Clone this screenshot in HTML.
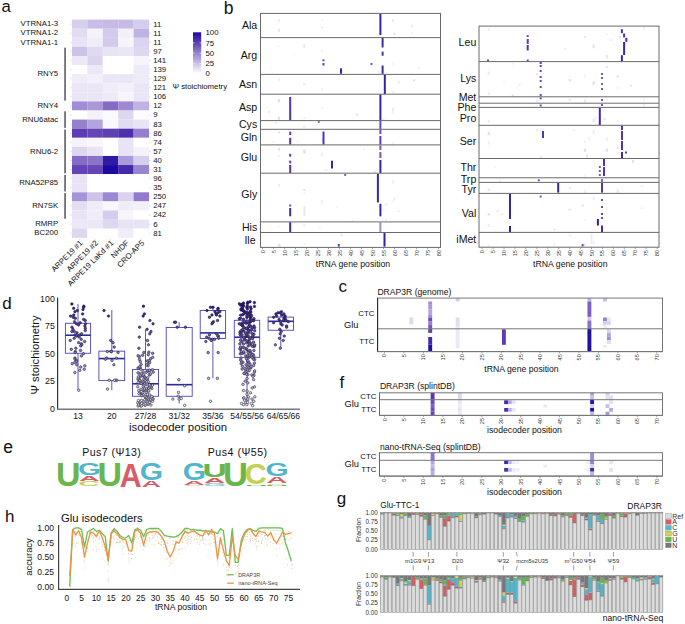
<!DOCTYPE html><html><head><meta charset="utf-8"><style>html,body{margin:0;padding:0;background:#fff;width:685px;height:624px;overflow:hidden}svg{display:block}</style></head><body><svg width="685" height="624" viewBox="0 0 685 624" font-family='"Liberation Sans", sans-serif'><text x="1.60" y="11.60" font-size="16.8" text-anchor="start" fill="#111">a</text>
<text x="223.70" y="13.80" font-size="17.5" text-anchor="start" fill="#111">b</text>
<rect x="72.00" y="19.60" width="15.45" height="9.14" fill="#d7cfee"/>
<rect x="87.40" y="19.60" width="15.45" height="9.14" fill="#c9bde7"/>
<rect x="102.80" y="19.60" width="15.45" height="9.14" fill="#c7bbe6"/>
<rect x="118.20" y="19.60" width="15.45" height="9.14" fill="#c7bbe6"/>
<rect x="133.60" y="19.60" width="15.45" height="9.14" fill="#d5cded"/>
<text x="153.20" y="26.55" font-size="7.8" text-anchor="start" fill="#111">11</text>
<rect x="72.00" y="28.69" width="15.45" height="9.14" fill="#e2dcf2"/>
<rect x="87.40" y="28.69" width="15.45" height="9.14" fill="#f5f2fa"/>
<rect x="102.80" y="28.69" width="15.45" height="9.14" fill="#d3caec"/>
<rect x="118.20" y="28.69" width="15.45" height="9.14" fill="#f3f0f9"/>
<rect x="133.60" y="28.69" width="15.45" height="9.14" fill="#c0b3e3"/>
<text x="153.20" y="35.63" font-size="7.8" text-anchor="start" fill="#111">11</text>
<rect x="72.00" y="37.78" width="15.45" height="9.14" fill="#e8e3f5"/>
<rect x="87.40" y="37.78" width="15.45" height="9.14" fill="#f0edf9"/>
<rect x="102.80" y="37.78" width="15.45" height="9.14" fill="#d3caec"/>
<rect x="118.20" y="37.78" width="15.45" height="9.14" fill="#f7f5fb"/>
<rect x="133.60" y="37.78" width="15.45" height="9.14" fill="#dcd4ef"/>
<text x="153.20" y="44.73" font-size="7.8" text-anchor="start" fill="#111">11</text>
<rect x="72.00" y="46.87" width="15.45" height="9.14" fill="#cdc3e9"/>
<rect x="87.40" y="46.87" width="15.45" height="9.14" fill="#e0d9f1"/>
<rect x="102.80" y="46.87" width="15.45" height="9.14" fill="#e8e3f5"/>
<rect x="118.20" y="46.87" width="15.45" height="9.14" fill="#eae6f6"/>
<rect x="133.60" y="46.87" width="15.45" height="9.14" fill="#ded7f0"/>
<text x="153.20" y="53.82" font-size="7.8" text-anchor="start" fill="#111">97</text>
<rect x="72.00" y="55.96" width="15.45" height="9.14" fill="#ece8f7"/>
<rect x="87.40" y="55.96" width="15.45" height="9.14" fill="#dcd4ef"/>
<rect x="102.80" y="55.96" width="15.45" height="9.14" fill="#ffffff"/>
<rect x="118.20" y="55.96" width="15.45" height="9.14" fill="#ffffff"/>
<rect x="133.60" y="55.96" width="15.45" height="9.14" fill="#f7f5fb"/>
<text x="153.20" y="62.91" font-size="7.8" text-anchor="start" fill="#111">141</text>
<rect x="72.00" y="65.05" width="15.45" height="9.14" fill="#ffffff"/>
<rect x="87.40" y="65.05" width="15.45" height="9.14" fill="#ece8f7"/>
<rect x="102.80" y="65.05" width="15.45" height="9.14" fill="#ffffff"/>
<rect x="118.20" y="65.05" width="15.45" height="9.14" fill="#ffffff"/>
<rect x="133.60" y="65.05" width="15.45" height="9.14" fill="#eeebf8"/>
<text x="153.20" y="72.00" font-size="7.8" text-anchor="start" fill="#111">139</text>
<rect x="72.00" y="74.14" width="15.45" height="9.14" fill="#f0edf9"/>
<rect x="87.40" y="74.14" width="15.45" height="9.14" fill="#f3f0f9"/>
<rect x="102.80" y="74.14" width="15.45" height="9.14" fill="#eae6f6"/>
<rect x="118.20" y="74.14" width="15.45" height="9.14" fill="#eae6f6"/>
<rect x="133.60" y="74.14" width="15.45" height="9.14" fill="#eeebf8"/>
<text x="153.20" y="81.09" font-size="7.8" text-anchor="start" fill="#111">129</text>
<rect x="72.00" y="83.23" width="15.45" height="9.14" fill="#eae6f6"/>
<rect x="87.40" y="83.23" width="15.45" height="9.14" fill="#eae6f6"/>
<rect x="102.80" y="83.23" width="15.45" height="9.14" fill="#f0edf9"/>
<rect x="118.20" y="83.23" width="15.45" height="9.14" fill="#f3f0f9"/>
<rect x="133.60" y="83.23" width="15.45" height="9.14" fill="#eae6f6"/>
<text x="153.20" y="90.17" font-size="7.8" text-anchor="start" fill="#111">121</text>
<rect x="72.00" y="92.32" width="15.45" height="9.14" fill="#eae6f6"/>
<rect x="87.40" y="92.32" width="15.45" height="9.14" fill="#eae6f6"/>
<rect x="102.80" y="92.32" width="15.45" height="9.14" fill="#eeebf8"/>
<rect x="118.20" y="92.32" width="15.45" height="9.14" fill="#f7f5fb"/>
<rect x="133.60" y="92.32" width="15.45" height="9.14" fill="#eae6f6"/>
<text x="153.20" y="99.27" font-size="7.8" text-anchor="start" fill="#111">106</text>
<rect x="72.00" y="101.41" width="15.45" height="9.14" fill="#a18dd3"/>
<rect x="87.40" y="101.41" width="15.45" height="9.14" fill="#a997d7"/>
<rect x="102.80" y="101.41" width="15.45" height="9.14" fill="#856bc6"/>
<rect x="118.20" y="101.41" width="15.45" height="9.14" fill="#9e8ad2"/>
<rect x="133.60" y="101.41" width="15.45" height="9.14" fill="#c0b3e3"/>
<text x="153.20" y="108.36" font-size="7.8" text-anchor="start" fill="#111">12</text>
<rect x="72.00" y="110.50" width="15.45" height="9.14" fill="#ffffff"/>
<rect x="87.40" y="110.50" width="15.45" height="9.14" fill="#f5f2fa"/>
<rect x="102.80" y="110.50" width="15.45" height="9.14" fill="#fbfafd"/>
<rect x="118.20" y="110.50" width="15.45" height="9.14" fill="#ded7f0"/>
<rect x="133.60" y="110.50" width="15.45" height="9.14" fill="#fdfcfe"/>
<text x="153.20" y="117.45" font-size="7.8" text-anchor="start" fill="#111">9</text>
<rect x="72.00" y="119.59" width="15.45" height="9.14" fill="#9680ce"/>
<rect x="87.40" y="119.59" width="15.45" height="9.14" fill="#b4a4dd"/>
<rect x="102.80" y="119.59" width="15.45" height="9.14" fill="#f9f7fc"/>
<rect x="118.20" y="119.59" width="15.45" height="9.14" fill="#e2dcf2"/>
<rect x="133.60" y="119.59" width="15.45" height="9.14" fill="#e8e3f5"/>
<text x="153.20" y="126.54" font-size="7.8" text-anchor="start" fill="#111">83</text>
<rect x="72.00" y="128.68" width="15.45" height="9.14" fill="#5d3cb3"/>
<rect x="87.40" y="128.68" width="15.45" height="9.14" fill="#6646b7"/>
<rect x="102.80" y="128.68" width="15.45" height="9.14" fill="#603eb4"/>
<rect x="118.20" y="128.68" width="15.45" height="9.14" fill="#4d2fae"/>
<rect x="133.60" y="128.68" width="15.45" height="9.14" fill="#9680ce"/>
<text x="153.20" y="135.62" font-size="7.8" text-anchor="start" fill="#111">86</text>
<rect x="72.00" y="137.77" width="15.45" height="9.14" fill="#f5f2fa"/>
<rect x="87.40" y="137.77" width="15.45" height="9.14" fill="#f9f7fc"/>
<rect x="102.80" y="137.77" width="15.45" height="9.14" fill="#ffffff"/>
<rect x="118.20" y="137.77" width="15.45" height="9.14" fill="#e8e3f5"/>
<rect x="133.60" y="137.77" width="15.45" height="9.14" fill="#ffffff"/>
<text x="153.20" y="144.72" font-size="7.8" text-anchor="start" fill="#111">74</text>
<rect x="72.00" y="146.86" width="15.45" height="9.14" fill="#ded7f0"/>
<rect x="87.40" y="146.86" width="15.45" height="9.14" fill="#e8e3f5"/>
<rect x="102.80" y="146.86" width="15.45" height="9.14" fill="#ffffff"/>
<rect x="118.20" y="146.86" width="15.45" height="9.14" fill="#e8e3f5"/>
<rect x="133.60" y="146.86" width="15.45" height="9.14" fill="#f5f2fa"/>
<text x="153.20" y="153.80" font-size="7.8" text-anchor="start" fill="#111">57</text>
<rect x="72.00" y="155.95" width="15.45" height="9.14" fill="#856bc6"/>
<rect x="87.40" y="155.95" width="15.45" height="9.14" fill="#8b73c9"/>
<rect x="102.80" y="155.95" width="15.45" height="9.14" fill="#2f19a6"/>
<rect x="118.20" y="155.95" width="15.45" height="9.14" fill="#ab9ad8"/>
<rect x="133.60" y="155.95" width="15.45" height="9.14" fill="#d7cfee"/>
<text x="153.20" y="162.89" font-size="7.8" text-anchor="start" fill="#111">40</text>
<rect x="72.00" y="165.04" width="15.45" height="9.14" fill="#6443b6"/>
<rect x="87.40" y="165.04" width="15.45" height="9.14" fill="#6646b7"/>
<rect x="102.80" y="165.04" width="15.45" height="9.14" fill="#1c0aa0"/>
<rect x="118.20" y="165.04" width="15.45" height="9.14" fill="#4529ac"/>
<rect x="133.60" y="165.04" width="15.45" height="9.14" fill="#9a85d0"/>
<text x="153.20" y="171.98" font-size="7.8" text-anchor="start" fill="#111">31</text>
<rect x="72.00" y="174.13" width="15.45" height="9.14" fill="#e8e3f5"/>
<rect x="87.40" y="174.13" width="15.45" height="9.14" fill="#ffffff"/>
<rect x="102.80" y="174.13" width="15.45" height="9.14" fill="#ffffff"/>
<rect x="118.20" y="174.13" width="15.45" height="9.14" fill="#ffffff"/>
<rect x="133.60" y="174.13" width="15.45" height="9.14" fill="#ffffff"/>
<text x="153.20" y="181.07" font-size="7.8" text-anchor="start" fill="#111">96</text>
<rect x="72.00" y="183.22" width="15.45" height="9.14" fill="#e8e3f5"/>
<rect x="87.40" y="183.22" width="15.45" height="9.14" fill="#ffffff"/>
<rect x="102.80" y="183.22" width="15.45" height="9.14" fill="#ffffff"/>
<rect x="118.20" y="183.22" width="15.45" height="9.14" fill="#ffffff"/>
<rect x="133.60" y="183.22" width="15.45" height="9.14" fill="#ffffff"/>
<text x="153.20" y="190.16" font-size="7.8" text-anchor="start" fill="#111">35</text>
<rect x="72.00" y="192.31" width="15.45" height="9.14" fill="#a794d6"/>
<rect x="87.40" y="192.31" width="15.45" height="9.14" fill="#cdc3e9"/>
<rect x="102.80" y="192.31" width="15.45" height="9.14" fill="#9c88d1"/>
<rect x="118.20" y="192.31" width="15.45" height="9.14" fill="#dad2ee"/>
<rect x="133.60" y="192.31" width="15.45" height="9.14" fill="#927bcc"/>
<text x="153.20" y="199.25" font-size="7.8" text-anchor="start" fill="#111">250</text>
<rect x="72.00" y="201.40" width="15.45" height="9.14" fill="#e4def3"/>
<rect x="87.40" y="201.40" width="15.45" height="9.14" fill="#f0edf9"/>
<rect x="102.80" y="201.40" width="15.45" height="9.14" fill="#f9f7fc"/>
<rect x="118.20" y="201.40" width="15.45" height="9.14" fill="#f0edf9"/>
<rect x="133.60" y="201.40" width="15.45" height="9.14" fill="#f3f0f9"/>
<text x="153.20" y="208.34" font-size="7.8" text-anchor="start" fill="#111">247</text>
<rect x="72.00" y="210.49" width="15.45" height="9.14" fill="#e8e3f5"/>
<rect x="87.40" y="210.49" width="15.45" height="9.14" fill="#f0edf9"/>
<rect x="102.80" y="210.49" width="15.45" height="9.14" fill="#d5cded"/>
<rect x="118.20" y="210.49" width="15.45" height="9.14" fill="#f7f5fb"/>
<rect x="133.60" y="210.49" width="15.45" height="9.14" fill="#ffffff"/>
<text x="153.20" y="217.43" font-size="7.8" text-anchor="start" fill="#111">242</text>
<rect x="72.00" y="219.58" width="15.45" height="9.14" fill="#ece8f7"/>
<rect x="87.40" y="219.58" width="15.45" height="9.14" fill="#ece8f7"/>
<rect x="102.80" y="219.58" width="15.45" height="9.14" fill="#ded7f0"/>
<rect x="118.20" y="219.58" width="15.45" height="9.14" fill="#e8e3f5"/>
<rect x="133.60" y="219.58" width="15.45" height="9.14" fill="#e8e3f5"/>
<text x="153.20" y="226.52" font-size="7.8" text-anchor="start" fill="#111">6</text>
<rect x="72.00" y="228.67" width="15.45" height="9.14" fill="#ded7f0"/>
<rect x="87.40" y="228.67" width="15.45" height="9.14" fill="#ffffff"/>
<rect x="102.80" y="228.67" width="15.45" height="9.14" fill="#ffffff"/>
<rect x="118.20" y="228.67" width="15.45" height="9.14" fill="#f0edf9"/>
<rect x="133.60" y="228.67" width="15.45" height="9.14" fill="#ffffff"/>
<text x="153.20" y="235.61" font-size="7.8" text-anchor="start" fill="#111">81</text>
<line x1="70.20" y1="24.15" x2="71.80" y2="24.15" stroke="#bbb" stroke-width="0.5"/>
<line x1="149.10" y1="24.15" x2="150.70" y2="24.15" stroke="#bbb" stroke-width="0.5"/>
<line x1="70.20" y1="33.23" x2="71.80" y2="33.23" stroke="#bbb" stroke-width="0.5"/>
<line x1="149.10" y1="33.23" x2="150.70" y2="33.23" stroke="#bbb" stroke-width="0.5"/>
<line x1="70.20" y1="42.33" x2="71.80" y2="42.33" stroke="#bbb" stroke-width="0.5"/>
<line x1="149.10" y1="42.33" x2="150.70" y2="42.33" stroke="#bbb" stroke-width="0.5"/>
<line x1="70.20" y1="51.42" x2="71.80" y2="51.42" stroke="#bbb" stroke-width="0.5"/>
<line x1="149.10" y1="51.42" x2="150.70" y2="51.42" stroke="#bbb" stroke-width="0.5"/>
<line x1="70.20" y1="60.51" x2="71.80" y2="60.51" stroke="#bbb" stroke-width="0.5"/>
<line x1="149.10" y1="60.51" x2="150.70" y2="60.51" stroke="#bbb" stroke-width="0.5"/>
<line x1="70.20" y1="69.60" x2="71.80" y2="69.60" stroke="#bbb" stroke-width="0.5"/>
<line x1="149.10" y1="69.60" x2="150.70" y2="69.60" stroke="#bbb" stroke-width="0.5"/>
<line x1="70.20" y1="78.69" x2="71.80" y2="78.69" stroke="#bbb" stroke-width="0.5"/>
<line x1="149.10" y1="78.69" x2="150.70" y2="78.69" stroke="#bbb" stroke-width="0.5"/>
<line x1="70.20" y1="87.77" x2="71.80" y2="87.77" stroke="#bbb" stroke-width="0.5"/>
<line x1="149.10" y1="87.77" x2="150.70" y2="87.77" stroke="#bbb" stroke-width="0.5"/>
<line x1="70.20" y1="96.86" x2="71.80" y2="96.86" stroke="#bbb" stroke-width="0.5"/>
<line x1="149.10" y1="96.86" x2="150.70" y2="96.86" stroke="#bbb" stroke-width="0.5"/>
<line x1="70.20" y1="105.95" x2="71.80" y2="105.95" stroke="#bbb" stroke-width="0.5"/>
<line x1="149.10" y1="105.95" x2="150.70" y2="105.95" stroke="#bbb" stroke-width="0.5"/>
<line x1="70.20" y1="115.05" x2="71.80" y2="115.05" stroke="#bbb" stroke-width="0.5"/>
<line x1="149.10" y1="115.05" x2="150.70" y2="115.05" stroke="#bbb" stroke-width="0.5"/>
<line x1="70.20" y1="124.14" x2="71.80" y2="124.14" stroke="#bbb" stroke-width="0.5"/>
<line x1="149.10" y1="124.14" x2="150.70" y2="124.14" stroke="#bbb" stroke-width="0.5"/>
<line x1="70.20" y1="133.22" x2="71.80" y2="133.22" stroke="#bbb" stroke-width="0.5"/>
<line x1="149.10" y1="133.22" x2="150.70" y2="133.22" stroke="#bbb" stroke-width="0.5"/>
<line x1="70.20" y1="142.31" x2="71.80" y2="142.31" stroke="#bbb" stroke-width="0.5"/>
<line x1="149.10" y1="142.31" x2="150.70" y2="142.31" stroke="#bbb" stroke-width="0.5"/>
<line x1="70.20" y1="151.40" x2="71.80" y2="151.40" stroke="#bbb" stroke-width="0.5"/>
<line x1="149.10" y1="151.40" x2="150.70" y2="151.40" stroke="#bbb" stroke-width="0.5"/>
<line x1="70.20" y1="160.49" x2="71.80" y2="160.49" stroke="#bbb" stroke-width="0.5"/>
<line x1="149.10" y1="160.49" x2="150.70" y2="160.49" stroke="#bbb" stroke-width="0.5"/>
<line x1="70.20" y1="169.58" x2="71.80" y2="169.58" stroke="#bbb" stroke-width="0.5"/>
<line x1="149.10" y1="169.58" x2="150.70" y2="169.58" stroke="#bbb" stroke-width="0.5"/>
<line x1="70.20" y1="178.67" x2="71.80" y2="178.67" stroke="#bbb" stroke-width="0.5"/>
<line x1="149.10" y1="178.67" x2="150.70" y2="178.67" stroke="#bbb" stroke-width="0.5"/>
<line x1="70.20" y1="187.76" x2="71.80" y2="187.76" stroke="#bbb" stroke-width="0.5"/>
<line x1="149.10" y1="187.76" x2="150.70" y2="187.76" stroke="#bbb" stroke-width="0.5"/>
<line x1="70.20" y1="196.85" x2="71.80" y2="196.85" stroke="#bbb" stroke-width="0.5"/>
<line x1="149.10" y1="196.85" x2="150.70" y2="196.85" stroke="#bbb" stroke-width="0.5"/>
<line x1="70.20" y1="205.94" x2="71.80" y2="205.94" stroke="#bbb" stroke-width="0.5"/>
<line x1="149.10" y1="205.94" x2="150.70" y2="205.94" stroke="#bbb" stroke-width="0.5"/>
<line x1="70.20" y1="215.03" x2="71.80" y2="215.03" stroke="#bbb" stroke-width="0.5"/>
<line x1="149.10" y1="215.03" x2="150.70" y2="215.03" stroke="#bbb" stroke-width="0.5"/>
<line x1="70.20" y1="224.12" x2="71.80" y2="224.12" stroke="#bbb" stroke-width="0.5"/>
<line x1="149.10" y1="224.12" x2="150.70" y2="224.12" stroke="#bbb" stroke-width="0.5"/>
<line x1="70.20" y1="233.21" x2="71.80" y2="233.21" stroke="#bbb" stroke-width="0.5"/>
<line x1="149.10" y1="233.21" x2="150.70" y2="233.21" stroke="#bbb" stroke-width="0.5"/>
<line x1="79.70" y1="238.80" x2="79.70" y2="240.20" stroke="#bbb" stroke-width="0.5"/>
<line x1="95.10" y1="238.80" x2="95.10" y2="240.20" stroke="#bbb" stroke-width="0.5"/>
<line x1="110.50" y1="238.80" x2="110.50" y2="240.20" stroke="#bbb" stroke-width="0.5"/>
<line x1="125.90" y1="238.80" x2="125.90" y2="240.20" stroke="#bbb" stroke-width="0.5"/>
<line x1="141.30" y1="238.80" x2="141.30" y2="240.20" stroke="#bbb" stroke-width="0.5"/>
<text x="58.20" y="26.35" font-size="7.8" text-anchor="end" fill="#111">VTRNA1-3</text>
<text x="58.20" y="35.44" font-size="7.8" text-anchor="end" fill="#111">VTRNA1-2</text>
<text x="58.20" y="44.53" font-size="7.8" text-anchor="end" fill="#111">VTRNA1-1</text>
<text x="58.20" y="76.34" font-size="7.8" text-anchor="end" fill="#111">RNY5</text>
<rect x="64.40" y="47.67" width="1.30" height="52.94" fill="#3a3a3a"/>
<text x="58.20" y="108.16" font-size="7.8" text-anchor="end" fill="#111">RNY4</text>
<text x="58.20" y="121.79" font-size="7.8" text-anchor="end" fill="#111">RNU6atac</text>
<rect x="64.40" y="111.30" width="1.30" height="16.58" fill="#3a3a3a"/>
<text x="58.20" y="153.60" font-size="7.8" text-anchor="end" fill="#111">RNU6-2</text>
<rect x="64.40" y="129.48" width="1.30" height="43.85" fill="#3a3a3a"/>
<text x="58.20" y="185.42" font-size="7.8" text-anchor="end" fill="#111">RNA52P85</text>
<rect x="64.40" y="174.93" width="1.30" height="16.58" fill="#3a3a3a"/>
<text x="58.20" y="208.14" font-size="7.8" text-anchor="end" fill="#111">RN7SK</text>
<rect x="64.40" y="193.11" width="1.30" height="25.67" fill="#3a3a3a"/>
<text x="58.20" y="226.32" font-size="7.8" text-anchor="end" fill="#111">RMRP</text>
<text x="58.20" y="235.41" font-size="7.8" text-anchor="end" fill="#111">BC200</text>
<text x="83.20" y="243.50" font-size="7.8" text-anchor="end" fill="#111" transform="rotate(-45 83.20 243.50)">ARPE19 #1</text>
<text x="98.60" y="243.50" font-size="7.8" text-anchor="end" fill="#111" transform="rotate(-45 98.60 243.50)">ARPE19 #2</text>
<text x="114.00" y="243.50" font-size="7.8" text-anchor="end" fill="#111" transform="rotate(-45 114.00 243.50)">ARPE19 LaKd #1</text>
<text x="129.40" y="243.50" font-size="7.8" text-anchor="end" fill="#111" transform="rotate(-45 129.40 243.50)">NHDF</text>
<text x="144.80" y="243.50" font-size="7.8" text-anchor="end" fill="#111" transform="rotate(-45 144.80 243.50)">CRO-AP5</text>
<defs><linearGradient id="cb" x1="0" y1="1" x2="0" y2="0"><stop offset="0.00" stop-color="#ffffff"/><stop offset="0.05" stop-color="#f5f2fa"/><stop offset="0.10" stop-color="#eae6f6"/><stop offset="0.15" stop-color="#e0d9f1"/><stop offset="0.20" stop-color="#d5cded"/><stop offset="0.25" stop-color="#cbc0e8"/><stop offset="0.30" stop-color="#c0b3e3"/><stop offset="0.35" stop-color="#b6a6de"/><stop offset="0.40" stop-color="#ab9ad8"/><stop offset="0.45" stop-color="#a18dd3"/><stop offset="0.50" stop-color="#9680ce"/><stop offset="0.55" stop-color="#8b73c9"/><stop offset="0.60" stop-color="#8066c4"/><stop offset="0.65" stop-color="#7658be"/><stop offset="0.70" stop-color="#6b4bb9"/><stop offset="0.75" stop-color="#603eb4"/><stop offset="0.80" stop-color="#5234b0"/><stop offset="0.85" stop-color="#4529ac"/><stop offset="0.90" stop-color="#371fa8"/><stop offset="0.95" stop-color="#2a14a4"/><stop offset="1.00" stop-color="#1c0aa0"/></linearGradient></defs>
<rect x="193.00" y="32.30" width="8.20" height="41.30" fill="url(#cb)"/>
<text x="205.50" y="76.40" font-size="7.8" text-anchor="start" fill="#111">0</text>
<line x1="193.00" y1="63.40" x2="194.60" y2="63.40" stroke="#ffffff" stroke-width="0.6"/>
<line x1="199.60" y1="63.40" x2="201.20" y2="63.40" stroke="#ffffff" stroke-width="0.6"/>
<text x="205.50" y="66.10" font-size="7.8" text-anchor="start" fill="#111">25</text>
<line x1="193.00" y1="53.10" x2="194.60" y2="53.10" stroke="#ffffff" stroke-width="0.6"/>
<line x1="199.60" y1="53.10" x2="201.20" y2="53.10" stroke="#ffffff" stroke-width="0.6"/>
<text x="205.50" y="55.80" font-size="7.8" text-anchor="start" fill="#111">50</text>
<line x1="193.00" y1="42.80" x2="194.60" y2="42.80" stroke="#ffffff" stroke-width="0.6"/>
<line x1="199.60" y1="42.80" x2="201.20" y2="42.80" stroke="#ffffff" stroke-width="0.6"/>
<text x="205.50" y="45.50" font-size="7.8" text-anchor="start" fill="#111">75</text>
<text x="205.50" y="35.20" font-size="7.8" text-anchor="start" fill="#111">100</text>
<text x="172.50" y="88.60" font-size="7.8" text-anchor="start" fill="#111">Ψ  stoichiometry</text>
<rect x="393.40" y="32.75" width="2.20" height="2.00" fill="#e6e1f4"/>
<rect x="411.00" y="32.53" width="2.20" height="1.50" fill="#f0edf9"/>
<rect x="411.00" y="24.49" width="2.20" height="3.00" fill="#f0edf9"/>
<rect x="294.40" y="53.69" width="2.20" height="1.50" fill="#f5f2fa"/>
<rect x="417.60" y="65.97" width="2.20" height="3.00" fill="#f5f2fa"/>
<rect x="378.00" y="71.21" width="2.20" height="3.00" fill="#f0edf9"/>
<rect x="270.20" y="66.71" width="2.20" height="1.50" fill="#f5f2fa"/>
<rect x="276.80" y="45.03" width="2.20" height="1.50" fill="#f5f2fa"/>
<rect x="397.80" y="80.88" width="2.20" height="3.00" fill="#f0edf9"/>
<rect x="413.20" y="79.33" width="2.20" height="2.00" fill="#e6e1f4"/>
<rect x="268.00" y="110.70" width="2.20" height="2.00" fill="#ece8f7"/>
<rect x="382.40" y="118.55" width="2.20" height="1.50" fill="#ece8f7"/>
<rect x="356.00" y="112.94" width="2.20" height="3.00" fill="#ece8f7"/>
<rect x="274.60" y="122.00" width="2.20" height="1.50" fill="#e6e1f4"/>
<rect x="296.60" y="140.97" width="2.20" height="2.00" fill="#f5f2fa"/>
<rect x="272.40" y="140.98" width="2.20" height="1.50" fill="#f0edf9"/>
<rect x="325.20" y="169.35" width="2.20" height="1.50" fill="#e6e1f4"/>
<rect x="373.60" y="170.70" width="2.20" height="2.00" fill="#e6e1f4"/>
<rect x="287.80" y="160.23" width="2.20" height="1.50" fill="#ece8f7"/>
<rect x="362.60" y="148.10" width="2.20" height="2.00" fill="#f5f2fa"/>
<rect x="382.40" y="208.84" width="2.20" height="1.50" fill="#f0edf9"/>
<rect x="336.20" y="206.51" width="2.20" height="1.50" fill="#f5f2fa"/>
<rect x="397.80" y="210.62" width="2.20" height="1.50" fill="#f0edf9"/>
<rect x="393.40" y="197.46" width="2.20" height="3.00" fill="#f0edf9"/>
<rect x="384.60" y="203.62" width="2.20" height="1.50" fill="#e6e1f4"/>
<rect x="384.60" y="219.45" width="2.20" height="1.50" fill="#ece8f7"/>
<rect x="351.60" y="219.80" width="2.20" height="1.50" fill="#f0edf9"/>
<rect x="318.60" y="225.90" width="2.20" height="3.00" fill="#f5f2fa"/>
<rect x="279.00" y="245.27" width="2.20" height="1.50" fill="#e6e1f4"/>
<rect x="340.60" y="233.61" width="2.20" height="3.00" fill="#ece8f7"/>
<rect x="618.82" y="35.84" width="2.20" height="3.00" fill="#ece8f7"/>
<rect x="527.01" y="39.50" width="2.20" height="2.00" fill="#e6e1f4"/>
<rect x="564.17" y="48.01" width="2.20" height="2.00" fill="#f0edf9"/>
<rect x="642.86" y="27.15" width="2.20" height="3.00" fill="#f0edf9"/>
<rect x="610.07" y="39.05" width="2.20" height="2.00" fill="#f0edf9"/>
<rect x="502.96" y="81.15" width="2.20" height="1.50" fill="#f5f2fa"/>
<rect x="629.75" y="84.72" width="2.20" height="2.00" fill="#e6e1f4"/>
<rect x="511.70" y="63.20" width="2.20" height="1.50" fill="#f0edf9"/>
<rect x="511.70" y="94.46" width="2.20" height="2.00" fill="#e6e1f4"/>
<rect x="518.26" y="83.88" width="2.20" height="1.50" fill="#ece8f7"/>
<rect x="642.86" y="98.36" width="2.20" height="3.00" fill="#f5f2fa"/>
<rect x="642.86" y="104.41" width="2.20" height="1.50" fill="#e6e1f4"/>
<rect x="603.52" y="118.36" width="2.20" height="2.00" fill="#e6e1f4"/>
<rect x="594.77" y="116.46" width="2.20" height="3.00" fill="#f5f2fa"/>
<rect x="540.12" y="155.78" width="2.20" height="3.00" fill="#ece8f7"/>
<rect x="586.03" y="154.72" width="2.20" height="3.00" fill="#e6e1f4"/>
<rect x="572.91" y="129.74" width="2.20" height="1.50" fill="#ece8f7"/>
<rect x="588.21" y="137.51" width="2.20" height="3.00" fill="#f0edf9"/>
<rect x="494.22" y="165.71" width="2.20" height="2.00" fill="#f5f2fa"/>
<rect x="631.93" y="159.92" width="2.20" height="3.00" fill="#e6e1f4"/>
<rect x="498.59" y="179.42" width="2.20" height="3.00" fill="#f5f2fa"/>
<rect x="640.68" y="185.17" width="2.20" height="1.50" fill="#ece8f7"/>
<rect x="496.40" y="210.01" width="2.20" height="2.00" fill="#ece8f7"/>
<rect x="500.77" y="212.90" width="2.20" height="2.00" fill="#f0edf9"/>
<rect x="581.66" y="204.55" width="2.20" height="2.00" fill="#e6e1f4"/>
<rect x="553.24" y="228.81" width="2.20" height="1.50" fill="#e6e1f4"/>
<rect x="640.68" y="207.51" width="2.20" height="1.50" fill="#f0edf9"/>
<rect x="487.66" y="244.58" width="2.20" height="2.00" fill="#f0edf9"/>
<rect x="553.24" y="242.78" width="2.20" height="3.00" fill="#f5f2fa"/>
<rect x="277.90" y="28.49" width="2.20" height="3.50" fill="#eae6f6"/>
<rect x="277.90" y="19.16" width="2.20" height="2.50" fill="#eeebf8"/>
<rect x="320.80" y="19.55" width="2.20" height="1.80" fill="#f3f0f9"/>
<rect x="320.80" y="26.43" width="2.20" height="1.80" fill="#eeebf8"/>
<rect x="391.86" y="19.48" width="2.20" height="1.80" fill="#e4def3"/>
<rect x="320.80" y="49.72" width="2.20" height="2.50" fill="#f3f0f9"/>
<rect x="391.86" y="63.04" width="2.20" height="1.80" fill="#f3f0f9"/>
<rect x="303.20" y="44.30" width="2.20" height="3.50" fill="#eae6f6"/>
<rect x="277.90" y="78.21" width="2.20" height="3.50" fill="#f3f0f9"/>
<rect x="320.80" y="88.45" width="2.20" height="1.80" fill="#eeebf8"/>
<rect x="391.86" y="90.72" width="2.20" height="3.50" fill="#f3f0f9"/>
<rect x="303.20" y="83.19" width="2.20" height="2.50" fill="#eeebf8"/>
<rect x="277.90" y="98.90" width="2.20" height="3.50" fill="#e4def3"/>
<rect x="277.90" y="116.60" width="2.20" height="3.50" fill="#e4def3"/>
<rect x="320.80" y="106.31" width="2.20" height="2.50" fill="#f3f0f9"/>
<rect x="391.86" y="111.38" width="2.20" height="2.50" fill="#f3f0f9"/>
<rect x="391.86" y="107.75" width="2.20" height="3.50" fill="#eeebf8"/>
<rect x="303.20" y="117.16" width="2.20" height="1.80" fill="#eeebf8"/>
<rect x="303.20" y="125.30" width="2.20" height="2.50" fill="#eeebf8"/>
<rect x="277.90" y="131.53" width="2.20" height="1.80" fill="#e4def3"/>
<rect x="320.80" y="138.39" width="2.20" height="3.50" fill="#eeebf8"/>
<rect x="391.86" y="141.78" width="2.20" height="3.50" fill="#f3f0f9"/>
<rect x="277.90" y="155.34" width="2.20" height="1.80" fill="#eeebf8"/>
<rect x="277.90" y="148.05" width="2.20" height="2.50" fill="#e4def3"/>
<rect x="320.80" y="153.25" width="2.20" height="2.50" fill="#eae6f6"/>
<rect x="320.80" y="152.32" width="2.20" height="2.50" fill="#f3f0f9"/>
<rect x="303.20" y="150.00" width="2.20" height="3.50" fill="#e4def3"/>
<rect x="303.20" y="149.72" width="2.20" height="3.50" fill="#e4def3"/>
<rect x="277.90" y="184.07" width="2.20" height="2.50" fill="#eeebf8"/>
<rect x="320.80" y="200.39" width="2.20" height="2.50" fill="#eae6f6"/>
<rect x="391.86" y="200.71" width="2.20" height="1.80" fill="#f3f0f9"/>
<rect x="391.86" y="180.26" width="2.20" height="3.50" fill="#f3f0f9"/>
<rect x="303.20" y="189.12" width="2.20" height="1.80" fill="#e4def3"/>
<rect x="303.20" y="192.63" width="2.20" height="1.80" fill="#eeebf8"/>
<rect x="277.90" y="225.82" width="2.20" height="1.80" fill="#f3f0f9"/>
<rect x="303.20" y="224.13" width="2.20" height="2.50" fill="#eeebf8"/>
<rect x="277.90" y="243.80" width="2.20" height="2.50" fill="#e4def3"/>
<rect x="303.20" y="242.92" width="2.20" height="1.80" fill="#f3f0f9"/>
<rect x="487.66" y="28.33" width="2.20" height="2.50" fill="#eeebf8"/>
<rect x="583.84" y="35.95" width="2.20" height="1.80" fill="#eae6f6"/>
<rect x="592.59" y="44.71" width="2.20" height="3.50" fill="#e4def3"/>
<rect x="605.70" y="54.92" width="2.20" height="3.50" fill="#eae6f6"/>
<rect x="605.70" y="33.49" width="2.20" height="1.80" fill="#f3f0f9"/>
<rect x="487.66" y="92.47" width="2.20" height="2.50" fill="#eeebf8"/>
<rect x="487.66" y="71.41" width="2.20" height="3.50" fill="#eeebf8"/>
<rect x="535.75" y="73.61" width="2.20" height="1.80" fill="#e4def3"/>
<rect x="568.54" y="78.98" width="2.20" height="2.50" fill="#e4def3"/>
<rect x="583.84" y="74.57" width="2.20" height="3.50" fill="#f3f0f9"/>
<rect x="592.59" y="81.39" width="2.20" height="3.50" fill="#e4def3"/>
<rect x="605.70" y="65.88" width="2.20" height="2.50" fill="#eae6f6"/>
<rect x="616.63" y="87.08" width="2.20" height="1.80" fill="#eeebf8"/>
<rect x="616.63" y="75.40" width="2.20" height="1.80" fill="#e4def3"/>
<rect x="535.75" y="99.34" width="2.20" height="2.50" fill="#eeebf8"/>
<rect x="568.54" y="98.98" width="2.20" height="1.80" fill="#e4def3"/>
<rect x="583.84" y="99.32" width="2.20" height="3.50" fill="#eeebf8"/>
<rect x="605.70" y="98.67" width="2.20" height="1.80" fill="#eeebf8"/>
<rect x="487.66" y="120.24" width="2.20" height="2.50" fill="#eeebf8"/>
<rect x="592.59" y="118.65" width="2.20" height="3.50" fill="#eae6f6"/>
<rect x="616.63" y="119.72" width="2.20" height="2.50" fill="#f3f0f9"/>
<rect x="487.66" y="141.15" width="2.20" height="3.50" fill="#f3f0f9"/>
<rect x="487.66" y="131.72" width="2.20" height="3.50" fill="#e4def3"/>
<rect x="535.75" y="128.99" width="2.20" height="1.80" fill="#eae6f6"/>
<rect x="583.84" y="140.77" width="2.20" height="1.80" fill="#eeebf8"/>
<rect x="583.84" y="148.40" width="2.20" height="3.50" fill="#e4def3"/>
<rect x="592.59" y="130.17" width="2.20" height="3.50" fill="#eeebf8"/>
<rect x="605.70" y="137.64" width="2.20" height="3.50" fill="#f3f0f9"/>
<rect x="605.70" y="148.43" width="2.20" height="3.50" fill="#e4def3"/>
<rect x="616.63" y="146.57" width="2.20" height="2.50" fill="#e4def3"/>
<rect x="616.63" y="152.32" width="2.20" height="1.80" fill="#eae6f6"/>
<rect x="583.84" y="174.23" width="2.20" height="2.50" fill="#f3f0f9"/>
<rect x="592.59" y="162.34" width="2.20" height="2.50" fill="#f3f0f9"/>
<rect x="487.66" y="188.90" width="2.20" height="1.80" fill="#e4def3"/>
<rect x="568.54" y="187.37" width="2.20" height="1.80" fill="#eae6f6"/>
<rect x="583.84" y="189.52" width="2.20" height="3.50" fill="#f3f0f9"/>
<rect x="616.63" y="189.40" width="2.20" height="3.50" fill="#eae6f6"/>
<rect x="487.66" y="224.03" width="2.20" height="2.50" fill="#eeebf8"/>
<rect x="487.66" y="213.03" width="2.20" height="2.50" fill="#e4def3"/>
<rect x="568.54" y="208.90" width="2.20" height="1.80" fill="#e4def3"/>
<rect x="583.84" y="219.29" width="2.20" height="1.80" fill="#f3f0f9"/>
<rect x="592.59" y="196.77" width="2.20" height="3.50" fill="#eeebf8"/>
<rect x="605.70" y="207.39" width="2.20" height="3.50" fill="#f3f0f9"/>
<rect x="605.70" y="221.39" width="2.20" height="1.80" fill="#f3f0f9"/>
<rect x="568.54" y="234.59" width="2.20" height="1.80" fill="#eae6f6"/>
<rect x="583.84" y="243.56" width="2.20" height="2.50" fill="#eae6f6"/>
<rect x="592.59" y="240.86" width="2.20" height="3.50" fill="#f3f0f9"/>
<rect x="379.40" y="13.80" width="2.00" height="21.20" fill="#3d23aa"/>
<rect x="381.60" y="38.00" width="2.00" height="9.50" fill="#4529ac"/>
<rect x="381.60" y="51.60" width="2.00" height="4.20" fill="#5234b0"/>
<rect x="381.60" y="65.50" width="2.00" height="8.30" fill="#4529ac"/>
<rect x="322.50" y="59.40" width="2.00" height="1.80" fill="#603eb4"/>
<rect x="322.50" y="63.00" width="2.00" height="2.50" fill="#603eb4"/>
<rect x="340.00" y="68.30" width="2.00" height="5.50" fill="#3d23aa"/>
<rect x="370.50" y="63.00" width="2.00" height="2.00" fill="#7658be"/>
<rect x="383.80" y="74.60" width="2.00" height="19.40" fill="#371fa8"/>
<rect x="289.20" y="97.00" width="2.00" height="23.40" fill="#5234b0"/>
<rect x="379.40" y="94.40" width="2.00" height="26.00" fill="#3d23aa"/>
<rect x="317.80" y="121.00" width="2.00" height="2.00" fill="#8b73c9"/>
<rect x="379.40" y="120.80" width="2.00" height="8.20" fill="#6b4bb9"/>
<rect x="289.20" y="131.60" width="2.00" height="3.40" fill="#603eb4"/>
<rect x="289.20" y="137.80" width="2.00" height="6.80" fill="#5234b0"/>
<rect x="322.50" y="131.60" width="2.00" height="13.00" fill="#5234b0"/>
<rect x="379.40" y="130.00" width="2.00" height="4.00" fill="#6b4bb9"/>
<rect x="379.40" y="136.00" width="2.00" height="8.60" fill="#603eb4"/>
<rect x="289.20" y="153.80" width="2.00" height="2.80" fill="#603eb4"/>
<rect x="289.20" y="160.70" width="2.00" height="2.70" fill="#603eb4"/>
<rect x="289.20" y="164.90" width="2.00" height="8.10" fill="#5234b0"/>
<rect x="331.00" y="160.70" width="2.00" height="7.80" fill="#3d23aa"/>
<rect x="379.40" y="145.50" width="2.00" height="4.50" fill="#7658be"/>
<rect x="379.40" y="152.00" width="2.00" height="6.00" fill="#7658be"/>
<rect x="379.40" y="160.00" width="2.00" height="13.00" fill="#3d23aa"/>
<rect x="289.20" y="204.50" width="2.00" height="2.00" fill="#6b4bb9"/>
<rect x="289.20" y="208.00" width="2.00" height="8.30" fill="#4529ac"/>
<rect x="344.20" y="174.00" width="2.00" height="2.00" fill="#8066c4"/>
<rect x="376.90" y="174.00" width="2.00" height="28.40" fill="#3d23aa"/>
<rect x="379.40" y="203.80" width="2.00" height="12.50" fill="#3d23aa"/>
<rect x="303.40" y="206.00" width="2.00" height="10.00" fill="#eae6f6"/>
<rect x="289.20" y="222.20" width="2.00" height="9.80" fill="#4529ac"/>
<rect x="379.40" y="222.20" width="2.00" height="9.80" fill="#a18dd3"/>
<rect x="383.50" y="232.40" width="2.00" height="14.20" fill="#371fa8"/>
<rect x="337.80" y="244.00" width="2.00" height="2.60" fill="#603eb4"/>
<rect x="526.70" y="35.00" width="2.00" height="2.00" fill="#6b4bb9"/>
<rect x="526.70" y="39.00" width="2.00" height="5.00" fill="#603eb4"/>
<rect x="526.70" y="45.00" width="2.00" height="5.50" fill="#5234b0"/>
<rect x="526.70" y="59.50" width="2.00" height="1.90" fill="#603eb4"/>
<rect x="487.00" y="59.50" width="2.00" height="1.90" fill="#6b4bb9"/>
<rect x="620.90" y="29.20" width="2.00" height="4.00" fill="#5234b0"/>
<rect x="623.10" y="33.50" width="2.00" height="3.90" fill="#5234b0"/>
<rect x="625.30" y="37.80" width="2.00" height="4.00" fill="#4529ac"/>
<rect x="623.10" y="42.00" width="2.00" height="13.00" fill="#3d23aa"/>
<rect x="620.90" y="55.20" width="2.00" height="6.20" fill="#3d23aa"/>
<rect x="539.70" y="62.00" width="2.00" height="2.00" fill="#603eb4"/>
<rect x="539.70" y="65.00" width="2.00" height="2.00" fill="#603eb4"/>
<rect x="539.70" y="70.00" width="2.00" height="2.00" fill="#6b4bb9"/>
<rect x="539.70" y="76.00" width="2.00" height="2.00" fill="#6b4bb9"/>
<rect x="539.70" y="80.00" width="2.00" height="2.00" fill="#6b4bb9"/>
<rect x="539.70" y="86.00" width="2.00" height="2.00" fill="#6b4bb9"/>
<rect x="539.70" y="94.00" width="2.00" height="2.00" fill="#6b4bb9"/>
<rect x="601.00" y="73.00" width="2.00" height="2.00" fill="#7658be"/>
<rect x="601.00" y="77.00" width="2.00" height="2.00" fill="#7658be"/>
<rect x="601.00" y="83.00" width="2.00" height="2.00" fill="#7658be"/>
<rect x="601.00" y="88.00" width="2.00" height="2.00" fill="#7658be"/>
<rect x="539.70" y="97.30" width="2.00" height="2.00" fill="#6b4bb9"/>
<rect x="601.00" y="99.00" width="2.00" height="2.00" fill="#7658be"/>
<rect x="539.70" y="104.50" width="2.00" height="2.00" fill="#6b4bb9"/>
<rect x="601.00" y="104.00" width="2.00" height="2.00" fill="#7658be"/>
<rect x="598.80" y="108.00" width="2.00" height="17.00" fill="#4529ac"/>
<rect x="542.00" y="131.00" width="2.00" height="7.00" fill="#5234b0"/>
<rect x="621.00" y="125.80" width="2.00" height="4.20" fill="#5234b0"/>
<rect x="621.00" y="131.00" width="2.00" height="9.00" fill="#5234b0"/>
<rect x="621.00" y="141.00" width="2.00" height="9.00" fill="#5234b0"/>
<rect x="621.00" y="152.00" width="2.00" height="6.20" fill="#4529ac"/>
<rect x="625.00" y="151.50" width="2.00" height="2.00" fill="#603eb4"/>
<rect x="603.00" y="159.00" width="2.00" height="7.00" fill="#5234b0"/>
<rect x="603.00" y="167.00" width="2.00" height="9.00" fill="#5234b0"/>
<rect x="598.80" y="166.00" width="2.00" height="2.00" fill="#7658be"/>
<rect x="598.80" y="170.00" width="2.00" height="2.00" fill="#7658be"/>
<rect x="598.80" y="174.00" width="2.00" height="2.00" fill="#7658be"/>
<rect x="537.80" y="179.30" width="2.00" height="2.00" fill="#7658be"/>
<rect x="601.00" y="179.00" width="2.00" height="3.00" fill="#8066c4"/>
<rect x="557.20" y="183.00" width="2.00" height="9.60" fill="#3d23aa"/>
<rect x="601.00" y="183.00" width="2.00" height="9.60" fill="#5234b0"/>
<rect x="509.00" y="193.30" width="2.00" height="25.70" fill="#3d23aa"/>
<rect x="509.00" y="226.00" width="2.00" height="6.20" fill="#321ba6"/>
<rect x="601.00" y="199.00" width="2.00" height="2.00" fill="#6b4bb9"/>
<rect x="601.00" y="206.00" width="2.00" height="2.00" fill="#6b4bb9"/>
<rect x="601.00" y="213.00" width="2.00" height="2.00" fill="#603eb4"/>
<rect x="601.00" y="217.00" width="2.00" height="2.00" fill="#6b4bb9"/>
<rect x="601.00" y="225.50" width="2.00" height="6.70" fill="#4529ac"/>
<rect x="596.90" y="219.00" width="2.00" height="6.50" fill="#321ba6"/>
<rect x="539.70" y="195.50" width="2.00" height="2.00" fill="#7658be"/>
<rect x="581.60" y="244.00" width="2.00" height="2.50" fill="#6b4bb9"/>
<rect x="590.50" y="233.50" width="2.00" height="10.50" fill="#f0edf9"/>
<rect x="260.50" y="13.40" width="180.00" height="234.00" fill="none" stroke="#6a6a6a" stroke-width="1"/>
<line x1="260.50" y1="37.60" x2="440.50" y2="37.60" stroke="#6a6a6a" stroke-width="1"/>
<line x1="260.50" y1="74.40" x2="440.50" y2="74.40" stroke="#6a6a6a" stroke-width="1"/>
<line x1="260.50" y1="94.20" x2="440.50" y2="94.20" stroke="#6a6a6a" stroke-width="1"/>
<line x1="260.50" y1="120.60" x2="440.50" y2="120.60" stroke="#6a6a6a" stroke-width="1"/>
<line x1="260.50" y1="129.30" x2="440.50" y2="129.30" stroke="#6a6a6a" stroke-width="1"/>
<line x1="260.50" y1="144.90" x2="440.50" y2="144.90" stroke="#6a6a6a" stroke-width="1"/>
<line x1="260.50" y1="173.20" x2="440.50" y2="173.20" stroke="#6a6a6a" stroke-width="1"/>
<line x1="260.50" y1="221.90" x2="440.50" y2="221.90" stroke="#6a6a6a" stroke-width="1"/>
<line x1="260.50" y1="232.50" x2="440.50" y2="232.50" stroke="#6a6a6a" stroke-width="1"/>
<rect x="479.00" y="26.10" width="180.00" height="221.10" fill="none" stroke="#6a6a6a" stroke-width="1"/>
<line x1="479.00" y1="61.60" x2="659.00" y2="61.60" stroke="#6a6a6a" stroke-width="1"/>
<line x1="479.00" y1="96.80" x2="659.00" y2="96.80" stroke="#6a6a6a" stroke-width="1"/>
<line x1="479.00" y1="103.20" x2="659.00" y2="103.20" stroke="#6a6a6a" stroke-width="1"/>
<line x1="479.00" y1="107.40" x2="659.00" y2="107.40" stroke="#6a6a6a" stroke-width="1"/>
<line x1="479.00" y1="125.30" x2="659.00" y2="125.30" stroke="#6a6a6a" stroke-width="1"/>
<line x1="479.00" y1="158.50" x2="659.00" y2="158.50" stroke="#6a6a6a" stroke-width="1"/>
<line x1="479.00" y1="177.80" x2="659.00" y2="177.80" stroke="#6a6a6a" stroke-width="1"/>
<line x1="479.00" y1="182.40" x2="659.00" y2="182.40" stroke="#6a6a6a" stroke-width="1"/>
<line x1="479.00" y1="193.40" x2="659.00" y2="193.40" stroke="#6a6a6a" stroke-width="1"/>
<line x1="479.00" y1="232.40" x2="659.00" y2="232.40" stroke="#6a6a6a" stroke-width="1"/>
<text x="257.20" y="28.90" font-size="10.6" text-anchor="end" fill="#111">Ala</text>
<text x="257.20" y="58.70" font-size="10.6" text-anchor="end" fill="#111">Arg</text>
<text x="257.20" y="88.30" font-size="10.6" text-anchor="end" fill="#111">Asn</text>
<text x="257.20" y="111.40" font-size="10.6" text-anchor="end" fill="#111">Asp</text>
<text x="257.20" y="127.80" font-size="10.6" text-anchor="end" fill="#111">Cys</text>
<text x="257.20" y="140.80" font-size="10.6" text-anchor="end" fill="#111">Gln</text>
<text x="257.20" y="160.60" font-size="10.6" text-anchor="end" fill="#111">Glu</text>
<text x="257.20" y="198.20" font-size="10.6" text-anchor="end" fill="#111">Gly</text>
<text x="257.20" y="230.90" font-size="10.6" text-anchor="end" fill="#111">His</text>
<text x="255.60" y="243.60" font-size="10.6" text-anchor="end" fill="#111">Ile</text>
<text x="476.30" y="46.40" font-size="10.6" text-anchor="end" fill="#111">Leu</text>
<text x="476.30" y="81.90" font-size="10.6" text-anchor="end" fill="#111">Lys</text>
<text x="476.30" y="101.30" font-size="10.6" text-anchor="end" fill="#111">Met</text>
<text x="476.30" y="111.00" font-size="10.6" text-anchor="end" fill="#111">Phe</text>
<text x="476.30" y="121.50" font-size="10.6" text-anchor="end" fill="#111">Pro</text>
<text x="476.30" y="145.20" font-size="10.6" text-anchor="end" fill="#111">Ser</text>
<text x="476.30" y="171.40" font-size="10.6" text-anchor="end" fill="#111">Thr</text>
<text x="476.30" y="182.70" font-size="10.6" text-anchor="end" fill="#111">Trp</text>
<text x="476.30" y="193.20" font-size="10.6" text-anchor="end" fill="#111">Tyr</text>
<text x="476.30" y="217.00" font-size="10.6" text-anchor="end" fill="#111">Val</text>
<text x="476.30" y="243.00" font-size="10.6" text-anchor="end" fill="#111">iMet</text>
<line x1="262.50" y1="247.40" x2="262.50" y2="249.20" stroke="#666" stroke-width="0.6"/>
<text x="264.50" y="250.00" font-size="5.6" text-anchor="end" fill="#333" transform="rotate(-90 264.50 250.00)">0</text>
<line x1="273.50" y1="247.40" x2="273.50" y2="249.20" stroke="#666" stroke-width="0.6"/>
<text x="275.50" y="250.00" font-size="5.6" text-anchor="end" fill="#333" transform="rotate(-90 275.50 250.00)">5</text>
<line x1="284.50" y1="247.40" x2="284.50" y2="249.20" stroke="#666" stroke-width="0.6"/>
<text x="286.50" y="250.00" font-size="5.6" text-anchor="end" fill="#333" transform="rotate(-90 286.50 250.00)">10</text>
<line x1="295.50" y1="247.40" x2="295.50" y2="249.20" stroke="#666" stroke-width="0.6"/>
<text x="297.50" y="250.00" font-size="5.6" text-anchor="end" fill="#333" transform="rotate(-90 297.50 250.00)">15</text>
<line x1="306.50" y1="247.40" x2="306.50" y2="249.20" stroke="#666" stroke-width="0.6"/>
<text x="308.50" y="250.00" font-size="5.6" text-anchor="end" fill="#333" transform="rotate(-90 308.50 250.00)">20</text>
<line x1="317.50" y1="247.40" x2="317.50" y2="249.20" stroke="#666" stroke-width="0.6"/>
<text x="319.50" y="250.00" font-size="5.6" text-anchor="end" fill="#333" transform="rotate(-90 319.50 250.00)">25</text>
<line x1="328.50" y1="247.40" x2="328.50" y2="249.20" stroke="#666" stroke-width="0.6"/>
<text x="330.50" y="250.00" font-size="5.6" text-anchor="end" fill="#333" transform="rotate(-90 330.50 250.00)">30</text>
<line x1="339.50" y1="247.40" x2="339.50" y2="249.20" stroke="#666" stroke-width="0.6"/>
<text x="341.50" y="250.00" font-size="5.6" text-anchor="end" fill="#333" transform="rotate(-90 341.50 250.00)">35</text>
<line x1="350.50" y1="247.40" x2="350.50" y2="249.20" stroke="#666" stroke-width="0.6"/>
<text x="352.50" y="250.00" font-size="5.6" text-anchor="end" fill="#333" transform="rotate(-90 352.50 250.00)">40</text>
<line x1="361.50" y1="247.40" x2="361.50" y2="249.20" stroke="#666" stroke-width="0.6"/>
<text x="363.50" y="250.00" font-size="5.6" text-anchor="end" fill="#333" transform="rotate(-90 363.50 250.00)">45</text>
<line x1="372.50" y1="247.40" x2="372.50" y2="249.20" stroke="#666" stroke-width="0.6"/>
<text x="374.50" y="250.00" font-size="5.6" text-anchor="end" fill="#333" transform="rotate(-90 374.50 250.00)">50</text>
<line x1="383.50" y1="247.40" x2="383.50" y2="249.20" stroke="#666" stroke-width="0.6"/>
<text x="385.50" y="250.00" font-size="5.6" text-anchor="end" fill="#333" transform="rotate(-90 385.50 250.00)">55</text>
<line x1="394.50" y1="247.40" x2="394.50" y2="249.20" stroke="#666" stroke-width="0.6"/>
<text x="396.50" y="250.00" font-size="5.6" text-anchor="end" fill="#333" transform="rotate(-90 396.50 250.00)">60</text>
<line x1="405.50" y1="247.40" x2="405.50" y2="249.20" stroke="#666" stroke-width="0.6"/>
<text x="407.50" y="250.00" font-size="5.6" text-anchor="end" fill="#333" transform="rotate(-90 407.50 250.00)">65</text>
<line x1="416.50" y1="247.40" x2="416.50" y2="249.20" stroke="#666" stroke-width="0.6"/>
<text x="418.50" y="250.00" font-size="5.6" text-anchor="end" fill="#333" transform="rotate(-90 418.50 250.00)">70</text>
<line x1="427.50" y1="247.40" x2="427.50" y2="249.20" stroke="#666" stroke-width="0.6"/>
<text x="429.50" y="250.00" font-size="5.6" text-anchor="end" fill="#333" transform="rotate(-90 429.50 250.00)">75</text>
<line x1="438.50" y1="247.40" x2="438.50" y2="249.20" stroke="#666" stroke-width="0.6"/>
<text x="440.50" y="250.00" font-size="5.6" text-anchor="end" fill="#333" transform="rotate(-90 440.50 250.00)">80</text>
<text x="353.00" y="267.30" font-size="8.7" text-anchor="middle" fill="#111">tRNA gene position</text>
<line x1="482.20" y1="247.40" x2="482.20" y2="249.20" stroke="#666" stroke-width="0.6"/>
<text x="484.20" y="250.00" font-size="5.6" text-anchor="end" fill="#333" transform="rotate(-90 484.20 250.00)">0</text>
<line x1="493.13" y1="247.40" x2="493.13" y2="249.20" stroke="#666" stroke-width="0.6"/>
<text x="495.13" y="250.00" font-size="5.6" text-anchor="end" fill="#333" transform="rotate(-90 495.13 250.00)">5</text>
<line x1="504.06" y1="247.40" x2="504.06" y2="249.20" stroke="#666" stroke-width="0.6"/>
<text x="506.06" y="250.00" font-size="5.6" text-anchor="end" fill="#333" transform="rotate(-90 506.06 250.00)">10</text>
<line x1="514.99" y1="247.40" x2="514.99" y2="249.20" stroke="#666" stroke-width="0.6"/>
<text x="516.99" y="250.00" font-size="5.6" text-anchor="end" fill="#333" transform="rotate(-90 516.99 250.00)">15</text>
<line x1="525.92" y1="247.40" x2="525.92" y2="249.20" stroke="#666" stroke-width="0.6"/>
<text x="527.92" y="250.00" font-size="5.6" text-anchor="end" fill="#333" transform="rotate(-90 527.92 250.00)">20</text>
<line x1="536.85" y1="247.40" x2="536.85" y2="249.20" stroke="#666" stroke-width="0.6"/>
<text x="538.85" y="250.00" font-size="5.6" text-anchor="end" fill="#333" transform="rotate(-90 538.85 250.00)">25</text>
<line x1="547.78" y1="247.40" x2="547.78" y2="249.20" stroke="#666" stroke-width="0.6"/>
<text x="549.78" y="250.00" font-size="5.6" text-anchor="end" fill="#333" transform="rotate(-90 549.78 250.00)">30</text>
<line x1="558.71" y1="247.40" x2="558.71" y2="249.20" stroke="#666" stroke-width="0.6"/>
<text x="560.71" y="250.00" font-size="5.6" text-anchor="end" fill="#333" transform="rotate(-90 560.71 250.00)">35</text>
<line x1="569.64" y1="247.40" x2="569.64" y2="249.20" stroke="#666" stroke-width="0.6"/>
<text x="571.64" y="250.00" font-size="5.6" text-anchor="end" fill="#333" transform="rotate(-90 571.64 250.00)">40</text>
<line x1="580.57" y1="247.40" x2="580.57" y2="249.20" stroke="#666" stroke-width="0.6"/>
<text x="582.57" y="250.00" font-size="5.6" text-anchor="end" fill="#333" transform="rotate(-90 582.57 250.00)">45</text>
<line x1="591.50" y1="247.40" x2="591.50" y2="249.20" stroke="#666" stroke-width="0.6"/>
<text x="593.50" y="250.00" font-size="5.6" text-anchor="end" fill="#333" transform="rotate(-90 593.50 250.00)">50</text>
<line x1="602.43" y1="247.40" x2="602.43" y2="249.20" stroke="#666" stroke-width="0.6"/>
<text x="604.43" y="250.00" font-size="5.6" text-anchor="end" fill="#333" transform="rotate(-90 604.43 250.00)">55</text>
<line x1="613.36" y1="247.40" x2="613.36" y2="249.20" stroke="#666" stroke-width="0.6"/>
<text x="615.36" y="250.00" font-size="5.6" text-anchor="end" fill="#333" transform="rotate(-90 615.36 250.00)">60</text>
<line x1="624.29" y1="247.40" x2="624.29" y2="249.20" stroke="#666" stroke-width="0.6"/>
<text x="626.29" y="250.00" font-size="5.6" text-anchor="end" fill="#333" transform="rotate(-90 626.29 250.00)">65</text>
<line x1="635.22" y1="247.40" x2="635.22" y2="249.20" stroke="#666" stroke-width="0.6"/>
<text x="637.22" y="250.00" font-size="5.6" text-anchor="end" fill="#333" transform="rotate(-90 637.22 250.00)">70</text>
<line x1="646.15" y1="247.40" x2="646.15" y2="249.20" stroke="#666" stroke-width="0.6"/>
<text x="648.15" y="250.00" font-size="5.6" text-anchor="end" fill="#333" transform="rotate(-90 648.15 250.00)">75</text>
<line x1="657.08" y1="247.40" x2="657.08" y2="249.20" stroke="#666" stroke-width="0.6"/>
<text x="659.08" y="250.00" font-size="5.6" text-anchor="end" fill="#333" transform="rotate(-90 659.08 250.00)">80</text>
<text x="570.30" y="267.30" font-size="8.7" text-anchor="middle" fill="#111">tRNA gene position</text>
<text x="338.50" y="292.00" font-size="17.0" text-anchor="start" fill="#111">c</text>
<text x="339.50" y="388.40" font-size="17.0" text-anchor="start" fill="#111">f</text>
<rect x="428.25" y="301.50" width="3.90" height="2.60" fill="#a18dd3"/>
<rect x="428.25" y="304.10" width="3.90" height="5.10" fill="#ab9ad8"/>
<rect x="428.25" y="309.20" width="3.90" height="5.10" fill="#b6a6de"/>
<rect x="428.25" y="314.30" width="3.90" height="3.20" fill="#a18dd3"/>
<rect x="428.25" y="317.50" width="3.90" height="4.00" fill="#6b4bb9"/>
<rect x="428.25" y="321.50" width="3.90" height="2.90" fill="#9680ce"/>
<rect x="428.25" y="324.40" width="3.90" height="4.40" fill="#7658be"/>
<rect x="428.25" y="328.80" width="3.90" height="4.10" fill="#603eb4"/>
<rect x="428.25" y="337.00" width="3.90" height="7.50" fill="#4529ac"/>
<rect x="428.25" y="344.50" width="3.90" height="7.10" fill="#210ea2"/>
<rect x="409.35" y="317.50" width="3.90" height="6.90" fill="#e0d9f1"/>
<rect x="455.75" y="298.10" width="3.90" height="3.40" fill="#d5cded"/>
<rect x="455.75" y="317.50" width="3.90" height="8.50" fill="#e2dcf2"/>
<rect x="455.75" y="326.00" width="3.90" height="22.20" fill="#ece8f7"/>
<rect x="501.95" y="329.30" width="3.90" height="15.50" fill="#5d3cb3"/>
<rect x="587.45" y="298.10" width="3.90" height="3.40" fill="#c0b3e3"/>
<rect x="587.45" y="301.50" width="3.90" height="15.40" fill="#7c60c2"/>
<rect x="587.45" y="316.90" width="3.90" height="3.60" fill="#d1c8eb"/>
<rect x="587.45" y="320.50" width="3.90" height="8.30" fill="#8b73c9"/>
<rect x="587.45" y="328.80" width="3.90" height="22.80" fill="#210ea2"/>
<rect x="603.05" y="298.10" width="3.90" height="3.40" fill="#cbc0e8"/>
<rect x="603.05" y="317.50" width="3.90" height="3.70" fill="#9680ce"/>
<rect x="603.05" y="321.20" width="3.90" height="3.60" fill="#d5cded"/>
<rect x="603.05" y="324.80" width="3.90" height="3.00" fill="#eeebf8"/>
<rect x="603.05" y="345.30" width="3.90" height="2.20" fill="#eae6f6"/>
<rect x="606.95" y="317.50" width="3.90" height="3.70" fill="#eae6f6"/>
<rect x="606.95" y="321.20" width="3.90" height="3.60" fill="#dad2ee"/>
<rect x="606.95" y="329.30" width="3.90" height="3.70" fill="#dad2ee"/>
<rect x="606.95" y="333.00" width="3.90" height="3.60" fill="#b6a6de"/>
<rect x="606.95" y="336.60" width="3.90" height="3.70" fill="#a18dd3"/>
<rect x="606.95" y="340.30" width="3.90" height="3.60" fill="#e0d9f1"/>
<text x="377.40" y="294.60" font-size="8.6" text-anchor="start" fill="#111">DRAP3R (genome)</text>
<rect x="377.60" y="298.10" width="284.90" height="53.50" fill="none" stroke="#777" stroke-width="1"/>
<line x1="377.60" y1="328.80" x2="662.50" y2="328.80" stroke="#777" stroke-width="1"/>
<line x1="377.60" y1="298.10" x2="377.60" y2="351.60" stroke="#222" stroke-width="1"/>
<line x1="377.60" y1="351.60" x2="662.50" y2="351.60" stroke="#777" stroke-width="1"/>
<text x="374.40" y="316.30" font-size="7.8" text-anchor="end" fill="#111">CTC</text>
<text x="374.40" y="344.00" font-size="7.8" text-anchor="end" fill="#111">TTC</text>
<text x="358.40" y="328.00" font-size="9.3" text-anchor="end" fill="#111">Glu</text>
<line x1="384.50" y1="351.60" x2="384.50" y2="353.40" stroke="#666" stroke-width="0.6"/>
<text x="386.50" y="354.20" font-size="5.6" text-anchor="end" fill="#333" transform="rotate(-90 386.50 354.20)">0</text>
<line x1="403.95" y1="351.60" x2="403.95" y2="353.40" stroke="#666" stroke-width="0.6"/>
<text x="405.95" y="354.20" font-size="5.6" text-anchor="end" fill="#333" transform="rotate(-90 405.95 354.20)">5</text>
<line x1="423.40" y1="351.60" x2="423.40" y2="353.40" stroke="#666" stroke-width="0.6"/>
<text x="425.40" y="354.20" font-size="5.6" text-anchor="end" fill="#333" transform="rotate(-90 425.40 354.20)">10</text>
<line x1="442.85" y1="351.60" x2="442.85" y2="353.40" stroke="#666" stroke-width="0.6"/>
<text x="444.85" y="354.20" font-size="5.6" text-anchor="end" fill="#333" transform="rotate(-90 444.85 354.20)">15</text>
<line x1="462.30" y1="351.60" x2="462.30" y2="353.40" stroke="#666" stroke-width="0.6"/>
<text x="464.30" y="354.20" font-size="5.6" text-anchor="end" fill="#333" transform="rotate(-90 464.30 354.20)">20</text>
<line x1="481.75" y1="351.60" x2="481.75" y2="353.40" stroke="#666" stroke-width="0.6"/>
<text x="483.75" y="354.20" font-size="5.6" text-anchor="end" fill="#333" transform="rotate(-90 483.75 354.20)">25</text>
<line x1="501.20" y1="351.60" x2="501.20" y2="353.40" stroke="#666" stroke-width="0.6"/>
<text x="503.20" y="354.20" font-size="5.6" text-anchor="end" fill="#333" transform="rotate(-90 503.20 354.20)">30</text>
<line x1="520.65" y1="351.60" x2="520.65" y2="353.40" stroke="#666" stroke-width="0.6"/>
<text x="522.65" y="354.20" font-size="5.6" text-anchor="end" fill="#333" transform="rotate(-90 522.65 354.20)">35</text>
<line x1="540.10" y1="351.60" x2="540.10" y2="353.40" stroke="#666" stroke-width="0.6"/>
<text x="542.10" y="354.20" font-size="5.6" text-anchor="end" fill="#333" transform="rotate(-90 542.10 354.20)">40</text>
<line x1="559.55" y1="351.60" x2="559.55" y2="353.40" stroke="#666" stroke-width="0.6"/>
<text x="561.55" y="354.20" font-size="5.6" text-anchor="end" fill="#333" transform="rotate(-90 561.55 354.20)">45</text>
<line x1="579.00" y1="351.60" x2="579.00" y2="353.40" stroke="#666" stroke-width="0.6"/>
<text x="581.00" y="354.20" font-size="5.6" text-anchor="end" fill="#333" transform="rotate(-90 581.00 354.20)">50</text>
<line x1="598.45" y1="351.60" x2="598.45" y2="353.40" stroke="#666" stroke-width="0.6"/>
<text x="600.45" y="354.20" font-size="5.6" text-anchor="end" fill="#333" transform="rotate(-90 600.45 354.20)">55</text>
<line x1="617.90" y1="351.60" x2="617.90" y2="353.40" stroke="#666" stroke-width="0.6"/>
<text x="619.90" y="354.20" font-size="5.6" text-anchor="end" fill="#333" transform="rotate(-90 619.90 354.20)">60</text>
<line x1="637.35" y1="351.60" x2="637.35" y2="353.40" stroke="#666" stroke-width="0.6"/>
<text x="639.35" y="354.20" font-size="5.6" text-anchor="end" fill="#333" transform="rotate(-90 639.35 354.20)">65</text>
<line x1="656.80" y1="351.60" x2="656.80" y2="353.40" stroke="#666" stroke-width="0.6"/>
<text x="658.80" y="354.20" font-size="5.6" text-anchor="end" fill="#333" transform="rotate(-90 658.80 354.20)">70</text>
<text x="521.50" y="371.80" font-size="8.7" text-anchor="middle" fill="#111">tRNA gene position</text>
<rect x="430.65" y="392.80" width="3.90" height="6.90" fill="#5838b2"/>
<rect x="430.65" y="399.70" width="3.90" height="4.40" fill="#6b4bb9"/>
<rect x="430.65" y="404.10" width="3.90" height="3.90" fill="#7c60c2"/>
<rect x="430.65" y="408.00" width="3.90" height="3.70" fill="#6f50bb"/>
<rect x="430.65" y="411.70" width="3.90" height="3.70" fill="#6646b7"/>
<rect x="457.85" y="392.80" width="3.90" height="6.90" fill="#ded7f0"/>
<rect x="457.85" y="399.70" width="3.90" height="4.40" fill="#eae6f6"/>
<rect x="457.85" y="404.10" width="3.90" height="3.90" fill="#eeebf8"/>
<rect x="457.85" y="408.00" width="3.90" height="3.70" fill="#e6e1f4"/>
<rect x="457.85" y="411.70" width="3.90" height="3.70" fill="#eeebf8"/>
<rect x="504.15" y="400.30" width="3.90" height="3.80" fill="#4529ac"/>
<rect x="504.15" y="408.00" width="3.90" height="3.70" fill="#4d2fae"/>
<rect x="507.95" y="400.30" width="3.90" height="3.80" fill="#b6a6de"/>
<rect x="507.95" y="408.00" width="3.90" height="3.70" fill="#bcaee1"/>
<rect x="511.75" y="400.30" width="3.90" height="3.80" fill="#e6e1f4"/>
<rect x="511.75" y="408.00" width="3.90" height="3.70" fill="#eae6f6"/>
<rect x="543.25" y="404.70" width="3.90" height="2.70" fill="#eae6f6"/>
<rect x="590.15" y="392.80" width="3.90" height="2.80" fill="#ab9ad8"/>
<rect x="590.15" y="395.60" width="3.90" height="4.10" fill="#cbc0e8"/>
<rect x="590.15" y="399.70" width="3.90" height="4.40" fill="#2a14a4"/>
<rect x="590.15" y="404.10" width="3.90" height="3.90" fill="#d1c8eb"/>
<rect x="590.15" y="408.00" width="3.90" height="3.70" fill="#210ea2"/>
<rect x="590.15" y="411.70" width="3.90" height="3.70" fill="#c5b8e5"/>
<rect x="605.55" y="392.80" width="3.90" height="2.80" fill="#d5cded"/>
<rect x="605.55" y="395.60" width="3.90" height="4.10" fill="#e6e1f4"/>
<rect x="605.55" y="404.10" width="3.90" height="3.90" fill="#cbc0e8"/>
<rect x="605.55" y="411.70" width="3.90" height="3.70" fill="#ab9ad8"/>
<rect x="609.15" y="395.60" width="3.90" height="4.10" fill="#e0d9f1"/>
<rect x="609.15" y="399.70" width="3.90" height="4.40" fill="#e6e1f4"/>
<rect x="609.15" y="408.00" width="3.90" height="3.70" fill="#b6a6de"/>
<text x="379.90" y="389.00" font-size="8.6" text-anchor="start" fill="#111">DRAP3R (splintDB)</text>
<rect x="379.50" y="392.80" width="283.00" height="22.60" fill="none" stroke="#777" stroke-width="1"/>
<line x1="379.50" y1="399.70" x2="662.50" y2="399.70" stroke="#777" stroke-width="1"/>
<line x1="379.50" y1="392.80" x2="379.50" y2="415.40" stroke="#666" stroke-width="1"/>
<line x1="379.50" y1="415.40" x2="662.50" y2="415.40" stroke="#777" stroke-width="1"/>
<text x="376.30" y="398.70" font-size="7.8" text-anchor="end" fill="#111">CTC</text>
<text x="376.30" y="411.50" font-size="7.8" text-anchor="end" fill="#111">TTC</text>
<text x="358.90" y="406.50" font-size="9.3" text-anchor="end" fill="#111">Glu</text>
<line x1="384.50" y1="415.40" x2="384.50" y2="417.20" stroke="#666" stroke-width="0.6"/>
<text x="386.50" y="418.00" font-size="5.6" text-anchor="end" fill="#333" transform="rotate(-90 386.50 418.00)">0</text>
<line x1="403.95" y1="415.40" x2="403.95" y2="417.20" stroke="#666" stroke-width="0.6"/>
<text x="405.95" y="418.00" font-size="5.6" text-anchor="end" fill="#333" transform="rotate(-90 405.95 418.00)">5</text>
<line x1="423.40" y1="415.40" x2="423.40" y2="417.20" stroke="#666" stroke-width="0.6"/>
<text x="425.40" y="418.00" font-size="5.6" text-anchor="end" fill="#333" transform="rotate(-90 425.40 418.00)">10</text>
<line x1="442.85" y1="415.40" x2="442.85" y2="417.20" stroke="#666" stroke-width="0.6"/>
<text x="444.85" y="418.00" font-size="5.6" text-anchor="end" fill="#333" transform="rotate(-90 444.85 418.00)">15</text>
<line x1="462.30" y1="415.40" x2="462.30" y2="417.20" stroke="#666" stroke-width="0.6"/>
<text x="464.30" y="418.00" font-size="5.6" text-anchor="end" fill="#333" transform="rotate(-90 464.30 418.00)">20</text>
<line x1="481.75" y1="415.40" x2="481.75" y2="417.20" stroke="#666" stroke-width="0.6"/>
<text x="483.75" y="418.00" font-size="5.6" text-anchor="end" fill="#333" transform="rotate(-90 483.75 418.00)">25</text>
<line x1="501.20" y1="415.40" x2="501.20" y2="417.20" stroke="#666" stroke-width="0.6"/>
<text x="503.20" y="418.00" font-size="5.6" text-anchor="end" fill="#333" transform="rotate(-90 503.20 418.00)">30</text>
<line x1="520.65" y1="415.40" x2="520.65" y2="417.20" stroke="#666" stroke-width="0.6"/>
<text x="522.65" y="418.00" font-size="5.6" text-anchor="end" fill="#333" transform="rotate(-90 522.65 418.00)">35</text>
<line x1="540.10" y1="415.40" x2="540.10" y2="417.20" stroke="#666" stroke-width="0.6"/>
<text x="542.10" y="418.00" font-size="5.6" text-anchor="end" fill="#333" transform="rotate(-90 542.10 418.00)">40</text>
<line x1="559.55" y1="415.40" x2="559.55" y2="417.20" stroke="#666" stroke-width="0.6"/>
<text x="561.55" y="418.00" font-size="5.6" text-anchor="end" fill="#333" transform="rotate(-90 561.55 418.00)">45</text>
<line x1="579.00" y1="415.40" x2="579.00" y2="417.20" stroke="#666" stroke-width="0.6"/>
<text x="581.00" y="418.00" font-size="5.6" text-anchor="end" fill="#333" transform="rotate(-90 581.00 418.00)">50</text>
<line x1="598.45" y1="415.40" x2="598.45" y2="417.20" stroke="#666" stroke-width="0.6"/>
<text x="600.45" y="418.00" font-size="5.6" text-anchor="end" fill="#333" transform="rotate(-90 600.45 418.00)">55</text>
<line x1="617.90" y1="415.40" x2="617.90" y2="417.20" stroke="#666" stroke-width="0.6"/>
<text x="619.90" y="418.00" font-size="5.6" text-anchor="end" fill="#333" transform="rotate(-90 619.90 418.00)">60</text>
<line x1="637.35" y1="415.40" x2="637.35" y2="417.20" stroke="#666" stroke-width="0.6"/>
<text x="639.35" y="418.00" font-size="5.6" text-anchor="end" fill="#333" transform="rotate(-90 639.35 418.00)">65</text>
<line x1="656.80" y1="415.40" x2="656.80" y2="417.20" stroke="#666" stroke-width="0.6"/>
<text x="658.80" y="418.00" font-size="5.6" text-anchor="end" fill="#333" transform="rotate(-90 658.80 418.00)">70</text>
<text x="524.50" y="433.20" font-size="8.7" text-anchor="middle" fill="#111">isodecoder position</text>
<rect x="430.65" y="452.70" width="3.90" height="7.60" fill="#8b73c9"/>
<rect x="430.65" y="460.30" width="3.90" height="3.80" fill="#b6a6de"/>
<rect x="430.65" y="464.10" width="3.90" height="3.90" fill="#c5b8e5"/>
<rect x="430.65" y="468.00" width="3.90" height="3.70" fill="#af9fda"/>
<rect x="430.65" y="471.70" width="3.90" height="4.40" fill="#bcaee1"/>
<rect x="504.15" y="460.30" width="3.90" height="3.80" fill="#4529ac"/>
<rect x="504.15" y="468.00" width="3.90" height="3.70" fill="#4d2fae"/>
<rect x="507.95" y="460.30" width="3.90" height="3.80" fill="#c0b3e3"/>
<rect x="507.95" y="468.00" width="3.90" height="3.70" fill="#c5b8e5"/>
<rect x="511.75" y="460.30" width="3.90" height="3.80" fill="#eeebf8"/>
<rect x="511.75" y="468.00" width="3.90" height="3.70" fill="#eeebf8"/>
<rect x="515.55" y="460.30" width="3.90" height="3.80" fill="#f3f0f9"/>
<rect x="515.55" y="468.00" width="3.90" height="3.70" fill="#f3f0f9"/>
<rect x="543.25" y="464.70" width="3.90" height="2.70" fill="#eeebf8"/>
<rect x="586.35" y="460.30" width="3.90" height="3.80" fill="#eeebf8"/>
<rect x="586.35" y="468.00" width="3.90" height="3.70" fill="#eeebf8"/>
<rect x="590.15" y="452.70" width="3.90" height="7.60" fill="#a18dd3"/>
<rect x="590.15" y="460.30" width="3.90" height="3.80" fill="#9680ce"/>
<rect x="590.15" y="464.10" width="3.90" height="3.90" fill="#d5cded"/>
<rect x="590.15" y="468.00" width="3.90" height="3.70" fill="#4529ac"/>
<rect x="590.15" y="471.70" width="3.90" height="4.40" fill="#c0b3e3"/>
<rect x="609.15" y="460.30" width="3.90" height="3.80" fill="#eae6f6"/>
<rect x="609.15" y="468.00" width="3.90" height="3.70" fill="#e6e1f4"/>
<text x="379.90" y="449.60" font-size="8.6" text-anchor="start" fill="#111">nano-tRNA-Seq (splintDB)</text>
<rect x="379.50" y="452.70" width="283.00" height="23.40" fill="none" stroke="#777" stroke-width="1"/>
<line x1="379.50" y1="460.30" x2="662.50" y2="460.30" stroke="#777" stroke-width="1"/>
<line x1="379.50" y1="452.70" x2="379.50" y2="476.10" stroke="#666" stroke-width="1"/>
<line x1="379.50" y1="476.10" x2="662.50" y2="476.10" stroke="#777" stroke-width="1"/>
<text x="376.30" y="459.30" font-size="7.8" text-anchor="end" fill="#111">CTC</text>
<text x="376.30" y="472.10" font-size="7.8" text-anchor="end" fill="#111">TTC</text>
<text x="358.90" y="467.10" font-size="9.3" text-anchor="end" fill="#111">Glu</text>
<line x1="384.50" y1="476.10" x2="384.50" y2="477.90" stroke="#666" stroke-width="0.6"/>
<text x="386.50" y="478.70" font-size="5.6" text-anchor="end" fill="#333" transform="rotate(-90 386.50 478.70)">0</text>
<line x1="403.95" y1="476.10" x2="403.95" y2="477.90" stroke="#666" stroke-width="0.6"/>
<text x="405.95" y="478.70" font-size="5.6" text-anchor="end" fill="#333" transform="rotate(-90 405.95 478.70)">5</text>
<line x1="423.40" y1="476.10" x2="423.40" y2="477.90" stroke="#666" stroke-width="0.6"/>
<text x="425.40" y="478.70" font-size="5.6" text-anchor="end" fill="#333" transform="rotate(-90 425.40 478.70)">10</text>
<line x1="442.85" y1="476.10" x2="442.85" y2="477.90" stroke="#666" stroke-width="0.6"/>
<text x="444.85" y="478.70" font-size="5.6" text-anchor="end" fill="#333" transform="rotate(-90 444.85 478.70)">15</text>
<line x1="462.30" y1="476.10" x2="462.30" y2="477.90" stroke="#666" stroke-width="0.6"/>
<text x="464.30" y="478.70" font-size="5.6" text-anchor="end" fill="#333" transform="rotate(-90 464.30 478.70)">20</text>
<line x1="481.75" y1="476.10" x2="481.75" y2="477.90" stroke="#666" stroke-width="0.6"/>
<text x="483.75" y="478.70" font-size="5.6" text-anchor="end" fill="#333" transform="rotate(-90 483.75 478.70)">25</text>
<line x1="501.20" y1="476.10" x2="501.20" y2="477.90" stroke="#666" stroke-width="0.6"/>
<text x="503.20" y="478.70" font-size="5.6" text-anchor="end" fill="#333" transform="rotate(-90 503.20 478.70)">30</text>
<line x1="520.65" y1="476.10" x2="520.65" y2="477.90" stroke="#666" stroke-width="0.6"/>
<text x="522.65" y="478.70" font-size="5.6" text-anchor="end" fill="#333" transform="rotate(-90 522.65 478.70)">35</text>
<line x1="540.10" y1="476.10" x2="540.10" y2="477.90" stroke="#666" stroke-width="0.6"/>
<text x="542.10" y="478.70" font-size="5.6" text-anchor="end" fill="#333" transform="rotate(-90 542.10 478.70)">40</text>
<line x1="559.55" y1="476.10" x2="559.55" y2="477.90" stroke="#666" stroke-width="0.6"/>
<text x="561.55" y="478.70" font-size="5.6" text-anchor="end" fill="#333" transform="rotate(-90 561.55 478.70)">45</text>
<line x1="579.00" y1="476.10" x2="579.00" y2="477.90" stroke="#666" stroke-width="0.6"/>
<text x="581.00" y="478.70" font-size="5.6" text-anchor="end" fill="#333" transform="rotate(-90 581.00 478.70)">50</text>
<line x1="598.45" y1="476.10" x2="598.45" y2="477.90" stroke="#666" stroke-width="0.6"/>
<text x="600.45" y="478.70" font-size="5.6" text-anchor="end" fill="#333" transform="rotate(-90 600.45 478.70)">55</text>
<line x1="617.90" y1="476.10" x2="617.90" y2="477.90" stroke="#666" stroke-width="0.6"/>
<text x="619.90" y="478.70" font-size="5.6" text-anchor="end" fill="#333" transform="rotate(-90 619.90 478.70)">60</text>
<line x1="637.35" y1="476.10" x2="637.35" y2="477.90" stroke="#666" stroke-width="0.6"/>
<text x="639.35" y="478.70" font-size="5.6" text-anchor="end" fill="#333" transform="rotate(-90 639.35 478.70)">65</text>
<line x1="656.80" y1="476.10" x2="656.80" y2="477.90" stroke="#666" stroke-width="0.6"/>
<text x="658.80" y="478.70" font-size="5.6" text-anchor="end" fill="#333" transform="rotate(-90 658.80 478.70)">70</text>
<text x="524.50" y="495.20" font-size="8.7" text-anchor="middle" fill="#111">isodecoder position</text>
<text x="2.20" y="309.20" font-size="17.0" text-anchor="start" fill="#111">d</text>
<line x1="57.60" y1="297.50" x2="57.60" y2="409.60" stroke="#333" stroke-width="1.2"/>
<line x1="57.00" y1="409.30" x2="300.00" y2="409.30" stroke="#777" stroke-width="1.6"/>
<text x="54.80" y="412.10" font-size="8.8" text-anchor="end" fill="#111">0</text>
<text x="54.80" y="384.45" font-size="8.8" text-anchor="end" fill="#111">25</text>
<text x="54.80" y="356.80" font-size="8.8" text-anchor="end" fill="#111">50</text>
<text x="54.80" y="329.15" font-size="8.8" text-anchor="end" fill="#111">75</text>
<text x="54.80" y="301.50" font-size="8.8" text-anchor="end" fill="#111">100</text>
<text x="39.00" y="355.00" font-size="11.3" text-anchor="middle" fill="#111" transform="rotate(-90 39.00 355.00)">Ψ stoichiometry</text>
<text x="178.00" y="430.90" font-size="11.4" text-anchor="middle" fill="#111">isodecoder position</text>
<line x1="78.00" y1="323.28" x2="78.00" y2="303.93" stroke="#4a44b8" stroke-width="0.9"/>
<line x1="78.00" y1="353.26" x2="78.00" y2="390.20" stroke="#4a44b8" stroke-width="0.9"/>
<rect x="65.40" y="323.28" width="25.20" height="29.97" fill="none" stroke="#4a44b8" stroke-width="0.9"/>
<line x1="65.40" y1="335.23" x2="90.60" y2="335.23" stroke="#2a2aa0" stroke-width="1.6"/>
<text x="78.00" y="419.20" font-size="8.6" text-anchor="middle" fill="#111">13</text>
<line x1="111.80" y1="351.16" x2="111.80" y2="310.12" stroke="#4a44b8" stroke-width="0.9"/>
<line x1="111.80" y1="380.58" x2="111.80" y2="390.20" stroke="#4a44b8" stroke-width="0.9"/>
<rect x="98.90" y="351.16" width="25.80" height="29.42" fill="none" stroke="#4a44b8" stroke-width="0.9"/>
<line x1="98.90" y1="358.57" x2="124.70" y2="358.57" stroke="#2a2aa0" stroke-width="1.6"/>
<text x="111.80" y="419.20" font-size="8.6" text-anchor="middle" fill="#111">20</text>
<line x1="145.50" y1="369.52" x2="145.50" y2="329.70" stroke="#4a44b8" stroke-width="0.9"/>
<line x1="145.50" y1="396.28" x2="145.50" y2="406.79" stroke="#4a44b8" stroke-width="0.9"/>
<rect x="132.50" y="369.52" width="26.00" height="26.77" fill="none" stroke="#4a44b8" stroke-width="0.9"/>
<line x1="132.50" y1="383.78" x2="158.50" y2="383.78" stroke="#2a2aa0" stroke-width="1.6"/>
<text x="145.50" y="419.20" font-size="8.6" text-anchor="middle" fill="#111">27/28</text>
<line x1="179.20" y1="327.49" x2="179.20" y2="322.18" stroke="#4a44b8" stroke-width="0.9"/>
<line x1="179.20" y1="396.28" x2="179.20" y2="403.47" stroke="#4a44b8" stroke-width="0.9"/>
<rect x="166.20" y="327.49" width="26.00" height="68.79" fill="none" stroke="#4a44b8" stroke-width="0.9"/>
<line x1="166.20" y1="384.67" x2="192.20" y2="384.67" stroke="#2a2aa0" stroke-width="1.6"/>
<text x="179.20" y="419.20" font-size="8.6" text-anchor="middle" fill="#111">31/32</text>
<line x1="212.90" y1="310.46" x2="212.90" y2="306.14" stroke="#4a44b8" stroke-width="0.9"/>
<line x1="212.90" y1="338.55" x2="212.90" y2="378.36" stroke="#4a44b8" stroke-width="0.9"/>
<rect x="200.20" y="310.46" width="25.40" height="28.09" fill="none" stroke="#4a44b8" stroke-width="0.9"/>
<line x1="200.20" y1="332.91" x2="225.60" y2="332.91" stroke="#2a2aa0" stroke-width="1.6"/>
<text x="212.90" y="419.20" font-size="8.6" text-anchor="middle" fill="#111">35/36</text>
<line x1="247.00" y1="320.30" x2="247.00" y2="301.72" stroke="#4a44b8" stroke-width="0.9"/>
<line x1="247.00" y1="357.35" x2="247.00" y2="403.80" stroke="#4a44b8" stroke-width="0.9"/>
<rect x="234.30" y="320.30" width="25.40" height="37.05" fill="none" stroke="#4a44b8" stroke-width="0.9"/>
<line x1="234.30" y1="337.22" x2="259.70" y2="337.22" stroke="#2a2aa0" stroke-width="1.6"/>
<text x="247.00" y="419.20" font-size="8.6" text-anchor="middle" fill="#111">54/55/56</text>
<line x1="280.80" y1="317.09" x2="280.80" y2="311.67" stroke="#4a44b8" stroke-width="0.9"/>
<line x1="280.80" y1="330.25" x2="280.80" y2="348.39" stroke="#4a44b8" stroke-width="0.9"/>
<rect x="268.10" y="317.09" width="25.40" height="13.16" fill="none" stroke="#4a44b8" stroke-width="0.9"/>
<line x1="268.10" y1="321.29" x2="293.50" y2="321.29" stroke="#2a2aa0" stroke-width="1.6"/>
<text x="283.40" y="419.20" font-size="8.6" text-anchor="middle" fill="#111">64/65/66</text>
<circle cx="71.89" cy="303.93" r="1.25" fill="#2e18a5" stroke="#14142a" stroke-width="0.55"/>
<circle cx="83.81" cy="306.14" r="1.25" fill="#341ca7" stroke="#14142a" stroke-width="0.55"/>
<circle cx="83.59" cy="307.25" r="1.25" fill="#361ea8" stroke="#14142a" stroke-width="0.55"/>
<circle cx="73.67" cy="308.35" r="1.25" fill="#3920a8" stroke="#14142a" stroke-width="0.55"/>
<circle cx="82.94" cy="309.46" r="1.25" fill="#3b22a9" stroke="#14142a" stroke-width="0.55"/>
<circle cx="77.38" cy="310.57" r="1.25" fill="#3e24aa" stroke="#14142a" stroke-width="0.55"/>
<circle cx="74.96" cy="311.67" r="1.25" fill="#4026ab" stroke="#14142a" stroke-width="0.55"/>
<circle cx="82.61" cy="313.88" r="1.25" fill="#462aac" stroke="#14142a" stroke-width="0.55"/>
<circle cx="73.75" cy="314.99" r="1.25" fill="#482cad" stroke="#14142a" stroke-width="0.55"/>
<circle cx="70.57" cy="316.10" r="1.25" fill="#4b2eae" stroke="#14142a" stroke-width="0.55"/>
<circle cx="73.21" cy="317.20" r="1.25" fill="#4d30af" stroke="#14142a" stroke-width="0.55"/>
<circle cx="75.32" cy="318.31" r="1.25" fill="#5032af" stroke="#14142a" stroke-width="0.55"/>
<circle cx="83.68" cy="319.41" r="1.25" fill="#5334b0" stroke="#14142a" stroke-width="0.55"/>
<circle cx="85.28" cy="320.52" r="1.25" fill="#5536b1" stroke="#14142a" stroke-width="0.55"/>
<circle cx="74.55" cy="321.63" r="1.25" fill="#5838b2" stroke="#14142a" stroke-width="0.55"/>
<circle cx="80.21" cy="322.73" r="1.25" fill="#5a3ab2" stroke="#14142a" stroke-width="0.55"/>
<circle cx="76.43" cy="323.84" r="1.25" fill="#5d3cb3" stroke="#14142a" stroke-width="0.55"/>
<circle cx="85.51" cy="323.84" r="1.25" fill="#5d3cb3" stroke="#14142a" stroke-width="0.55"/>
<circle cx="78.56" cy="324.94" r="1.25" fill="#5f3eb4" stroke="#14142a" stroke-width="0.55"/>
<circle cx="84.85" cy="326.05" r="1.25" fill="#6240b5" stroke="#14142a" stroke-width="0.55"/>
<circle cx="72.00" cy="327.16" r="1.25" fill="#6442b6" stroke="#14142a" stroke-width="0.55"/>
<circle cx="85.34" cy="328.26" r="1.25" fill="#6645b7" stroke="#14142a" stroke-width="0.55"/>
<circle cx="72.99" cy="329.37" r="1.25" fill="#6848b8" stroke="#14142a" stroke-width="0.55"/>
<circle cx="85.22" cy="330.47" r="1.25" fill="#6a4ab9" stroke="#14142a" stroke-width="0.55"/>
<circle cx="74.34" cy="331.58" r="1.25" fill="#6c4dba" stroke="#14142a" stroke-width="0.55"/>
<circle cx="71.89" cy="331.58" r="1.25" fill="#6c4dba" stroke="#14142a" stroke-width="0.55"/>
<circle cx="76.98" cy="332.69" r="1.25" fill="#6e4fbb" stroke="#14142a" stroke-width="0.55"/>
<circle cx="81.57" cy="333.79" r="1.25" fill="#7052bc" stroke="#14142a" stroke-width="0.55"/>
<circle cx="75.09" cy="334.90" r="1.25" fill="#7254bd" stroke="#14142a" stroke-width="0.55"/>
<circle cx="79.66" cy="334.90" r="1.25" fill="#7254bd" stroke="#14142a" stroke-width="0.55"/>
<circle cx="78.18" cy="336.00" r="1.25" fill="#7457be" stroke="#14142a" stroke-width="0.55"/>
<circle cx="76.21" cy="336.00" r="1.25" fill="#7457be" stroke="#14142a" stroke-width="0.55"/>
<circle cx="79.19" cy="337.11" r="1.25" fill="#7659bf" stroke="#14142a" stroke-width="0.55"/>
<circle cx="74.17" cy="338.22" r="1.25" fill="#785cc0" stroke="#14142a" stroke-width="0.55"/>
<circle cx="81.26" cy="339.32" r="1.25" fill="#7a5ec1" stroke="#14142a" stroke-width="0.55"/>
<circle cx="70.23" cy="340.43" r="1.25" fill="#7c61c2" stroke="#14142a" stroke-width="0.55"/>
<circle cx="84.64" cy="341.53" r="1.25" fill="#7e63c3" stroke="#14142a" stroke-width="0.55"/>
<circle cx="78.60" cy="342.64" r="1.25" fill="#8066c4" stroke="#14142a" stroke-width="0.55"/>
<circle cx="81.42" cy="343.75" r="1.25" fill="#8268c5" stroke="#14142a" stroke-width="0.55"/>
<circle cx="81.77" cy="344.85" r="1.25" fill="#856bc6" stroke="#14142a" stroke-width="0.55"/>
<circle cx="80.66" cy="345.96" r="1.25" fill="#876dc7" stroke="#14142a" stroke-width="0.55"/>
<circle cx="75.88" cy="348.17" r="1.25" fill="#8b72c9" stroke="#14142a" stroke-width="0.55"/>
<circle cx="71.29" cy="349.28" r="1.25" fill="#8d75ca" stroke="#14142a" stroke-width="0.55"/>
<circle cx="80.56" cy="350.38" r="1.25" fill="#8f77cb" stroke="#14142a" stroke-width="0.55"/>
<circle cx="75.35" cy="351.49" r="1.25" fill="#917acc" stroke="#14142a" stroke-width="0.55"/>
<circle cx="75.10" cy="352.59" r="1.25" fill="#937ccc" stroke="#14142a" stroke-width="0.55"/>
<circle cx="83.43" cy="353.70" r="1.25" fill="#957fcd" stroke="#14142a" stroke-width="0.55"/>
<circle cx="81.43" cy="355.91" r="1.25" fill="#9984cf" stroke="#14142a" stroke-width="0.55"/>
<circle cx="74.89" cy="358.12" r="1.25" fill="#9d88d1" stroke="#14142a" stroke-width="0.55"/>
<circle cx="75.02" cy="359.23" r="1.25" fill="#9f8bd2" stroke="#14142a" stroke-width="0.55"/>
<circle cx="76.57" cy="360.34" r="1.25" fill="#a18dd3" stroke="#14142a" stroke-width="0.55"/>
<circle cx="76.48" cy="361.44" r="1.25" fill="#a390d4" stroke="#14142a" stroke-width="0.55"/>
<circle cx="74.81" cy="362.55" r="1.25" fill="#a592d5" stroke="#14142a" stroke-width="0.55"/>
<circle cx="72.19" cy="363.65" r="1.25" fill="#a795d6" stroke="#14142a" stroke-width="0.55"/>
<circle cx="76.76" cy="364.76" r="1.25" fill="#a997d7" stroke="#14142a" stroke-width="0.55"/>
<circle cx="84.87" cy="365.87" r="1.25" fill="#ab99d8" stroke="#14142a" stroke-width="0.55"/>
<circle cx="80.77" cy="366.97" r="1.25" fill="#ad9cd9" stroke="#14142a" stroke-width="0.55"/>
<circle cx="84.28" cy="369.18" r="1.25" fill="#b1a1db" stroke="#14142a" stroke-width="0.55"/>
<circle cx="79.80" cy="370.29" r="1.25" fill="#b3a3dc" stroke="#14142a" stroke-width="0.55"/>
<circle cx="74.89" cy="372.50" r="1.25" fill="#b7a8de" stroke="#14142a" stroke-width="0.55"/>
<circle cx="78.75" cy="390.20" r="1.25" fill="#d7cfed" stroke="#14142a" stroke-width="0.55"/>
<circle cx="104.01" cy="310.57" r="1.25" fill="#3e24aa" stroke="#14142a" stroke-width="0.55"/>
<circle cx="108.48" cy="316.10" r="1.25" fill="#4b2eae" stroke="#14142a" stroke-width="0.55"/>
<circle cx="110.71" cy="340.43" r="1.25" fill="#7c61c2" stroke="#14142a" stroke-width="0.55"/>
<circle cx="113.05" cy="342.64" r="1.25" fill="#8066c4" stroke="#14142a" stroke-width="0.55"/>
<circle cx="114.21" cy="347.06" r="1.25" fill="#8970c8" stroke="#14142a" stroke-width="0.55"/>
<circle cx="111.25" cy="351.49" r="1.25" fill="#917acc" stroke="#14142a" stroke-width="0.55"/>
<circle cx="110.90" cy="351.49" r="1.25" fill="#917acc" stroke="#14142a" stroke-width="0.55"/>
<circle cx="107.33" cy="351.49" r="1.25" fill="#917acc" stroke="#14142a" stroke-width="0.55"/>
<circle cx="111.38" cy="351.49" r="1.25" fill="#917acc" stroke="#14142a" stroke-width="0.55"/>
<circle cx="118.06" cy="352.59" r="1.25" fill="#937ccc" stroke="#14142a" stroke-width="0.55"/>
<circle cx="116.42" cy="358.12" r="1.25" fill="#9d88d1" stroke="#14142a" stroke-width="0.55"/>
<circle cx="106.65" cy="358.12" r="1.25" fill="#9d88d1" stroke="#14142a" stroke-width="0.55"/>
<circle cx="105.32" cy="359.23" r="1.25" fill="#9f8bd2" stroke="#14142a" stroke-width="0.55"/>
<circle cx="112.04" cy="360.34" r="1.25" fill="#a18dd3" stroke="#14142a" stroke-width="0.55"/>
<circle cx="113.87" cy="364.76" r="1.25" fill="#a997d7" stroke="#14142a" stroke-width="0.55"/>
<circle cx="109.23" cy="380.24" r="1.25" fill="#c5b9e5" stroke="#14142a" stroke-width="0.55"/>
<circle cx="116.77" cy="380.24" r="1.25" fill="#c5b9e5" stroke="#14142a" stroke-width="0.55"/>
<circle cx="115.72" cy="380.24" r="1.25" fill="#c5b9e5" stroke="#14142a" stroke-width="0.55"/>
<circle cx="114.50" cy="380.24" r="1.25" fill="#c5b9e5" stroke="#14142a" stroke-width="0.55"/>
<circle cx="107.50" cy="389.09" r="1.25" fill="#d5cced" stroke="#14142a" stroke-width="0.55"/>
<circle cx="140.81" cy="406.07" r="1.25" fill="#f4f1fa" stroke="#14142a" stroke-width="0.55"/>
<circle cx="138.08" cy="405.94" r="1.25" fill="#f3f1fa" stroke="#14142a" stroke-width="0.55"/>
<circle cx="141.52" cy="405.63" r="1.25" fill="#f3f0fa" stroke="#14142a" stroke-width="0.55"/>
<circle cx="145.11" cy="405.38" r="1.25" fill="#f2f0f9" stroke="#14142a" stroke-width="0.55"/>
<circle cx="150.96" cy="405.01" r="1.25" fill="#f2eff9" stroke="#14142a" stroke-width="0.55"/>
<circle cx="138.84" cy="404.76" r="1.25" fill="#f1eef9" stroke="#14142a" stroke-width="0.55"/>
<circle cx="144.17" cy="404.45" r="1.25" fill="#f1eef9" stroke="#14142a" stroke-width="0.55"/>
<circle cx="147.52" cy="404.36" r="1.25" fill="#f0edf9" stroke="#14142a" stroke-width="0.55"/>
<circle cx="140.73" cy="404.02" r="1.25" fill="#f0edf8" stroke="#14142a" stroke-width="0.55"/>
<circle cx="148.56" cy="403.85" r="1.25" fill="#f0ecf8" stroke="#14142a" stroke-width="0.55"/>
<circle cx="145.41" cy="403.54" r="1.25" fill="#efecf8" stroke="#14142a" stroke-width="0.55"/>
<circle cx="141.51" cy="403.22" r="1.25" fill="#eeebf8" stroke="#14142a" stroke-width="0.55"/>
<circle cx="147.93" cy="403.06" r="1.25" fill="#eeebf8" stroke="#14142a" stroke-width="0.55"/>
<circle cx="137.79" cy="402.76" r="1.25" fill="#eeeaf7" stroke="#14142a" stroke-width="0.55"/>
<circle cx="149.42" cy="402.41" r="1.25" fill="#ede9f7" stroke="#14142a" stroke-width="0.55"/>
<circle cx="149.71" cy="402.17" r="1.25" fill="#ede9f7" stroke="#14142a" stroke-width="0.55"/>
<circle cx="139.36" cy="401.97" r="1.25" fill="#ece8f7" stroke="#14142a" stroke-width="0.55"/>
<circle cx="144.33" cy="401.63" r="1.25" fill="#ece7f6" stroke="#14142a" stroke-width="0.55"/>
<circle cx="140.44" cy="401.32" r="1.25" fill="#ebe7f6" stroke="#14142a" stroke-width="0.55"/>
<circle cx="152.64" cy="401.23" r="1.25" fill="#ebe7f6" stroke="#14142a" stroke-width="0.55"/>
<circle cx="145.78" cy="400.80" r="1.25" fill="#eae6f6" stroke="#14142a" stroke-width="0.55"/>
<circle cx="138.48" cy="400.56" r="1.25" fill="#eae5f6" stroke="#14142a" stroke-width="0.55"/>
<circle cx="141.59" cy="400.37" r="1.25" fill="#e9e5f5" stroke="#14142a" stroke-width="0.55"/>
<circle cx="150.93" cy="400.15" r="1.25" fill="#e9e4f5" stroke="#14142a" stroke-width="0.55"/>
<circle cx="144.82" cy="399.72" r="1.25" fill="#e8e3f5" stroke="#14142a" stroke-width="0.55"/>
<circle cx="150.20" cy="399.59" r="1.25" fill="#e8e3f5" stroke="#14142a" stroke-width="0.55"/>
<circle cx="148.11" cy="399.38" r="1.25" fill="#e8e3f5" stroke="#14142a" stroke-width="0.55"/>
<circle cx="153.11" cy="399.12" r="1.25" fill="#e7e2f4" stroke="#14142a" stroke-width="0.55"/>
<circle cx="146.99" cy="398.70" r="1.25" fill="#e6e1f4" stroke="#14142a" stroke-width="0.55"/>
<circle cx="152.52" cy="398.49" r="1.25" fill="#e6e1f4" stroke="#14142a" stroke-width="0.55"/>
<circle cx="151.61" cy="398.18" r="1.25" fill="#e5e0f4" stroke="#14142a" stroke-width="0.55"/>
<circle cx="147.26" cy="397.94" r="1.25" fill="#e5dff3" stroke="#14142a" stroke-width="0.55"/>
<circle cx="148.92" cy="397.71" r="1.25" fill="#e5dff3" stroke="#14142a" stroke-width="0.55"/>
<circle cx="145.57" cy="397.36" r="1.25" fill="#e4def3" stroke="#14142a" stroke-width="0.55"/>
<circle cx="150.66" cy="397.22" r="1.25" fill="#e4def3" stroke="#14142a" stroke-width="0.55"/>
<circle cx="146.25" cy="396.92" r="1.25" fill="#e3ddf3" stroke="#14142a" stroke-width="0.55"/>
<circle cx="151.70" cy="396.60" r="1.25" fill="#e3ddf2" stroke="#14142a" stroke-width="0.55"/>
<circle cx="149.30" cy="396.39" r="1.25" fill="#e2dcf2" stroke="#14142a" stroke-width="0.55"/>
<circle cx="145.10" cy="396.02" r="1.25" fill="#e2dbf2" stroke="#14142a" stroke-width="0.55"/>
<circle cx="141.74" cy="395.77" r="1.25" fill="#e1dbf2" stroke="#14142a" stroke-width="0.55"/>
<circle cx="141.56" cy="395.40" r="1.25" fill="#e0daf1" stroke="#14142a" stroke-width="0.55"/>
<circle cx="147.65" cy="395.25" r="1.25" fill="#e0daf1" stroke="#14142a" stroke-width="0.55"/>
<circle cx="149.65" cy="394.87" r="1.25" fill="#e0d9f1" stroke="#14142a" stroke-width="0.55"/>
<circle cx="145.83" cy="394.53" r="1.25" fill="#dfd8f1" stroke="#14142a" stroke-width="0.55"/>
<circle cx="147.48" cy="394.25" r="1.25" fill="#ded8f1" stroke="#14142a" stroke-width="0.55"/>
<circle cx="141.98" cy="393.88" r="1.25" fill="#ded7f0" stroke="#14142a" stroke-width="0.55"/>
<circle cx="138.91" cy="393.59" r="1.25" fill="#ddd6f0" stroke="#14142a" stroke-width="0.55"/>
<circle cx="142.16" cy="393.21" r="1.25" fill="#ddd5f0" stroke="#14142a" stroke-width="0.55"/>
<circle cx="141.94" cy="392.79" r="1.25" fill="#dcd4ef" stroke="#14142a" stroke-width="0.55"/>
<circle cx="142.69" cy="392.53" r="1.25" fill="#dbd4ef" stroke="#14142a" stroke-width="0.55"/>
<circle cx="146.13" cy="392.20" r="1.25" fill="#dbd3ef" stroke="#14142a" stroke-width="0.55"/>
<circle cx="139.86" cy="391.92" r="1.25" fill="#dad2ef" stroke="#14142a" stroke-width="0.55"/>
<circle cx="141.31" cy="391.57" r="1.25" fill="#dad2ee" stroke="#14142a" stroke-width="0.55"/>
<circle cx="148.53" cy="391.07" r="1.25" fill="#d9d1ee" stroke="#14142a" stroke-width="0.55"/>
<circle cx="148.72" cy="390.82" r="1.25" fill="#d8d0ee" stroke="#14142a" stroke-width="0.55"/>
<circle cx="138.70" cy="390.50" r="1.25" fill="#d8cfee" stroke="#14142a" stroke-width="0.55"/>
<circle cx="144.06" cy="390.28" r="1.25" fill="#d7cfed" stroke="#14142a" stroke-width="0.55"/>
<circle cx="146.16" cy="389.81" r="1.25" fill="#d6ceed" stroke="#14142a" stroke-width="0.55"/>
<circle cx="144.19" cy="389.63" r="1.25" fill="#d6ceed" stroke="#14142a" stroke-width="0.55"/>
<circle cx="140.93" cy="389.24" r="1.25" fill="#d5cded" stroke="#14142a" stroke-width="0.55"/>
<circle cx="144.25" cy="388.75" r="1.25" fill="#d5ccec" stroke="#14142a" stroke-width="0.55"/>
<circle cx="151.82" cy="388.52" r="1.25" fill="#d4cbec" stroke="#14142a" stroke-width="0.55"/>
<circle cx="146.81" cy="388.21" r="1.25" fill="#d4caec" stroke="#14142a" stroke-width="0.55"/>
<circle cx="148.55" cy="387.85" r="1.25" fill="#d3caec" stroke="#14142a" stroke-width="0.55"/>
<circle cx="151.07" cy="387.48" r="1.25" fill="#d2c9eb" stroke="#14142a" stroke-width="0.55"/>
<circle cx="149.64" cy="387.16" r="1.25" fill="#d2c8eb" stroke="#14142a" stroke-width="0.55"/>
<circle cx="143.63" cy="386.98" r="1.25" fill="#d1c8eb" stroke="#14142a" stroke-width="0.55"/>
<circle cx="137.79" cy="386.70" r="1.25" fill="#d1c7eb" stroke="#14142a" stroke-width="0.55"/>
<circle cx="143.19" cy="386.30" r="1.25" fill="#d0c6ea" stroke="#14142a" stroke-width="0.55"/>
<circle cx="149.45" cy="385.98" r="1.25" fill="#d0c6ea" stroke="#14142a" stroke-width="0.55"/>
<circle cx="151.01" cy="385.67" r="1.25" fill="#cfc5ea" stroke="#14142a" stroke-width="0.55"/>
<circle cx="152.57" cy="385.15" r="1.25" fill="#cec4e9" stroke="#14142a" stroke-width="0.55"/>
<circle cx="144.24" cy="384.84" r="1.25" fill="#cec3e9" stroke="#14142a" stroke-width="0.55"/>
<circle cx="149.36" cy="384.65" r="1.25" fill="#cdc3e9" stroke="#14142a" stroke-width="0.55"/>
<circle cx="146.22" cy="384.24" r="1.25" fill="#cdc2e9" stroke="#14142a" stroke-width="0.55"/>
<circle cx="147.11" cy="383.98" r="1.25" fill="#ccc1e8" stroke="#14142a" stroke-width="0.55"/>
<circle cx="141.14" cy="383.46" r="1.25" fill="#cbc0e8" stroke="#14142a" stroke-width="0.55"/>
<circle cx="141.12" cy="383.22" r="1.25" fill="#cbc0e8" stroke="#14142a" stroke-width="0.55"/>
<circle cx="144.50" cy="382.89" r="1.25" fill="#cabfe8" stroke="#14142a" stroke-width="0.55"/>
<circle cx="138.15" cy="382.51" r="1.25" fill="#c9bee7" stroke="#14142a" stroke-width="0.55"/>
<circle cx="142.94" cy="382.03" r="1.25" fill="#c9bde7" stroke="#14142a" stroke-width="0.55"/>
<circle cx="148.29" cy="381.74" r="1.25" fill="#c8bce7" stroke="#14142a" stroke-width="0.55"/>
<circle cx="144.01" cy="381.25" r="1.25" fill="#c7bbe6" stroke="#14142a" stroke-width="0.55"/>
<circle cx="140.27" cy="380.77" r="1.25" fill="#c6bae6" stroke="#14142a" stroke-width="0.55"/>
<circle cx="144.99" cy="380.54" r="1.25" fill="#c6bae5" stroke="#14142a" stroke-width="0.55"/>
<circle cx="139.69" cy="380.21" r="1.25" fill="#c5b9e5" stroke="#14142a" stroke-width="0.55"/>
<circle cx="147.41" cy="379.58" r="1.25" fill="#c4b8e5" stroke="#14142a" stroke-width="0.55"/>
<circle cx="138.12" cy="379.35" r="1.25" fill="#c4b7e4" stroke="#14142a" stroke-width="0.55"/>
<circle cx="143.85" cy="379.09" r="1.25" fill="#c3b7e4" stroke="#14142a" stroke-width="0.55"/>
<circle cx="146.50" cy="378.72" r="1.25" fill="#c2b6e4" stroke="#14142a" stroke-width="0.55"/>
<circle cx="138.12" cy="378.31" r="1.25" fill="#c2b5e3" stroke="#14142a" stroke-width="0.55"/>
<circle cx="147.73" cy="377.77" r="1.25" fill="#c1b4e3" stroke="#14142a" stroke-width="0.55"/>
<circle cx="139.82" cy="377.33" r="1.25" fill="#c0b3e3" stroke="#14142a" stroke-width="0.55"/>
<circle cx="144.90" cy="377.06" r="1.25" fill="#bfb2e2" stroke="#14142a" stroke-width="0.55"/>
<circle cx="138.48" cy="376.78" r="1.25" fill="#bfb1e2" stroke="#14142a" stroke-width="0.55"/>
<circle cx="143.61" cy="376.30" r="1.25" fill="#beb0e2" stroke="#14142a" stroke-width="0.55"/>
<circle cx="141.00" cy="375.73" r="1.25" fill="#bdafe1" stroke="#14142a" stroke-width="0.55"/>
<circle cx="142.80" cy="375.48" r="1.25" fill="#bdafe1" stroke="#14142a" stroke-width="0.55"/>
<circle cx="149.58" cy="374.96" r="1.25" fill="#bcade0" stroke="#14142a" stroke-width="0.55"/>
<circle cx="143.61" cy="374.61" r="1.25" fill="#bbade0" stroke="#14142a" stroke-width="0.55"/>
<circle cx="149.43" cy="374.49" r="1.25" fill="#bbace0" stroke="#14142a" stroke-width="0.55"/>
<circle cx="150.68" cy="373.88" r="1.25" fill="#baabe0" stroke="#14142a" stroke-width="0.55"/>
<circle cx="141.64" cy="373.51" r="1.25" fill="#b9aadf" stroke="#14142a" stroke-width="0.55"/>
<circle cx="138.98" cy="373.17" r="1.25" fill="#b8aadf" stroke="#14142a" stroke-width="0.55"/>
<circle cx="138.00" cy="372.87" r="1.25" fill="#b8a9df" stroke="#14142a" stroke-width="0.55"/>
<circle cx="146.11" cy="372.36" r="1.25" fill="#b7a8de" stroke="#14142a" stroke-width="0.55"/>
<circle cx="153.30" cy="372.14" r="1.25" fill="#b7a7de" stroke="#14142a" stroke-width="0.55"/>
<circle cx="143.16" cy="371.66" r="1.25" fill="#b6a6de" stroke="#14142a" stroke-width="0.55"/>
<circle cx="147.84" cy="371.27" r="1.25" fill="#b5a5dd" stroke="#14142a" stroke-width="0.55"/>
<circle cx="149.89" cy="370.73" r="1.25" fill="#b4a4dd" stroke="#14142a" stroke-width="0.55"/>
<circle cx="147.87" cy="370.36" r="1.25" fill="#b3a3dc" stroke="#14142a" stroke-width="0.55"/>
<circle cx="149.47" cy="370.17" r="1.25" fill="#b3a3dc" stroke="#14142a" stroke-width="0.55"/>
<circle cx="152.51" cy="369.71" r="1.25" fill="#b2a2dc" stroke="#14142a" stroke-width="0.55"/>
<circle cx="140.81" cy="369.32" r="1.25" fill="#b1a1db" stroke="#14142a" stroke-width="0.55"/>
<circle cx="138.02" cy="368.02" r="1.25" fill="#af9eda" stroke="#14142a" stroke-width="0.55"/>
<circle cx="140.08" cy="367.22" r="1.25" fill="#ae9cda" stroke="#14142a" stroke-width="0.55"/>
<circle cx="139.67" cy="366.78" r="1.25" fill="#ad9bd9" stroke="#14142a" stroke-width="0.55"/>
<circle cx="148.14" cy="365.74" r="1.25" fill="#ab99d8" stroke="#14142a" stroke-width="0.55"/>
<circle cx="146.50" cy="364.94" r="1.25" fill="#a997d8" stroke="#14142a" stroke-width="0.55"/>
<circle cx="141.10" cy="364.42" r="1.25" fill="#a896d7" stroke="#14142a" stroke-width="0.55"/>
<circle cx="148.61" cy="363.20" r="1.25" fill="#a694d6" stroke="#14142a" stroke-width="0.55"/>
<circle cx="149.66" cy="362.52" r="1.25" fill="#a592d5" stroke="#14142a" stroke-width="0.55"/>
<circle cx="140.32" cy="361.55" r="1.25" fill="#a390d4" stroke="#14142a" stroke-width="0.55"/>
<circle cx="147.17" cy="360.89" r="1.25" fill="#a28fd4" stroke="#14142a" stroke-width="0.55"/>
<circle cx="149.37" cy="360.42" r="1.25" fill="#a18dd3" stroke="#14142a" stroke-width="0.55"/>
<circle cx="139.49" cy="359.39" r="1.25" fill="#9f8bd3" stroke="#14142a" stroke-width="0.55"/>
<circle cx="150.48" cy="358.77" r="1.25" fill="#9e8ad2" stroke="#14142a" stroke-width="0.55"/>
<circle cx="152.75" cy="357.35" r="1.25" fill="#9c87d1" stroke="#14142a" stroke-width="0.55"/>
<circle cx="139.39" cy="356.57" r="1.25" fill="#9a85d0" stroke="#14142a" stroke-width="0.55"/>
<circle cx="138.10" cy="355.78" r="1.25" fill="#9983cf" stroke="#14142a" stroke-width="0.55"/>
<circle cx="142.57" cy="355.30" r="1.25" fill="#9882cf" stroke="#14142a" stroke-width="0.55"/>
<circle cx="148.27" cy="354.65" r="1.25" fill="#9781ce" stroke="#14142a" stroke-width="0.55"/>
<circle cx="152.65" cy="353.29" r="1.25" fill="#947ecd" stroke="#14142a" stroke-width="0.55"/>
<circle cx="143.89" cy="352.42" r="1.25" fill="#937ccc" stroke="#14142a" stroke-width="0.55"/>
<circle cx="148.85" cy="352.17" r="1.25" fill="#927bcc" stroke="#14142a" stroke-width="0.55"/>
<circle cx="138.89" cy="348.17" r="1.25" fill="#8b72c9" stroke="#14142a" stroke-width="0.55"/>
<circle cx="148.47" cy="344.85" r="1.25" fill="#856bc6" stroke="#14142a" stroke-width="0.55"/>
<circle cx="147.48" cy="340.43" r="1.25" fill="#7c61c2" stroke="#14142a" stroke-width="0.55"/>
<circle cx="139.29" cy="337.11" r="1.25" fill="#7659bf" stroke="#14142a" stroke-width="0.55"/>
<circle cx="149.75" cy="333.79" r="1.25" fill="#7052bc" stroke="#14142a" stroke-width="0.55"/>
<circle cx="150.96" cy="331.58" r="1.25" fill="#6c4dba" stroke="#14142a" stroke-width="0.55"/>
<circle cx="147.07" cy="329.37" r="1.25" fill="#6848b8" stroke="#14142a" stroke-width="0.55"/>
<circle cx="139.59" cy="327.16" r="1.25" fill="#6442b6" stroke="#14142a" stroke-width="0.55"/>
<circle cx="153.05" cy="323.84" r="1.25" fill="#5d3cb3" stroke="#14142a" stroke-width="0.55"/>
<circle cx="149.91" cy="320.52" r="1.25" fill="#5536b1" stroke="#14142a" stroke-width="0.55"/>
<circle cx="143.12" cy="316.10" r="1.25" fill="#4b2eae" stroke="#14142a" stroke-width="0.55"/>
<circle cx="144.38" cy="313.88" r="1.25" fill="#462aac" stroke="#14142a" stroke-width="0.55"/>
<circle cx="143.48" cy="306.14" r="1.25" fill="#341ca7" stroke="#14142a" stroke-width="0.55"/>
<circle cx="174.50" cy="322.18" r="1.25" fill="#5939b2" stroke="#14142a" stroke-width="0.55"/>
<circle cx="175.60" cy="322.18" r="1.25" fill="#5939b2" stroke="#14142a" stroke-width="0.55"/>
<circle cx="177.20" cy="327.16" r="1.25" fill="#6442b6" stroke="#14142a" stroke-width="0.55"/>
<circle cx="185.40" cy="327.16" r="1.25" fill="#6442b6" stroke="#14142a" stroke-width="0.55"/>
<circle cx="178.90" cy="379.69" r="1.25" fill="#c4b8e5" stroke="#14142a" stroke-width="0.55"/>
<circle cx="184.70" cy="385.77" r="1.25" fill="#cfc5ea" stroke="#14142a" stroke-width="0.55"/>
<circle cx="178.50" cy="392.41" r="1.25" fill="#dbd4ef" stroke="#14142a" stroke-width="0.55"/>
<circle cx="178.20" cy="396.06" r="1.25" fill="#e2dbf2" stroke="#14142a" stroke-width="0.55"/>
<circle cx="172.90" cy="399.05" r="1.25" fill="#e7e2f4" stroke="#14142a" stroke-width="0.55"/>
<circle cx="179.10" cy="399.05" r="1.25" fill="#e7e2f4" stroke="#14142a" stroke-width="0.55"/>
<circle cx="181.30" cy="398.49" r="1.25" fill="#e6e1f4" stroke="#14142a" stroke-width="0.55"/>
<circle cx="184.70" cy="405.35" r="1.25" fill="#f2f0f9" stroke="#14142a" stroke-width="0.55"/>
<circle cx="212.99" cy="307.25" r="1.25" fill="#361ea8" stroke="#14142a" stroke-width="0.55"/>
<circle cx="210.52" cy="307.25" r="1.25" fill="#361ea8" stroke="#14142a" stroke-width="0.55"/>
<circle cx="218.14" cy="308.35" r="1.25" fill="#3920a8" stroke="#14142a" stroke-width="0.55"/>
<circle cx="217.73" cy="309.46" r="1.25" fill="#3b22a9" stroke="#14142a" stroke-width="0.55"/>
<circle cx="206.98" cy="310.57" r="1.25" fill="#3e24aa" stroke="#14142a" stroke-width="0.55"/>
<circle cx="219.81" cy="311.67" r="1.25" fill="#4026ab" stroke="#14142a" stroke-width="0.55"/>
<circle cx="214.93" cy="311.67" r="1.25" fill="#4026ab" stroke="#14142a" stroke-width="0.55"/>
<circle cx="217.83" cy="312.78" r="1.25" fill="#4328ab" stroke="#14142a" stroke-width="0.55"/>
<circle cx="216.01" cy="313.88" r="1.25" fill="#462aac" stroke="#14142a" stroke-width="0.55"/>
<circle cx="211.93" cy="314.99" r="1.25" fill="#482cad" stroke="#14142a" stroke-width="0.55"/>
<circle cx="216.41" cy="314.99" r="1.25" fill="#482cad" stroke="#14142a" stroke-width="0.55"/>
<circle cx="219.88" cy="316.10" r="1.25" fill="#4b2eae" stroke="#14142a" stroke-width="0.55"/>
<circle cx="209.45" cy="317.20" r="1.25" fill="#4d30af" stroke="#14142a" stroke-width="0.55"/>
<circle cx="217.52" cy="320.52" r="1.25" fill="#5536b1" stroke="#14142a" stroke-width="0.55"/>
<circle cx="213.47" cy="321.63" r="1.25" fill="#5838b2" stroke="#14142a" stroke-width="0.55"/>
<circle cx="212.65" cy="322.73" r="1.25" fill="#5a3ab2" stroke="#14142a" stroke-width="0.55"/>
<circle cx="211.93" cy="323.84" r="1.25" fill="#5d3cb3" stroke="#14142a" stroke-width="0.55"/>
<circle cx="216.37" cy="333.79" r="1.25" fill="#7052bc" stroke="#14142a" stroke-width="0.55"/>
<circle cx="209.43" cy="334.90" r="1.25" fill="#7254bd" stroke="#14142a" stroke-width="0.55"/>
<circle cx="218.18" cy="336.00" r="1.25" fill="#7457be" stroke="#14142a" stroke-width="0.55"/>
<circle cx="217.86" cy="336.00" r="1.25" fill="#7457be" stroke="#14142a" stroke-width="0.55"/>
<circle cx="206.70" cy="337.11" r="1.25" fill="#7659bf" stroke="#14142a" stroke-width="0.55"/>
<circle cx="218.62" cy="338.22" r="1.25" fill="#785cc0" stroke="#14142a" stroke-width="0.55"/>
<circle cx="209.06" cy="338.22" r="1.25" fill="#785cc0" stroke="#14142a" stroke-width="0.55"/>
<circle cx="212.37" cy="339.32" r="1.25" fill="#7a5ec1" stroke="#14142a" stroke-width="0.55"/>
<circle cx="214.55" cy="339.32" r="1.25" fill="#7a5ec1" stroke="#14142a" stroke-width="0.55"/>
<circle cx="211.08" cy="340.43" r="1.25" fill="#7c61c2" stroke="#14142a" stroke-width="0.55"/>
<circle cx="205.83" cy="341.53" r="1.25" fill="#7e63c3" stroke="#14142a" stroke-width="0.55"/>
<circle cx="218.16" cy="352.59" r="1.25" fill="#937ccc" stroke="#14142a" stroke-width="0.55"/>
<circle cx="208.13" cy="352.59" r="1.25" fill="#937ccc" stroke="#14142a" stroke-width="0.55"/>
<circle cx="208.58" cy="378.36" r="1.25" fill="#c2b5e4" stroke="#14142a" stroke-width="0.55"/>
<circle cx="217.37" cy="378.36" r="1.25" fill="#c2b5e4" stroke="#14142a" stroke-width="0.55"/>
<circle cx="210.51" cy="401.26" r="1.25" fill="#ebe7f6" stroke="#14142a" stroke-width="0.55"/>
<circle cx="252.93" cy="320.11" r="1.25" fill="#5435b1" stroke="#14142a" stroke-width="0.55"/>
<circle cx="250.14" cy="319.85" r="1.25" fill="#5434b0" stroke="#14142a" stroke-width="0.55"/>
<circle cx="243.51" cy="319.25" r="1.25" fill="#5233b0" stroke="#14142a" stroke-width="0.55"/>
<circle cx="239.36" cy="318.86" r="1.25" fill="#5133b0" stroke="#14142a" stroke-width="0.55"/>
<circle cx="253.99" cy="318.67" r="1.25" fill="#5132b0" stroke="#14142a" stroke-width="0.55"/>
<circle cx="240.54" cy="318.18" r="1.25" fill="#5031af" stroke="#14142a" stroke-width="0.55"/>
<circle cx="250.43" cy="317.77" r="1.25" fill="#4f31af" stroke="#14142a" stroke-width="0.55"/>
<circle cx="246.82" cy="317.47" r="1.25" fill="#4e30af" stroke="#14142a" stroke-width="0.55"/>
<circle cx="251.03" cy="316.89" r="1.25" fill="#4d2fae" stroke="#14142a" stroke-width="0.55"/>
<circle cx="249.97" cy="316.65" r="1.25" fill="#4c2fae" stroke="#14142a" stroke-width="0.55"/>
<circle cx="249.28" cy="316.32" r="1.25" fill="#4b2eae" stroke="#14142a" stroke-width="0.55"/>
<circle cx="246.86" cy="315.83" r="1.25" fill="#4a2dae" stroke="#14142a" stroke-width="0.55"/>
<circle cx="251.57" cy="315.39" r="1.25" fill="#492dad" stroke="#14142a" stroke-width="0.55"/>
<circle cx="240.65" cy="315.17" r="1.25" fill="#492cad" stroke="#14142a" stroke-width="0.55"/>
<circle cx="242.66" cy="314.74" r="1.25" fill="#482bad" stroke="#14142a" stroke-width="0.55"/>
<circle cx="249.99" cy="314.15" r="1.25" fill="#462aac" stroke="#14142a" stroke-width="0.55"/>
<circle cx="243.98" cy="313.87" r="1.25" fill="#462aac" stroke="#14142a" stroke-width="0.55"/>
<circle cx="248.27" cy="313.54" r="1.25" fill="#4529ac" stroke="#14142a" stroke-width="0.55"/>
<circle cx="246.58" cy="313.13" r="1.25" fill="#4428ac" stroke="#14142a" stroke-width="0.55"/>
<circle cx="247.48" cy="312.87" r="1.25" fill="#4328ac" stroke="#14142a" stroke-width="0.55"/>
<circle cx="245.84" cy="312.45" r="1.25" fill="#4227ab" stroke="#14142a" stroke-width="0.55"/>
<circle cx="250.84" cy="312.03" r="1.25" fill="#4127ab" stroke="#14142a" stroke-width="0.55"/>
<circle cx="244.36" cy="311.56" r="1.25" fill="#4026ab" stroke="#14142a" stroke-width="0.55"/>
<circle cx="250.16" cy="311.29" r="1.25" fill="#4025aa" stroke="#14142a" stroke-width="0.55"/>
<circle cx="243.43" cy="310.90" r="1.25" fill="#3f24aa" stroke="#14142a" stroke-width="0.55"/>
<circle cx="243.12" cy="310.56" r="1.25" fill="#3e24aa" stroke="#14142a" stroke-width="0.55"/>
<circle cx="241.08" cy="310.00" r="1.25" fill="#3d23aa" stroke="#14142a" stroke-width="0.55"/>
<circle cx="242.20" cy="309.74" r="1.25" fill="#3c22a9" stroke="#14142a" stroke-width="0.55"/>
<circle cx="241.07" cy="309.14" r="1.25" fill="#3b21a9" stroke="#14142a" stroke-width="0.55"/>
<circle cx="247.56" cy="308.77" r="1.25" fill="#3a21a9" stroke="#14142a" stroke-width="0.55"/>
<circle cx="251.09" cy="308.63" r="1.25" fill="#3920a9" stroke="#14142a" stroke-width="0.55"/>
<circle cx="242.09" cy="308.19" r="1.25" fill="#3820a8" stroke="#14142a" stroke-width="0.55"/>
<circle cx="242.58" cy="307.67" r="1.25" fill="#371fa8" stroke="#14142a" stroke-width="0.55"/>
<circle cx="246.75" cy="307.42" r="1.25" fill="#371ea8" stroke="#14142a" stroke-width="0.55"/>
<circle cx="250.50" cy="307.06" r="1.25" fill="#361ea8" stroke="#14142a" stroke-width="0.55"/>
<circle cx="254.44" cy="306.42" r="1.25" fill="#341ca7" stroke="#14142a" stroke-width="0.55"/>
<circle cx="247.38" cy="306.15" r="1.25" fill="#341ca7" stroke="#14142a" stroke-width="0.55"/>
<circle cx="243.61" cy="305.79" r="1.25" fill="#331ba7" stroke="#14142a" stroke-width="0.55"/>
<circle cx="240.77" cy="305.31" r="1.25" fill="#321ba6" stroke="#14142a" stroke-width="0.55"/>
<circle cx="242.23" cy="304.91" r="1.25" fill="#311aa6" stroke="#14142a" stroke-width="0.55"/>
<circle cx="242.75" cy="304.72" r="1.25" fill="#3019a6" stroke="#14142a" stroke-width="0.55"/>
<circle cx="242.00" cy="304.36" r="1.25" fill="#2f19a6" stroke="#14142a" stroke-width="0.55"/>
<circle cx="239.42" cy="303.87" r="1.25" fill="#2e18a5" stroke="#14142a" stroke-width="0.55"/>
<circle cx="247.53" cy="303.48" r="1.25" fill="#2d17a5" stroke="#14142a" stroke-width="0.55"/>
<circle cx="243.48" cy="303.08" r="1.25" fill="#2c17a5" stroke="#14142a" stroke-width="0.55"/>
<circle cx="254.40" cy="302.61" r="1.25" fill="#2b16a4" stroke="#14142a" stroke-width="0.55"/>
<circle cx="247.83" cy="302.24" r="1.25" fill="#2a15a4" stroke="#14142a" stroke-width="0.55"/>
<circle cx="250.08" cy="301.76" r="1.25" fill="#2914a4" stroke="#14142a" stroke-width="0.55"/>
<circle cx="241.17" cy="337.16" r="1.25" fill="#7659bf" stroke="#14142a" stroke-width="0.55"/>
<circle cx="252.75" cy="336.76" r="1.25" fill="#7558be" stroke="#14142a" stroke-width="0.55"/>
<circle cx="246.86" cy="336.45" r="1.25" fill="#7558be" stroke="#14142a" stroke-width="0.55"/>
<circle cx="252.81" cy="335.99" r="1.25" fill="#7457be" stroke="#14142a" stroke-width="0.55"/>
<circle cx="248.16" cy="335.82" r="1.25" fill="#7456be" stroke="#14142a" stroke-width="0.55"/>
<circle cx="246.52" cy="335.51" r="1.25" fill="#7355bd" stroke="#14142a" stroke-width="0.55"/>
<circle cx="246.07" cy="335.12" r="1.25" fill="#7255bd" stroke="#14142a" stroke-width="0.55"/>
<circle cx="242.08" cy="334.80" r="1.25" fill="#7254bd" stroke="#14142a" stroke-width="0.55"/>
<circle cx="240.00" cy="334.51" r="1.25" fill="#7153bc" stroke="#14142a" stroke-width="0.55"/>
<circle cx="253.88" cy="334.19" r="1.25" fill="#7152bc" stroke="#14142a" stroke-width="0.55"/>
<circle cx="246.65" cy="333.69" r="1.25" fill="#7051bc" stroke="#14142a" stroke-width="0.55"/>
<circle cx="252.03" cy="333.49" r="1.25" fill="#6f51bb" stroke="#14142a" stroke-width="0.55"/>
<circle cx="245.45" cy="333.06" r="1.25" fill="#6f50bb" stroke="#14142a" stroke-width="0.55"/>
<circle cx="240.36" cy="332.81" r="1.25" fill="#6e4fbb" stroke="#14142a" stroke-width="0.55"/>
<circle cx="249.02" cy="332.62" r="1.25" fill="#6e4fbb" stroke="#14142a" stroke-width="0.55"/>
<circle cx="240.04" cy="332.05" r="1.25" fill="#6d4eba" stroke="#14142a" stroke-width="0.55"/>
<circle cx="241.53" cy="331.76" r="1.25" fill="#6c4dba" stroke="#14142a" stroke-width="0.55"/>
<circle cx="247.98" cy="331.40" r="1.25" fill="#6c4cba" stroke="#14142a" stroke-width="0.55"/>
<circle cx="243.94" cy="331.09" r="1.25" fill="#6b4bb9" stroke="#14142a" stroke-width="0.55"/>
<circle cx="254.71" cy="330.78" r="1.25" fill="#6a4bb9" stroke="#14142a" stroke-width="0.55"/>
<circle cx="241.05" cy="330.64" r="1.25" fill="#6a4ab9" stroke="#14142a" stroke-width="0.55"/>
<circle cx="251.13" cy="330.23" r="1.25" fill="#6949b9" stroke="#14142a" stroke-width="0.55"/>
<circle cx="248.66" cy="329.97" r="1.25" fill="#6949b8" stroke="#14142a" stroke-width="0.55"/>
<circle cx="251.54" cy="329.60" r="1.25" fill="#6848b8" stroke="#14142a" stroke-width="0.55"/>
<circle cx="242.72" cy="329.36" r="1.25" fill="#6847b8" stroke="#14142a" stroke-width="0.55"/>
<circle cx="247.35" cy="328.95" r="1.25" fill="#6747b7" stroke="#14142a" stroke-width="0.55"/>
<circle cx="246.23" cy="328.47" r="1.25" fill="#6645b7" stroke="#14142a" stroke-width="0.55"/>
<circle cx="246.11" cy="328.33" r="1.25" fill="#6645b7" stroke="#14142a" stroke-width="0.55"/>
<circle cx="252.62" cy="327.87" r="1.25" fill="#6544b6" stroke="#14142a" stroke-width="0.55"/>
<circle cx="254.64" cy="327.63" r="1.25" fill="#6544b6" stroke="#14142a" stroke-width="0.55"/>
<circle cx="243.96" cy="327.32" r="1.25" fill="#6443b6" stroke="#14142a" stroke-width="0.55"/>
<circle cx="248.89" cy="326.85" r="1.25" fill="#6342b5" stroke="#14142a" stroke-width="0.55"/>
<circle cx="248.71" cy="326.52" r="1.25" fill="#6241b5" stroke="#14142a" stroke-width="0.55"/>
<circle cx="250.75" cy="326.30" r="1.25" fill="#6241b5" stroke="#14142a" stroke-width="0.55"/>
<circle cx="253.98" cy="325.94" r="1.25" fill="#6140b5" stroke="#14142a" stroke-width="0.55"/>
<circle cx="242.44" cy="325.76" r="1.25" fill="#613fb5" stroke="#14142a" stroke-width="0.55"/>
<circle cx="242.49" cy="325.40" r="1.25" fill="#603eb4" stroke="#14142a" stroke-width="0.55"/>
<circle cx="249.50" cy="324.90" r="1.25" fill="#5f3db4" stroke="#14142a" stroke-width="0.55"/>
<circle cx="241.65" cy="324.67" r="1.25" fill="#5f3db4" stroke="#14142a" stroke-width="0.55"/>
<circle cx="241.91" cy="324.36" r="1.25" fill="#5e3db3" stroke="#14142a" stroke-width="0.55"/>
<circle cx="240.37" cy="323.98" r="1.25" fill="#5d3cb3" stroke="#14142a" stroke-width="0.55"/>
<circle cx="239.24" cy="323.83" r="1.25" fill="#5d3cb3" stroke="#14142a" stroke-width="0.55"/>
<circle cx="246.23" cy="323.37" r="1.25" fill="#5c3bb3" stroke="#14142a" stroke-width="0.55"/>
<circle cx="248.46" cy="323.06" r="1.25" fill="#5b3ab3" stroke="#14142a" stroke-width="0.55"/>
<circle cx="243.74" cy="322.65" r="1.25" fill="#5a39b2" stroke="#14142a" stroke-width="0.55"/>
<circle cx="242.81" cy="322.50" r="1.25" fill="#5a39b2" stroke="#14142a" stroke-width="0.55"/>
<circle cx="250.23" cy="321.97" r="1.25" fill="#5938b2" stroke="#14142a" stroke-width="0.55"/>
<circle cx="250.17" cy="321.87" r="1.25" fill="#5838b2" stroke="#14142a" stroke-width="0.55"/>
<circle cx="246.28" cy="321.52" r="1.25" fill="#5737b1" stroke="#14142a" stroke-width="0.55"/>
<circle cx="249.92" cy="321.09" r="1.25" fill="#5637b1" stroke="#14142a" stroke-width="0.55"/>
<circle cx="253.61" cy="320.74" r="1.25" fill="#5636b1" stroke="#14142a" stroke-width="0.55"/>
<circle cx="251.49" cy="320.53" r="1.25" fill="#5536b1" stroke="#14142a" stroke-width="0.55"/>
<circle cx="248.95" cy="357.27" r="1.25" fill="#9b87d1" stroke="#14142a" stroke-width="0.55"/>
<circle cx="249.51" cy="356.62" r="1.25" fill="#9a85d0" stroke="#14142a" stroke-width="0.55"/>
<circle cx="253.77" cy="356.43" r="1.25" fill="#9a85d0" stroke="#14142a" stroke-width="0.55"/>
<circle cx="245.83" cy="355.91" r="1.25" fill="#9984cf" stroke="#14142a" stroke-width="0.55"/>
<circle cx="247.70" cy="355.50" r="1.25" fill="#9883cf" stroke="#14142a" stroke-width="0.55"/>
<circle cx="249.30" cy="355.16" r="1.25" fill="#9882cf" stroke="#14142a" stroke-width="0.55"/>
<circle cx="253.37" cy="354.71" r="1.25" fill="#9781ce" stroke="#14142a" stroke-width="0.55"/>
<circle cx="252.10" cy="354.32" r="1.25" fill="#9680ce" stroke="#14142a" stroke-width="0.55"/>
<circle cx="240.31" cy="353.79" r="1.25" fill="#957fce" stroke="#14142a" stroke-width="0.55"/>
<circle cx="241.79" cy="353.62" r="1.25" fill="#957ecd" stroke="#14142a" stroke-width="0.55"/>
<circle cx="244.00" cy="353.05" r="1.25" fill="#947dcd" stroke="#14142a" stroke-width="0.55"/>
<circle cx="250.88" cy="352.80" r="1.25" fill="#937dcd" stroke="#14142a" stroke-width="0.55"/>
<circle cx="248.08" cy="352.35" r="1.25" fill="#927ccc" stroke="#14142a" stroke-width="0.55"/>
<circle cx="243.70" cy="351.86" r="1.25" fill="#927bcc" stroke="#14142a" stroke-width="0.55"/>
<circle cx="241.14" cy="351.58" r="1.25" fill="#917acc" stroke="#14142a" stroke-width="0.55"/>
<circle cx="249.94" cy="351.17" r="1.25" fill="#9079cb" stroke="#14142a" stroke-width="0.55"/>
<circle cx="250.12" cy="350.63" r="1.25" fill="#8f78cb" stroke="#14142a" stroke-width="0.55"/>
<circle cx="253.91" cy="350.44" r="1.25" fill="#8f77cb" stroke="#14142a" stroke-width="0.55"/>
<circle cx="247.01" cy="349.92" r="1.25" fill="#8e76ca" stroke="#14142a" stroke-width="0.55"/>
<circle cx="246.90" cy="349.34" r="1.25" fill="#8d75ca" stroke="#14142a" stroke-width="0.55"/>
<circle cx="240.45" cy="348.94" r="1.25" fill="#8c74c9" stroke="#14142a" stroke-width="0.55"/>
<circle cx="239.82" cy="348.83" r="1.25" fill="#8c74c9" stroke="#14142a" stroke-width="0.55"/>
<circle cx="245.94" cy="348.38" r="1.25" fill="#8b73c9" stroke="#14142a" stroke-width="0.55"/>
<circle cx="244.23" cy="347.96" r="1.25" fill="#8a72c8" stroke="#14142a" stroke-width="0.55"/>
<circle cx="243.11" cy="347.35" r="1.25" fill="#8970c8" stroke="#14142a" stroke-width="0.55"/>
<circle cx="240.62" cy="346.96" r="1.25" fill="#886fc7" stroke="#14142a" stroke-width="0.55"/>
<circle cx="254.21" cy="346.56" r="1.25" fill="#886ec7" stroke="#14142a" stroke-width="0.55"/>
<circle cx="252.24" cy="346.32" r="1.25" fill="#876ec7" stroke="#14142a" stroke-width="0.55"/>
<circle cx="248.17" cy="345.99" r="1.25" fill="#876dc7" stroke="#14142a" stroke-width="0.55"/>
<circle cx="254.03" cy="345.37" r="1.25" fill="#856cc6" stroke="#14142a" stroke-width="0.55"/>
<circle cx="254.79" cy="345.01" r="1.25" fill="#856bc6" stroke="#14142a" stroke-width="0.55"/>
<circle cx="249.69" cy="344.63" r="1.25" fill="#846ac5" stroke="#14142a" stroke-width="0.55"/>
<circle cx="243.40" cy="344.11" r="1.25" fill="#8369c5" stroke="#14142a" stroke-width="0.55"/>
<circle cx="239.83" cy="343.81" r="1.25" fill="#8368c5" stroke="#14142a" stroke-width="0.55"/>
<circle cx="251.00" cy="343.62" r="1.25" fill="#8268c4" stroke="#14142a" stroke-width="0.55"/>
<circle cx="246.54" cy="342.96" r="1.25" fill="#8166c4" stroke="#14142a" stroke-width="0.55"/>
<circle cx="249.36" cy="342.72" r="1.25" fill="#8166c4" stroke="#14142a" stroke-width="0.55"/>
<circle cx="253.49" cy="342.20" r="1.25" fill="#8065c3" stroke="#14142a" stroke-width="0.55"/>
<circle cx="242.03" cy="341.71" r="1.25" fill="#7f63c3" stroke="#14142a" stroke-width="0.55"/>
<circle cx="248.33" cy="341.57" r="1.25" fill="#7e63c3" stroke="#14142a" stroke-width="0.55"/>
<circle cx="249.10" cy="341.17" r="1.25" fill="#7e62c2" stroke="#14142a" stroke-width="0.55"/>
<circle cx="246.87" cy="340.77" r="1.25" fill="#7d61c2" stroke="#14142a" stroke-width="0.55"/>
<circle cx="240.62" cy="340.22" r="1.25" fill="#7c60c1" stroke="#14142a" stroke-width="0.55"/>
<circle cx="244.63" cy="339.91" r="1.25" fill="#7b5fc1" stroke="#14142a" stroke-width="0.55"/>
<circle cx="244.40" cy="339.40" r="1.25" fill="#7a5ec1" stroke="#14142a" stroke-width="0.55"/>
<circle cx="249.65" cy="338.96" r="1.25" fill="#7a5dc0" stroke="#14142a" stroke-width="0.55"/>
<circle cx="252.58" cy="338.73" r="1.25" fill="#795dc0" stroke="#14142a" stroke-width="0.55"/>
<circle cx="244.34" cy="338.18" r="1.25" fill="#785bc0" stroke="#14142a" stroke-width="0.55"/>
<circle cx="250.02" cy="337.90" r="1.25" fill="#785bbf" stroke="#14142a" stroke-width="0.55"/>
<circle cx="243.70" cy="337.43" r="1.25" fill="#775abf" stroke="#14142a" stroke-width="0.55"/>
<circle cx="253.95" cy="375.40" r="1.25" fill="#bcaee1" stroke="#14142a" stroke-width="0.55"/>
<circle cx="251.89" cy="374.91" r="1.25" fill="#bcade0" stroke="#14142a" stroke-width="0.55"/>
<circle cx="247.78" cy="374.70" r="1.25" fill="#bbade0" stroke="#14142a" stroke-width="0.55"/>
<circle cx="246.30" cy="374.06" r="1.25" fill="#baabe0" stroke="#14142a" stroke-width="0.55"/>
<circle cx="244.11" cy="373.60" r="1.25" fill="#b9aadf" stroke="#14142a" stroke-width="0.55"/>
<circle cx="244.24" cy="373.20" r="1.25" fill="#b8aadf" stroke="#14142a" stroke-width="0.55"/>
<circle cx="254.33" cy="372.37" r="1.25" fill="#b7a8de" stroke="#14142a" stroke-width="0.55"/>
<circle cx="245.51" cy="371.92" r="1.25" fill="#b6a7de" stroke="#14142a" stroke-width="0.55"/>
<circle cx="247.23" cy="371.56" r="1.25" fill="#b5a6dd" stroke="#14142a" stroke-width="0.55"/>
<circle cx="254.61" cy="370.85" r="1.25" fill="#b4a4dd" stroke="#14142a" stroke-width="0.55"/>
<circle cx="249.46" cy="370.41" r="1.25" fill="#b3a3dc" stroke="#14142a" stroke-width="0.55"/>
<circle cx="247.66" cy="369.95" r="1.25" fill="#b3a2dc" stroke="#14142a" stroke-width="0.55"/>
<circle cx="245.65" cy="369.61" r="1.25" fill="#b2a2dc" stroke="#14142a" stroke-width="0.55"/>
<circle cx="242.13" cy="369.07" r="1.25" fill="#b1a1db" stroke="#14142a" stroke-width="0.55"/>
<circle cx="244.84" cy="368.22" r="1.25" fill="#af9fda" stroke="#14142a" stroke-width="0.55"/>
<circle cx="251.00" cy="367.70" r="1.25" fill="#ae9eda" stroke="#14142a" stroke-width="0.55"/>
<circle cx="248.96" cy="367.34" r="1.25" fill="#ae9dda" stroke="#14142a" stroke-width="0.55"/>
<circle cx="251.06" cy="366.70" r="1.25" fill="#ad9bd9" stroke="#14142a" stroke-width="0.55"/>
<circle cx="242.38" cy="366.29" r="1.25" fill="#ac9ad9" stroke="#14142a" stroke-width="0.55"/>
<circle cx="247.77" cy="365.96" r="1.25" fill="#ab9ad8" stroke="#14142a" stroke-width="0.55"/>
<circle cx="253.67" cy="365.46" r="1.25" fill="#aa99d8" stroke="#14142a" stroke-width="0.55"/>
<circle cx="246.03" cy="364.87" r="1.25" fill="#a997d7" stroke="#14142a" stroke-width="0.55"/>
<circle cx="250.09" cy="364.11" r="1.25" fill="#a896d7" stroke="#14142a" stroke-width="0.55"/>
<circle cx="241.09" cy="363.64" r="1.25" fill="#a795d6" stroke="#14142a" stroke-width="0.55"/>
<circle cx="254.38" cy="363.10" r="1.25" fill="#a693d6" stroke="#14142a" stroke-width="0.55"/>
<circle cx="248.70" cy="362.57" r="1.25" fill="#a592d5" stroke="#14142a" stroke-width="0.55"/>
<circle cx="242.93" cy="362.34" r="1.25" fill="#a592d5" stroke="#14142a" stroke-width="0.55"/>
<circle cx="241.67" cy="361.81" r="1.25" fill="#a491d5" stroke="#14142a" stroke-width="0.55"/>
<circle cx="247.79" cy="361.36" r="1.25" fill="#a390d4" stroke="#14142a" stroke-width="0.55"/>
<circle cx="247.82" cy="360.57" r="1.25" fill="#a18ed4" stroke="#14142a" stroke-width="0.55"/>
<circle cx="240.65" cy="360.01" r="1.25" fill="#a08dd3" stroke="#14142a" stroke-width="0.55"/>
<circle cx="254.68" cy="359.70" r="1.25" fill="#a08cd3" stroke="#14142a" stroke-width="0.55"/>
<circle cx="253.44" cy="359.10" r="1.25" fill="#9f8bd2" stroke="#14142a" stroke-width="0.55"/>
<circle cx="246.40" cy="358.77" r="1.25" fill="#9e8ad2" stroke="#14142a" stroke-width="0.55"/>
<circle cx="241.03" cy="357.94" r="1.25" fill="#9d88d1" stroke="#14142a" stroke-width="0.55"/>
<circle cx="252.18" cy="357.46" r="1.25" fill="#9c87d1" stroke="#14142a" stroke-width="0.55"/>
<circle cx="246.97" cy="394.27" r="1.25" fill="#ded8f1" stroke="#14142a" stroke-width="0.55"/>
<circle cx="250.38" cy="392.83" r="1.25" fill="#dcd4ef" stroke="#14142a" stroke-width="0.55"/>
<circle cx="247.14" cy="391.07" r="1.25" fill="#d9d1ee" stroke="#14142a" stroke-width="0.55"/>
<circle cx="243.47" cy="390.55" r="1.25" fill="#d8d0ee" stroke="#14142a" stroke-width="0.55"/>
<circle cx="252.22" cy="387.95" r="1.25" fill="#d3caec" stroke="#14142a" stroke-width="0.55"/>
<circle cx="254.49" cy="386.83" r="1.25" fill="#d1c7eb" stroke="#14142a" stroke-width="0.55"/>
<circle cx="243.00" cy="384.37" r="1.25" fill="#cdc2e9" stroke="#14142a" stroke-width="0.55"/>
<circle cx="247.80" cy="382.88" r="1.25" fill="#cabfe8" stroke="#14142a" stroke-width="0.55"/>
<circle cx="245.18" cy="381.14" r="1.25" fill="#c7bbe6" stroke="#14142a" stroke-width="0.55"/>
<circle cx="253.58" cy="379.56" r="1.25" fill="#c4b8e5" stroke="#14142a" stroke-width="0.55"/>
<circle cx="247.13" cy="378.62" r="1.25" fill="#c2b6e4" stroke="#14142a" stroke-width="0.55"/>
<circle cx="252.92" cy="376.27" r="1.25" fill="#beb0e2" stroke="#14142a" stroke-width="0.55"/>
<circle cx="252.68" cy="405.68" r="1.25" fill="#f3f0fa" stroke="#14142a" stroke-width="0.55"/>
<circle cx="243.51" cy="404.58" r="1.25" fill="#f1eef9" stroke="#14142a" stroke-width="0.55"/>
<circle cx="251.52" cy="403.47" r="1.25" fill="#efebf8" stroke="#14142a" stroke-width="0.55"/>
<circle cx="245.67" cy="402.36" r="1.25" fill="#ede9f7" stroke="#14142a" stroke-width="0.55"/>
<circle cx="253.77" cy="401.26" r="1.25" fill="#ebe7f6" stroke="#14142a" stroke-width="0.55"/>
<circle cx="247.12" cy="400.15" r="1.25" fill="#e9e4f5" stroke="#14142a" stroke-width="0.55"/>
<circle cx="252.00" cy="399.05" r="1.25" fill="#e7e2f4" stroke="#14142a" stroke-width="0.55"/>
<circle cx="243.61" cy="397.94" r="1.25" fill="#e5e0f4" stroke="#14142a" stroke-width="0.55"/>
<circle cx="243.86" cy="397.94" r="1.25" fill="#e5e0f4" stroke="#14142a" stroke-width="0.55"/>
<circle cx="248.36" cy="396.83" r="1.25" fill="#e3ddf3" stroke="#14142a" stroke-width="0.55"/>
<circle cx="254.78" cy="396.83" r="1.25" fill="#e3ddf3" stroke="#14142a" stroke-width="0.55"/>
<circle cx="246.84" cy="404.58" r="1.25" fill="#f1eef9" stroke="#14142a" stroke-width="0.55"/>
<circle cx="241.52" cy="403.47" r="1.25" fill="#efebf8" stroke="#14142a" stroke-width="0.55"/>
<circle cx="247.60" cy="402.36" r="1.25" fill="#ede9f7" stroke="#14142a" stroke-width="0.55"/>
<circle cx="244.58" cy="400.15" r="1.25" fill="#e9e4f5" stroke="#14142a" stroke-width="0.55"/>
<circle cx="247.81" cy="399.05" r="1.25" fill="#e7e2f4" stroke="#14142a" stroke-width="0.55"/>
<circle cx="281.48" cy="311.67" r="1.25" fill="#4026ab" stroke="#14142a" stroke-width="0.55"/>
<circle cx="280.10" cy="312.78" r="1.25" fill="#4328ab" stroke="#14142a" stroke-width="0.55"/>
<circle cx="278.02" cy="312.78" r="1.25" fill="#4328ab" stroke="#14142a" stroke-width="0.55"/>
<circle cx="275.94" cy="313.88" r="1.25" fill="#462aac" stroke="#14142a" stroke-width="0.55"/>
<circle cx="283.88" cy="313.88" r="1.25" fill="#462aac" stroke="#14142a" stroke-width="0.55"/>
<circle cx="281.92" cy="314.99" r="1.25" fill="#482cad" stroke="#14142a" stroke-width="0.55"/>
<circle cx="276.64" cy="316.10" r="1.25" fill="#4b2eae" stroke="#14142a" stroke-width="0.55"/>
<circle cx="285.10" cy="316.10" r="1.25" fill="#4b2eae" stroke="#14142a" stroke-width="0.55"/>
<circle cx="273.68" cy="317.20" r="1.25" fill="#4d30af" stroke="#14142a" stroke-width="0.55"/>
<circle cx="284.62" cy="317.20" r="1.25" fill="#4d30af" stroke="#14142a" stroke-width="0.55"/>
<circle cx="284.00" cy="318.31" r="1.25" fill="#5032af" stroke="#14142a" stroke-width="0.55"/>
<circle cx="285.66" cy="319.41" r="1.25" fill="#5334b0" stroke="#14142a" stroke-width="0.55"/>
<circle cx="279.02" cy="319.41" r="1.25" fill="#5334b0" stroke="#14142a" stroke-width="0.55"/>
<circle cx="283.35" cy="320.52" r="1.25" fill="#5536b1" stroke="#14142a" stroke-width="0.55"/>
<circle cx="285.80" cy="320.52" r="1.25" fill="#5536b1" stroke="#14142a" stroke-width="0.55"/>
<circle cx="288.30" cy="321.63" r="1.25" fill="#5838b2" stroke="#14142a" stroke-width="0.55"/>
<circle cx="280.73" cy="321.63" r="1.25" fill="#5838b2" stroke="#14142a" stroke-width="0.55"/>
<circle cx="273.58" cy="322.73" r="1.25" fill="#5a3ab2" stroke="#14142a" stroke-width="0.55"/>
<circle cx="280.84" cy="323.84" r="1.25" fill="#5d3cb3" stroke="#14142a" stroke-width="0.55"/>
<circle cx="282.21" cy="324.94" r="1.25" fill="#5f3eb4" stroke="#14142a" stroke-width="0.55"/>
<circle cx="286.57" cy="326.05" r="1.25" fill="#6240b5" stroke="#14142a" stroke-width="0.55"/>
<circle cx="286.64" cy="327.16" r="1.25" fill="#6442b6" stroke="#14142a" stroke-width="0.55"/>
<circle cx="279.87" cy="329.37" r="1.25" fill="#6848b8" stroke="#14142a" stroke-width="0.55"/>
<circle cx="281.20" cy="331.58" r="1.25" fill="#6c4dba" stroke="#14142a" stroke-width="0.55"/>
<circle cx="280.13" cy="333.79" r="1.25" fill="#7052bc" stroke="#14142a" stroke-width="0.55"/>
<circle cx="284.27" cy="336.00" r="1.25" fill="#7457be" stroke="#14142a" stroke-width="0.55"/>
<circle cx="279.40" cy="338.22" r="1.25" fill="#785cc0" stroke="#14142a" stroke-width="0.55"/>
<circle cx="283.21" cy="340.43" r="1.25" fill="#7c61c2" stroke="#14142a" stroke-width="0.55"/>
<circle cx="275.41" cy="344.85" r="1.25" fill="#856bc6" stroke="#14142a" stroke-width="0.55"/>
<circle cx="280.32" cy="348.17" r="1.25" fill="#8b72c9" stroke="#14142a" stroke-width="0.55"/>
<text x="3.20" y="452.70" font-size="17.5" text-anchor="start" fill="#111">e</text>
<text x="82.30" y="456.40" font-size="10.6" text-anchor="start" fill="#111" textLength="58.6" lengthAdjust="spacing">Pus7 (Ψ13)</text>
<text x="207.80" y="456.40" font-size="10.6" text-anchor="start" fill="#111" textLength="59.3" lengthAdjust="spacing">Pus4 (Ψ55)</text>
<text x="0" y="0" font-size="100" font-weight="bold" fill="#6ab54e" transform="translate(56.06 486.17) scale(0.3400 0.3314)">U</text>
<text x="0" y="0" font-size="100" font-weight="bold" fill="#4fb6cc" transform="translate(78.12 474.64) scale(0.2948 0.1606)">G</text>
<text x="0" y="0" font-size="100" font-weight="bold" fill="#dc5c66" transform="translate(78.77 480.60) scale(0.2910 0.0797)">A</text>
<text x="0" y="0" font-size="100" font-weight="bold" fill="#c4d154" transform="translate(78.31 486.42) scale(0.2977 0.0789)">C</text>
<text x="0" y="0" font-size="100" font-weight="bold" fill="#6ab54e" transform="translate(97.56 486.17) scale(0.3400 0.3314)">U</text>
<text x="0" y="0" font-size="100" font-weight="bold" fill="#dc5c66" transform="translate(119.74 486.50) scale(0.3030 0.3362)">A</text>
<text x="0" y="0" font-size="100" font-weight="bold" fill="#4fb6cc" transform="translate(139.80 480.06) scale(0.2993 0.2394)">G</text>
<text x="0" y="0" font-size="100" font-weight="bold" fill="#dc5c66" transform="translate(141.52 486.50) scale(0.2716 0.0841)">A</text>
<text x="0" y="0" font-size="100" font-weight="bold" fill="#4fb6cc" transform="translate(182.70 479.67) scale(0.2993 0.2324)">G</text>
<text x="0" y="0" font-size="100" font-weight="bold" fill="#dc5c66" transform="translate(183.46 484.70) scale(0.2955 0.0551)">A</text>
<text x="0" y="0" font-size="100" font-weight="bold" fill="#d2da8a" transform="translate(182.99 486.47) scale(0.3023 0.0254)">C</text>
<text x="0" y="0" font-size="100" font-weight="bold" fill="#6ab54e" transform="translate(202.48 476.61) scale(0.3367 0.1914)">U</text>
<text x="0" y="0" font-size="100" font-weight="bold" fill="#dc5c66" transform="translate(203.96 482.50) scale(0.2955 0.0783)">A</text>
<text x="0" y="0" font-size="100" font-weight="bold" fill="#dde5a0" transform="translate(203.49 484.38) scale(0.3023 0.0239)">C</text>
<text x="0" y="0" font-size="100" font-weight="bold" fill="#7fcadb" transform="translate(203.53 486.47) scale(0.2933 0.0268)">G</text>
<text x="0" y="0" font-size="100" font-weight="bold" fill="#6ab54e" transform="translate(222.93 486.27) scale(0.3450 0.3329)">U</text>
<text x="0" y="0" font-size="100" font-weight="bold" fill="#c4d154" transform="translate(244.77 484.10) scale(0.3069 0.2972)">C</text>
<text x="0" y="0" font-size="100" font-weight="bold" fill="#6ab54e" transform="translate(244.57 486.18) scale(0.3217 0.0200)">U</text>
<text x="0" y="0" font-size="100" font-weight="bold" fill="#4fb6cc" transform="translate(265.61 476.22) scale(0.2978 0.1845)">G</text>
<text x="0" y="0" font-size="100" font-weight="bold" fill="#dc5c66" transform="translate(266.26 483.00) scale(0.2940 0.0884)">A</text>
<text x="0" y="0" font-size="100" font-weight="bold" fill="#e0e6a8" transform="translate(265.80 484.58) scale(0.3008 0.0225)">C</text>
<text x="0" y="0" font-size="100" font-weight="bold" fill="#6ab54e" transform="translate(265.03 486.18) scale(0.3283 0.0200)">U</text>
<text x="5.00" y="521.90" font-size="17.0" text-anchor="start" fill="#111">h</text>
<text x="61.00" y="521.80" font-size="11.3" text-anchor="start" fill="#111">Glu isodecoders</text>
<line x1="58.60" y1="525.00" x2="58.60" y2="589.80" stroke="#444" stroke-width="1.2"/>
<line x1="58.00" y1="589.40" x2="300.00" y2="589.40" stroke="#444" stroke-width="1.4"/>
<text x="54.00" y="531.00" font-size="8.6" text-anchor="end" fill="#111">1.00</text>
<text x="54.00" y="545.73" font-size="8.6" text-anchor="end" fill="#111">0.75</text>
<text x="54.00" y="560.45" font-size="8.6" text-anchor="end" fill="#111">0.50</text>
<text x="54.00" y="575.17" font-size="8.6" text-anchor="end" fill="#111">0.25</text>
<text x="54.00" y="589.90" font-size="8.6" text-anchor="end" fill="#111">0.00</text>
<text x="66.80" y="600.60" font-size="8.4" text-anchor="middle" fill="#111">0</text>
<text x="81.58" y="600.60" font-size="8.4" text-anchor="middle" fill="#111">5</text>
<text x="96.35" y="600.60" font-size="8.4" text-anchor="middle" fill="#111">10</text>
<text x="111.12" y="600.60" font-size="8.4" text-anchor="middle" fill="#111">15</text>
<text x="125.90" y="600.60" font-size="8.4" text-anchor="middle" fill="#111">20</text>
<text x="140.68" y="600.60" font-size="8.4" text-anchor="middle" fill="#111">25</text>
<text x="155.45" y="600.60" font-size="8.4" text-anchor="middle" fill="#111">30</text>
<text x="170.22" y="600.60" font-size="8.4" text-anchor="middle" fill="#111">35</text>
<text x="185.00" y="600.60" font-size="8.4" text-anchor="middle" fill="#111">40</text>
<text x="199.77" y="600.60" font-size="8.4" text-anchor="middle" fill="#111">45</text>
<text x="214.55" y="600.60" font-size="8.4" text-anchor="middle" fill="#111">50</text>
<text x="229.32" y="600.60" font-size="8.4" text-anchor="middle" fill="#111">55</text>
<text x="244.10" y="600.60" font-size="8.4" text-anchor="middle" fill="#111">60</text>
<text x="258.88" y="600.60" font-size="8.4" text-anchor="middle" fill="#111">65</text>
<text x="273.65" y="600.60" font-size="8.4" text-anchor="middle" fill="#111">70</text>
<text x="288.43" y="600.60" font-size="8.4" text-anchor="middle" fill="#111">75</text>
<text x="181.00" y="610.00" font-size="8.6" text-anchor="middle" fill="#111">tRNA position</text>
<text x="31.80" y="557.00" font-size="9.4" text-anchor="middle" fill="#111" transform="rotate(-90 31.80 557.00)">accuracy</text>
<rect x="70.06" y="585.80" width="0.80" height="0.80" fill="#9fd08a"/>
<rect x="70.03" y="585.80" width="0.80" height="0.80" fill="#9fd08a"/>
<rect x="69.59" y="585.80" width="0.80" height="0.80" fill="#9fd08a"/>
<rect x="68.74" y="584.88" width="0.80" height="0.80" fill="#9fd08a"/>
<rect x="72.43" y="534.06" width="0.80" height="0.80" fill="#9fd08a"/>
<rect x="71.86" y="532.04" width="0.80" height="0.80" fill="#9fd08a"/>
<rect x="71.77" y="530.54" width="0.80" height="0.80" fill="#9fd08a"/>
<rect x="71.73" y="543.87" width="0.80" height="0.80" fill="#9fd08a"/>
<rect x="75.86" y="532.16" width="0.80" height="0.80" fill="#9fd08a"/>
<rect x="74.81" y="530.93" width="0.80" height="0.80" fill="#9fd08a"/>
<rect x="76.00" y="543.19" width="0.80" height="0.80" fill="#9fd08a"/>
<rect x="75.55" y="528.43" width="0.80" height="0.80" fill="#9fd08a"/>
<rect x="78.97" y="531.08" width="0.80" height="0.80" fill="#9fd08a"/>
<rect x="77.90" y="542.39" width="0.80" height="0.80" fill="#9fd08a"/>
<rect x="77.52" y="531.51" width="0.80" height="0.80" fill="#9fd08a"/>
<rect x="78.38" y="531.34" width="0.80" height="0.80" fill="#9fd08a"/>
<rect x="80.87" y="540.83" width="0.80" height="0.80" fill="#9fd08a"/>
<rect x="81.14" y="527.50" width="0.80" height="0.80" fill="#9fd08a"/>
<rect x="80.47" y="531.20" width="0.80" height="0.80" fill="#9fd08a"/>
<rect x="80.41" y="534.40" width="0.80" height="0.80" fill="#9fd08a"/>
<rect x="84.59" y="548.42" width="0.80" height="0.80" fill="#9fd08a"/>
<rect x="84.26" y="561.41" width="0.80" height="0.80" fill="#9fd08a"/>
<rect x="84.86" y="549.99" width="0.80" height="0.80" fill="#9fd08a"/>
<rect x="84.54" y="547.71" width="0.80" height="0.80" fill="#9fd08a"/>
<rect x="86.85" y="548.07" width="0.80" height="0.80" fill="#9fd08a"/>
<rect x="87.53" y="538.62" width="0.80" height="0.80" fill="#9fd08a"/>
<rect x="87.66" y="539.41" width="0.80" height="0.80" fill="#9fd08a"/>
<rect x="87.80" y="541.07" width="0.80" height="0.80" fill="#9fd08a"/>
<rect x="90.71" y="534.55" width="0.80" height="0.80" fill="#9fd08a"/>
<rect x="90.72" y="533.75" width="0.80" height="0.80" fill="#9fd08a"/>
<rect x="89.52" y="536.40" width="0.80" height="0.80" fill="#9fd08a"/>
<rect x="89.48" y="533.05" width="0.80" height="0.80" fill="#9fd08a"/>
<rect x="92.27" y="538.64" width="0.80" height="0.80" fill="#9fd08a"/>
<rect x="93.05" y="549.02" width="0.80" height="0.80" fill="#9fd08a"/>
<rect x="93.52" y="531.69" width="0.80" height="0.80" fill="#9fd08a"/>
<rect x="92.87" y="530.82" width="0.80" height="0.80" fill="#9fd08a"/>
<rect x="95.94" y="548.44" width="0.80" height="0.80" fill="#9fd08a"/>
<rect x="95.36" y="534.62" width="0.80" height="0.80" fill="#9fd08a"/>
<rect x="96.41" y="531.94" width="0.80" height="0.80" fill="#9fd08a"/>
<rect x="95.85" y="550.67" width="0.80" height="0.80" fill="#9fd08a"/>
<rect x="98.83" y="538.86" width="0.80" height="0.80" fill="#9fd08a"/>
<rect x="99.47" y="538.71" width="0.80" height="0.80" fill="#9fd08a"/>
<rect x="99.27" y="537.54" width="0.80" height="0.80" fill="#9fd08a"/>
<rect x="98.57" y="530.60" width="0.80" height="0.80" fill="#9fd08a"/>
<rect x="102.64" y="536.83" width="0.80" height="0.80" fill="#9fd08a"/>
<rect x="102.06" y="533.03" width="0.80" height="0.80" fill="#9fd08a"/>
<rect x="101.50" y="541.55" width="0.80" height="0.80" fill="#9fd08a"/>
<rect x="102.45" y="531.46" width="0.80" height="0.80" fill="#9fd08a"/>
<rect x="105.13" y="542.95" width="0.80" height="0.80" fill="#9fd08a"/>
<rect x="105.23" y="545.08" width="0.80" height="0.80" fill="#9fd08a"/>
<rect x="104.79" y="544.42" width="0.80" height="0.80" fill="#9fd08a"/>
<rect x="105.12" y="543.36" width="0.80" height="0.80" fill="#9fd08a"/>
<rect x="107.90" y="564.42" width="0.80" height="0.80" fill="#9fd08a"/>
<rect x="107.85" y="580.02" width="0.80" height="0.80" fill="#9fd08a"/>
<rect x="108.28" y="560.37" width="0.80" height="0.80" fill="#9fd08a"/>
<rect x="108.25" y="570.77" width="0.80" height="0.80" fill="#9fd08a"/>
<rect x="111.25" y="537.34" width="0.80" height="0.80" fill="#9fd08a"/>
<rect x="111.27" y="541.76" width="0.80" height="0.80" fill="#9fd08a"/>
<rect x="111.46" y="537.86" width="0.80" height="0.80" fill="#9fd08a"/>
<rect x="110.77" y="540.52" width="0.80" height="0.80" fill="#9fd08a"/>
<rect x="113.64" y="532.71" width="0.80" height="0.80" fill="#9fd08a"/>
<rect x="114.03" y="539.08" width="0.80" height="0.80" fill="#9fd08a"/>
<rect x="113.81" y="527.50" width="0.80" height="0.80" fill="#9fd08a"/>
<rect x="113.55" y="531.35" width="0.80" height="0.80" fill="#9fd08a"/>
<rect x="116.99" y="539.10" width="0.80" height="0.80" fill="#9fd08a"/>
<rect x="116.09" y="541.80" width="0.80" height="0.80" fill="#9fd08a"/>
<rect x="116.93" y="541.96" width="0.80" height="0.80" fill="#9fd08a"/>
<rect x="115.90" y="533.78" width="0.80" height="0.80" fill="#9fd08a"/>
<rect x="119.00" y="541.92" width="0.80" height="0.80" fill="#9fd08a"/>
<rect x="119.08" y="536.31" width="0.80" height="0.80" fill="#9fd08a"/>
<rect x="119.40" y="535.37" width="0.80" height="0.80" fill="#9fd08a"/>
<rect x="119.73" y="535.89" width="0.80" height="0.80" fill="#9fd08a"/>
<rect x="122.39" y="540.41" width="0.80" height="0.80" fill="#9fd08a"/>
<rect x="122.40" y="554.19" width="0.80" height="0.80" fill="#9fd08a"/>
<rect x="121.80" y="548.14" width="0.80" height="0.80" fill="#9fd08a"/>
<rect x="121.90" y="545.76" width="0.80" height="0.80" fill="#9fd08a"/>
<rect x="126.23" y="543.08" width="0.80" height="0.80" fill="#9fd08a"/>
<rect x="125.37" y="537.28" width="0.80" height="0.80" fill="#9fd08a"/>
<rect x="124.93" y="541.63" width="0.80" height="0.80" fill="#9fd08a"/>
<rect x="125.60" y="546.41" width="0.80" height="0.80" fill="#9fd08a"/>
<rect x="128.22" y="553.16" width="0.80" height="0.80" fill="#9fd08a"/>
<rect x="127.66" y="537.94" width="0.80" height="0.80" fill="#9fd08a"/>
<rect x="127.88" y="541.58" width="0.80" height="0.80" fill="#9fd08a"/>
<rect x="129.08" y="540.03" width="0.80" height="0.80" fill="#9fd08a"/>
<rect x="131.08" y="549.08" width="0.80" height="0.80" fill="#9fd08a"/>
<rect x="131.22" y="545.54" width="0.80" height="0.80" fill="#9fd08a"/>
<rect x="131.03" y="557.91" width="0.80" height="0.80" fill="#9fd08a"/>
<rect x="131.40" y="543.89" width="0.80" height="0.80" fill="#9fd08a"/>
<rect x="134.35" y="532.14" width="0.80" height="0.80" fill="#9fd08a"/>
<rect x="134.33" y="533.03" width="0.80" height="0.80" fill="#9fd08a"/>
<rect x="134.03" y="536.55" width="0.80" height="0.80" fill="#9fd08a"/>
<rect x="134.89" y="534.68" width="0.80" height="0.80" fill="#9fd08a"/>
<rect x="138.02" y="537.87" width="0.80" height="0.80" fill="#9fd08a"/>
<rect x="136.91" y="527.50" width="0.80" height="0.80" fill="#9fd08a"/>
<rect x="136.99" y="527.50" width="0.80" height="0.80" fill="#9fd08a"/>
<rect x="137.28" y="531.36" width="0.80" height="0.80" fill="#9fd08a"/>
<rect x="139.66" y="534.44" width="0.80" height="0.80" fill="#9fd08a"/>
<rect x="139.96" y="536.18" width="0.80" height="0.80" fill="#9fd08a"/>
<rect x="140.32" y="536.91" width="0.80" height="0.80" fill="#9fd08a"/>
<rect x="140.05" y="530.85" width="0.80" height="0.80" fill="#9fd08a"/>
<rect x="142.83" y="538.14" width="0.80" height="0.80" fill="#9fd08a"/>
<rect x="143.90" y="546.00" width="0.80" height="0.80" fill="#9fd08a"/>
<rect x="143.68" y="545.18" width="0.80" height="0.80" fill="#9fd08a"/>
<rect x="143.35" y="542.16" width="0.80" height="0.80" fill="#9fd08a"/>
<rect x="146.84" y="531.53" width="0.80" height="0.80" fill="#9fd08a"/>
<rect x="146.01" y="539.55" width="0.80" height="0.80" fill="#9fd08a"/>
<rect x="146.71" y="532.61" width="0.80" height="0.80" fill="#9fd08a"/>
<rect x="146.72" y="534.71" width="0.80" height="0.80" fill="#9fd08a"/>
<rect x="149.59" y="531.25" width="0.80" height="0.80" fill="#9fd08a"/>
<rect x="148.57" y="533.17" width="0.80" height="0.80" fill="#9fd08a"/>
<rect x="148.87" y="536.99" width="0.80" height="0.80" fill="#9fd08a"/>
<rect x="149.28" y="530.41" width="0.80" height="0.80" fill="#9fd08a"/>
<rect x="152.61" y="529.84" width="0.80" height="0.80" fill="#9fd08a"/>
<rect x="152.36" y="528.78" width="0.80" height="0.80" fill="#9fd08a"/>
<rect x="152.89" y="537.25" width="0.80" height="0.80" fill="#9fd08a"/>
<rect x="151.37" y="528.50" width="0.80" height="0.80" fill="#9fd08a"/>
<rect x="155.77" y="529.74" width="0.80" height="0.80" fill="#9fd08a"/>
<rect x="154.47" y="530.97" width="0.80" height="0.80" fill="#9fd08a"/>
<rect x="155.23" y="533.61" width="0.80" height="0.80" fill="#9fd08a"/>
<rect x="154.51" y="544.25" width="0.80" height="0.80" fill="#9fd08a"/>
<rect x="157.81" y="530.95" width="0.80" height="0.80" fill="#9fd08a"/>
<rect x="157.30" y="531.07" width="0.80" height="0.80" fill="#9fd08a"/>
<rect x="157.42" y="536.85" width="0.80" height="0.80" fill="#9fd08a"/>
<rect x="157.71" y="533.50" width="0.80" height="0.80" fill="#9fd08a"/>
<rect x="160.76" y="535.47" width="0.80" height="0.80" fill="#9fd08a"/>
<rect x="161.28" y="537.66" width="0.80" height="0.80" fill="#9fd08a"/>
<rect x="161.62" y="536.62" width="0.80" height="0.80" fill="#9fd08a"/>
<rect x="161.15" y="538.86" width="0.80" height="0.80" fill="#9fd08a"/>
<rect x="164.32" y="536.44" width="0.80" height="0.80" fill="#9fd08a"/>
<rect x="163.33" y="543.98" width="0.80" height="0.80" fill="#9fd08a"/>
<rect x="163.40" y="534.11" width="0.80" height="0.80" fill="#9fd08a"/>
<rect x="164.16" y="540.77" width="0.80" height="0.80" fill="#9fd08a"/>
<rect x="166.27" y="546.66" width="0.80" height="0.80" fill="#9fd08a"/>
<rect x="166.45" y="540.38" width="0.80" height="0.80" fill="#9fd08a"/>
<rect x="167.34" y="542.11" width="0.80" height="0.80" fill="#9fd08a"/>
<rect x="167.23" y="543.33" width="0.80" height="0.80" fill="#9fd08a"/>
<rect x="170.11" y="537.64" width="0.80" height="0.80" fill="#9fd08a"/>
<rect x="169.21" y="538.39" width="0.80" height="0.80" fill="#9fd08a"/>
<rect x="169.25" y="545.21" width="0.80" height="0.80" fill="#9fd08a"/>
<rect x="169.59" y="536.99" width="0.80" height="0.80" fill="#9fd08a"/>
<rect x="172.54" y="536.36" width="0.80" height="0.80" fill="#9fd08a"/>
<rect x="172.20" y="543.57" width="0.80" height="0.80" fill="#9fd08a"/>
<rect x="172.67" y="540.17" width="0.80" height="0.80" fill="#9fd08a"/>
<rect x="172.81" y="544.16" width="0.80" height="0.80" fill="#9fd08a"/>
<rect x="175.57" y="542.80" width="0.80" height="0.80" fill="#9fd08a"/>
<rect x="174.99" y="542.98" width="0.80" height="0.80" fill="#9fd08a"/>
<rect x="175.70" y="534.48" width="0.80" height="0.80" fill="#9fd08a"/>
<rect x="174.94" y="536.50" width="0.80" height="0.80" fill="#9fd08a"/>
<rect x="178.58" y="548.99" width="0.80" height="0.80" fill="#9fd08a"/>
<rect x="178.05" y="537.04" width="0.80" height="0.80" fill="#9fd08a"/>
<rect x="178.51" y="537.01" width="0.80" height="0.80" fill="#9fd08a"/>
<rect x="178.13" y="535.82" width="0.80" height="0.80" fill="#9fd08a"/>
<rect x="181.30" y="532.73" width="0.80" height="0.80" fill="#9fd08a"/>
<rect x="181.62" y="538.34" width="0.80" height="0.80" fill="#9fd08a"/>
<rect x="182.35" y="548.49" width="0.80" height="0.80" fill="#9fd08a"/>
<rect x="181.92" y="533.57" width="0.80" height="0.80" fill="#9fd08a"/>
<rect x="184.87" y="547.27" width="0.80" height="0.80" fill="#9fd08a"/>
<rect x="184.88" y="531.70" width="0.80" height="0.80" fill="#9fd08a"/>
<rect x="183.84" y="529.48" width="0.80" height="0.80" fill="#9fd08a"/>
<rect x="183.93" y="533.24" width="0.80" height="0.80" fill="#9fd08a"/>
<rect x="187.25" y="544.74" width="0.80" height="0.80" fill="#9fd08a"/>
<rect x="187.21" y="539.55" width="0.80" height="0.80" fill="#9fd08a"/>
<rect x="187.14" y="530.40" width="0.80" height="0.80" fill="#9fd08a"/>
<rect x="188.26" y="538.68" width="0.80" height="0.80" fill="#9fd08a"/>
<rect x="189.72" y="531.34" width="0.80" height="0.80" fill="#9fd08a"/>
<rect x="190.96" y="537.10" width="0.80" height="0.80" fill="#9fd08a"/>
<rect x="191.29" y="530.38" width="0.80" height="0.80" fill="#9fd08a"/>
<rect x="190.27" y="529.81" width="0.80" height="0.80" fill="#9fd08a"/>
<rect x="193.45" y="529.23" width="0.80" height="0.80" fill="#9fd08a"/>
<rect x="192.75" y="528.25" width="0.80" height="0.80" fill="#9fd08a"/>
<rect x="192.76" y="529.25" width="0.80" height="0.80" fill="#9fd08a"/>
<rect x="193.32" y="532.24" width="0.80" height="0.80" fill="#9fd08a"/>
<rect x="197.17" y="532.25" width="0.80" height="0.80" fill="#9fd08a"/>
<rect x="196.43" y="533.05" width="0.80" height="0.80" fill="#9fd08a"/>
<rect x="196.12" y="538.82" width="0.80" height="0.80" fill="#9fd08a"/>
<rect x="196.49" y="536.45" width="0.80" height="0.80" fill="#9fd08a"/>
<rect x="198.92" y="536.59" width="0.80" height="0.80" fill="#9fd08a"/>
<rect x="199.44" y="536.36" width="0.80" height="0.80" fill="#9fd08a"/>
<rect x="199.58" y="539.66" width="0.80" height="0.80" fill="#9fd08a"/>
<rect x="200.04" y="529.03" width="0.80" height="0.80" fill="#9fd08a"/>
<rect x="201.89" y="531.24" width="0.80" height="0.80" fill="#9fd08a"/>
<rect x="202.03" y="539.36" width="0.80" height="0.80" fill="#9fd08a"/>
<rect x="202.03" y="539.45" width="0.80" height="0.80" fill="#9fd08a"/>
<rect x="201.66" y="538.38" width="0.80" height="0.80" fill="#9fd08a"/>
<rect x="205.41" y="530.27" width="0.80" height="0.80" fill="#9fd08a"/>
<rect x="204.58" y="534.20" width="0.80" height="0.80" fill="#9fd08a"/>
<rect x="204.94" y="531.96" width="0.80" height="0.80" fill="#9fd08a"/>
<rect x="204.64" y="532.69" width="0.80" height="0.80" fill="#9fd08a"/>
<rect x="208.33" y="534.43" width="0.80" height="0.80" fill="#9fd08a"/>
<rect x="208.49" y="531.13" width="0.80" height="0.80" fill="#9fd08a"/>
<rect x="208.75" y="530.71" width="0.80" height="0.80" fill="#9fd08a"/>
<rect x="208.97" y="539.00" width="0.80" height="0.80" fill="#9fd08a"/>
<rect x="211.69" y="533.70" width="0.80" height="0.80" fill="#9fd08a"/>
<rect x="210.60" y="543.21" width="0.80" height="0.80" fill="#9fd08a"/>
<rect x="211.48" y="536.33" width="0.80" height="0.80" fill="#9fd08a"/>
<rect x="210.50" y="533.86" width="0.80" height="0.80" fill="#9fd08a"/>
<rect x="213.43" y="534.04" width="0.80" height="0.80" fill="#9fd08a"/>
<rect x="213.92" y="542.36" width="0.80" height="0.80" fill="#9fd08a"/>
<rect x="213.72" y="542.25" width="0.80" height="0.80" fill="#9fd08a"/>
<rect x="213.93" y="545.60" width="0.80" height="0.80" fill="#9fd08a"/>
<rect x="217.63" y="532.93" width="0.80" height="0.80" fill="#9fd08a"/>
<rect x="216.46" y="532.74" width="0.80" height="0.80" fill="#9fd08a"/>
<rect x="217.02" y="536.33" width="0.80" height="0.80" fill="#9fd08a"/>
<rect x="217.58" y="531.58" width="0.80" height="0.80" fill="#9fd08a"/>
<rect x="220.00" y="530.44" width="0.80" height="0.80" fill="#9fd08a"/>
<rect x="219.97" y="532.28" width="0.80" height="0.80" fill="#9fd08a"/>
<rect x="220.81" y="529.30" width="0.80" height="0.80" fill="#9fd08a"/>
<rect x="219.43" y="544.73" width="0.80" height="0.80" fill="#9fd08a"/>
<rect x="223.78" y="535.03" width="0.80" height="0.80" fill="#9fd08a"/>
<rect x="223.14" y="539.28" width="0.80" height="0.80" fill="#9fd08a"/>
<rect x="222.56" y="545.89" width="0.80" height="0.80" fill="#9fd08a"/>
<rect x="222.54" y="532.64" width="0.80" height="0.80" fill="#9fd08a"/>
<rect x="225.56" y="559.73" width="0.80" height="0.80" fill="#9fd08a"/>
<rect x="225.57" y="557.73" width="0.80" height="0.80" fill="#9fd08a"/>
<rect x="226.16" y="567.11" width="0.80" height="0.80" fill="#9fd08a"/>
<rect x="225.40" y="556.38" width="0.80" height="0.80" fill="#9fd08a"/>
<rect x="228.40" y="560.79" width="0.80" height="0.80" fill="#9fd08a"/>
<rect x="229.27" y="563.85" width="0.80" height="0.80" fill="#9fd08a"/>
<rect x="228.64" y="557.02" width="0.80" height="0.80" fill="#9fd08a"/>
<rect x="229.51" y="556.43" width="0.80" height="0.80" fill="#9fd08a"/>
<rect x="231.10" y="537.81" width="0.80" height="0.80" fill="#9fd08a"/>
<rect x="232.02" y="536.95" width="0.80" height="0.80" fill="#9fd08a"/>
<rect x="231.12" y="531.35" width="0.80" height="0.80" fill="#9fd08a"/>
<rect x="231.69" y="535.28" width="0.80" height="0.80" fill="#9fd08a"/>
<rect x="235.61" y="573.47" width="0.80" height="0.80" fill="#9fd08a"/>
<rect x="235.51" y="561.61" width="0.80" height="0.80" fill="#9fd08a"/>
<rect x="235.31" y="565.11" width="0.80" height="0.80" fill="#9fd08a"/>
<rect x="234.98" y="572.52" width="0.80" height="0.80" fill="#9fd08a"/>
<rect x="237.11" y="566.27" width="0.80" height="0.80" fill="#9fd08a"/>
<rect x="237.56" y="571.56" width="0.80" height="0.80" fill="#9fd08a"/>
<rect x="237.48" y="571.51" width="0.80" height="0.80" fill="#9fd08a"/>
<rect x="237.43" y="565.51" width="0.80" height="0.80" fill="#9fd08a"/>
<rect x="241.02" y="539.18" width="0.80" height="0.80" fill="#9fd08a"/>
<rect x="241.38" y="540.48" width="0.80" height="0.80" fill="#9fd08a"/>
<rect x="240.92" y="544.15" width="0.80" height="0.80" fill="#9fd08a"/>
<rect x="240.77" y="554.47" width="0.80" height="0.80" fill="#9fd08a"/>
<rect x="243.77" y="534.40" width="0.80" height="0.80" fill="#9fd08a"/>
<rect x="242.90" y="536.06" width="0.80" height="0.80" fill="#9fd08a"/>
<rect x="244.34" y="535.11" width="0.80" height="0.80" fill="#9fd08a"/>
<rect x="243.88" y="533.27" width="0.80" height="0.80" fill="#9fd08a"/>
<rect x="246.74" y="530.54" width="0.80" height="0.80" fill="#9fd08a"/>
<rect x="246.45" y="530.04" width="0.80" height="0.80" fill="#9fd08a"/>
<rect x="246.28" y="533.54" width="0.80" height="0.80" fill="#9fd08a"/>
<rect x="247.29" y="531.52" width="0.80" height="0.80" fill="#9fd08a"/>
<rect x="249.17" y="531.58" width="0.80" height="0.80" fill="#9fd08a"/>
<rect x="249.72" y="538.86" width="0.80" height="0.80" fill="#9fd08a"/>
<rect x="249.48" y="533.96" width="0.80" height="0.80" fill="#9fd08a"/>
<rect x="249.66" y="541.47" width="0.80" height="0.80" fill="#9fd08a"/>
<rect x="252.73" y="535.58" width="0.80" height="0.80" fill="#9fd08a"/>
<rect x="252.06" y="530.70" width="0.80" height="0.80" fill="#9fd08a"/>
<rect x="252.73" y="532.65" width="0.80" height="0.80" fill="#9fd08a"/>
<rect x="252.07" y="531.44" width="0.80" height="0.80" fill="#9fd08a"/>
<rect x="255.89" y="538.58" width="0.80" height="0.80" fill="#9fd08a"/>
<rect x="255.50" y="538.58" width="0.80" height="0.80" fill="#9fd08a"/>
<rect x="256.08" y="540.91" width="0.80" height="0.80" fill="#9fd08a"/>
<rect x="256.20" y="546.14" width="0.80" height="0.80" fill="#9fd08a"/>
<rect x="258.44" y="527.50" width="0.80" height="0.80" fill="#9fd08a"/>
<rect x="257.98" y="540.97" width="0.80" height="0.80" fill="#9fd08a"/>
<rect x="258.66" y="530.98" width="0.80" height="0.80" fill="#9fd08a"/>
<rect x="258.89" y="532.13" width="0.80" height="0.80" fill="#9fd08a"/>
<rect x="261.77" y="527.50" width="0.80" height="0.80" fill="#9fd08a"/>
<rect x="262.16" y="538.84" width="0.80" height="0.80" fill="#9fd08a"/>
<rect x="260.79" y="542.64" width="0.80" height="0.80" fill="#9fd08a"/>
<rect x="260.96" y="542.84" width="0.80" height="0.80" fill="#9fd08a"/>
<rect x="264.77" y="531.99" width="0.80" height="0.80" fill="#9fd08a"/>
<rect x="264.23" y="534.82" width="0.80" height="0.80" fill="#9fd08a"/>
<rect x="264.54" y="535.78" width="0.80" height="0.80" fill="#9fd08a"/>
<rect x="264.68" y="529.49" width="0.80" height="0.80" fill="#9fd08a"/>
<rect x="266.66" y="544.27" width="0.80" height="0.80" fill="#9fd08a"/>
<rect x="267.69" y="527.50" width="0.80" height="0.80" fill="#9fd08a"/>
<rect x="267.11" y="528.09" width="0.80" height="0.80" fill="#9fd08a"/>
<rect x="268.01" y="529.43" width="0.80" height="0.80" fill="#9fd08a"/>
<rect x="270.61" y="531.56" width="0.80" height="0.80" fill="#9fd08a"/>
<rect x="270.42" y="529.81" width="0.80" height="0.80" fill="#9fd08a"/>
<rect x="270.33" y="527.50" width="0.80" height="0.80" fill="#9fd08a"/>
<rect x="270.17" y="535.60" width="0.80" height="0.80" fill="#9fd08a"/>
<rect x="272.88" y="529.76" width="0.80" height="0.80" fill="#9fd08a"/>
<rect x="273.21" y="540.00" width="0.80" height="0.80" fill="#9fd08a"/>
<rect x="273.94" y="536.87" width="0.80" height="0.80" fill="#9fd08a"/>
<rect x="273.02" y="529.73" width="0.80" height="0.80" fill="#9fd08a"/>
<rect x="275.98" y="527.50" width="0.80" height="0.80" fill="#9fd08a"/>
<rect x="275.81" y="529.89" width="0.80" height="0.80" fill="#9fd08a"/>
<rect x="275.49" y="534.03" width="0.80" height="0.80" fill="#9fd08a"/>
<rect x="276.96" y="530.16" width="0.80" height="0.80" fill="#9fd08a"/>
<rect x="278.81" y="536.87" width="0.80" height="0.80" fill="#9fd08a"/>
<rect x="279.46" y="527.82" width="0.80" height="0.80" fill="#9fd08a"/>
<rect x="279.61" y="529.92" width="0.80" height="0.80" fill="#9fd08a"/>
<rect x="279.31" y="527.50" width="0.80" height="0.80" fill="#9fd08a"/>
<rect x="281.37" y="535.79" width="0.80" height="0.80" fill="#9fd08a"/>
<rect x="282.55" y="536.00" width="0.80" height="0.80" fill="#9fd08a"/>
<rect x="282.78" y="539.18" width="0.80" height="0.80" fill="#9fd08a"/>
<rect x="282.91" y="536.07" width="0.80" height="0.80" fill="#9fd08a"/>
<rect x="285.52" y="544.34" width="0.80" height="0.80" fill="#9fd08a"/>
<rect x="285.83" y="558.41" width="0.80" height="0.80" fill="#9fd08a"/>
<rect x="284.70" y="547.73" width="0.80" height="0.80" fill="#9fd08a"/>
<rect x="284.73" y="542.41" width="0.80" height="0.80" fill="#9fd08a"/>
<rect x="287.96" y="553.73" width="0.80" height="0.80" fill="#9fd08a"/>
<rect x="287.83" y="555.59" width="0.80" height="0.80" fill="#9fd08a"/>
<rect x="287.25" y="564.26" width="0.80" height="0.80" fill="#9fd08a"/>
<rect x="288.76" y="558.18" width="0.80" height="0.80" fill="#9fd08a"/>
<rect x="291.65" y="564.71" width="0.80" height="0.80" fill="#9fd08a"/>
<rect x="290.23" y="560.50" width="0.80" height="0.80" fill="#9fd08a"/>
<rect x="291.39" y="564.43" width="0.80" height="0.80" fill="#9fd08a"/>
<rect x="291.42" y="568.10" width="0.80" height="0.80" fill="#9fd08a"/>
<rect x="69.68" y="577.80" width="0.80" height="0.80" fill="#f2b27a"/>
<rect x="68.73" y="584.11" width="0.80" height="0.80" fill="#f2b27a"/>
<rect x="69.32" y="579.89" width="0.80" height="0.80" fill="#f2b27a"/>
<rect x="70.10" y="580.11" width="0.80" height="0.80" fill="#f2b27a"/>
<rect x="72.38" y="530.33" width="0.80" height="0.80" fill="#f2b27a"/>
<rect x="71.72" y="537.40" width="0.80" height="0.80" fill="#f2b27a"/>
<rect x="72.74" y="542.73" width="0.80" height="0.80" fill="#f2b27a"/>
<rect x="72.32" y="530.45" width="0.80" height="0.80" fill="#f2b27a"/>
<rect x="75.27" y="546.32" width="0.80" height="0.80" fill="#f2b27a"/>
<rect x="75.08" y="544.67" width="0.80" height="0.80" fill="#f2b27a"/>
<rect x="75.19" y="535.75" width="0.80" height="0.80" fill="#f2b27a"/>
<rect x="75.94" y="534.49" width="0.80" height="0.80" fill="#f2b27a"/>
<rect x="78.92" y="535.23" width="0.80" height="0.80" fill="#f2b27a"/>
<rect x="79.00" y="534.51" width="0.80" height="0.80" fill="#f2b27a"/>
<rect x="77.54" y="529.28" width="0.80" height="0.80" fill="#f2b27a"/>
<rect x="78.60" y="534.41" width="0.80" height="0.80" fill="#f2b27a"/>
<rect x="80.85" y="542.25" width="0.80" height="0.80" fill="#f2b27a"/>
<rect x="81.70" y="537.94" width="0.80" height="0.80" fill="#f2b27a"/>
<rect x="81.28" y="541.41" width="0.80" height="0.80" fill="#f2b27a"/>
<rect x="81.10" y="543.57" width="0.80" height="0.80" fill="#f2b27a"/>
<rect x="83.56" y="559.83" width="0.80" height="0.80" fill="#f2b27a"/>
<rect x="83.75" y="555.08" width="0.80" height="0.80" fill="#f2b27a"/>
<rect x="83.75" y="557.08" width="0.80" height="0.80" fill="#f2b27a"/>
<rect x="84.33" y="567.62" width="0.80" height="0.80" fill="#f2b27a"/>
<rect x="86.71" y="551.42" width="0.80" height="0.80" fill="#f2b27a"/>
<rect x="86.99" y="547.19" width="0.80" height="0.80" fill="#f2b27a"/>
<rect x="86.37" y="547.54" width="0.80" height="0.80" fill="#f2b27a"/>
<rect x="87.18" y="543.80" width="0.80" height="0.80" fill="#f2b27a"/>
<rect x="90.03" y="531.74" width="0.80" height="0.80" fill="#f2b27a"/>
<rect x="89.30" y="529.40" width="0.80" height="0.80" fill="#f2b27a"/>
<rect x="90.22" y="533.18" width="0.80" height="0.80" fill="#f2b27a"/>
<rect x="89.59" y="532.48" width="0.80" height="0.80" fill="#f2b27a"/>
<rect x="93.29" y="537.69" width="0.80" height="0.80" fill="#f2b27a"/>
<rect x="92.30" y="535.22" width="0.80" height="0.80" fill="#f2b27a"/>
<rect x="93.35" y="540.96" width="0.80" height="0.80" fill="#f2b27a"/>
<rect x="93.22" y="536.88" width="0.80" height="0.80" fill="#f2b27a"/>
<rect x="95.56" y="536.61" width="0.80" height="0.80" fill="#f2b27a"/>
<rect x="95.15" y="539.80" width="0.80" height="0.80" fill="#f2b27a"/>
<rect x="95.89" y="534.26" width="0.80" height="0.80" fill="#f2b27a"/>
<rect x="95.50" y="546.38" width="0.80" height="0.80" fill="#f2b27a"/>
<rect x="98.25" y="532.75" width="0.80" height="0.80" fill="#f2b27a"/>
<rect x="98.23" y="548.81" width="0.80" height="0.80" fill="#f2b27a"/>
<rect x="98.38" y="538.55" width="0.80" height="0.80" fill="#f2b27a"/>
<rect x="98.89" y="536.30" width="0.80" height="0.80" fill="#f2b27a"/>
<rect x="102.52" y="539.66" width="0.80" height="0.80" fill="#f2b27a"/>
<rect x="101.49" y="546.10" width="0.80" height="0.80" fill="#f2b27a"/>
<rect x="101.95" y="544.35" width="0.80" height="0.80" fill="#f2b27a"/>
<rect x="101.73" y="536.44" width="0.80" height="0.80" fill="#f2b27a"/>
<rect x="104.19" y="549.62" width="0.80" height="0.80" fill="#f2b27a"/>
<rect x="104.59" y="560.77" width="0.80" height="0.80" fill="#f2b27a"/>
<rect x="105.04" y="549.54" width="0.80" height="0.80" fill="#f2b27a"/>
<rect x="104.20" y="547.24" width="0.80" height="0.80" fill="#f2b27a"/>
<rect x="107.98" y="561.11" width="0.80" height="0.80" fill="#f2b27a"/>
<rect x="107.90" y="563.60" width="0.80" height="0.80" fill="#f2b27a"/>
<rect x="107.99" y="578.23" width="0.80" height="0.80" fill="#f2b27a"/>
<rect x="107.39" y="563.60" width="0.80" height="0.80" fill="#f2b27a"/>
<rect x="110.03" y="540.31" width="0.80" height="0.80" fill="#f2b27a"/>
<rect x="110.58" y="535.42" width="0.80" height="0.80" fill="#f2b27a"/>
<rect x="110.21" y="535.54" width="0.80" height="0.80" fill="#f2b27a"/>
<rect x="111.19" y="532.67" width="0.80" height="0.80" fill="#f2b27a"/>
<rect x="113.55" y="538.84" width="0.80" height="0.80" fill="#f2b27a"/>
<rect x="112.92" y="536.57" width="0.80" height="0.80" fill="#f2b27a"/>
<rect x="113.70" y="537.42" width="0.80" height="0.80" fill="#f2b27a"/>
<rect x="114.39" y="530.30" width="0.80" height="0.80" fill="#f2b27a"/>
<rect x="116.02" y="534.94" width="0.80" height="0.80" fill="#f2b27a"/>
<rect x="115.97" y="533.32" width="0.80" height="0.80" fill="#f2b27a"/>
<rect x="116.27" y="542.49" width="0.80" height="0.80" fill="#f2b27a"/>
<rect x="117.39" y="533.27" width="0.80" height="0.80" fill="#f2b27a"/>
<rect x="120.26" y="541.43" width="0.80" height="0.80" fill="#f2b27a"/>
<rect x="119.80" y="539.65" width="0.80" height="0.80" fill="#f2b27a"/>
<rect x="119.64" y="541.25" width="0.80" height="0.80" fill="#f2b27a"/>
<rect x="118.88" y="541.80" width="0.80" height="0.80" fill="#f2b27a"/>
<rect x="123.21" y="546.72" width="0.80" height="0.80" fill="#f2b27a"/>
<rect x="122.55" y="541.41" width="0.80" height="0.80" fill="#f2b27a"/>
<rect x="122.50" y="542.38" width="0.80" height="0.80" fill="#f2b27a"/>
<rect x="122.71" y="549.60" width="0.80" height="0.80" fill="#f2b27a"/>
<rect x="125.87" y="541.06" width="0.80" height="0.80" fill="#f2b27a"/>
<rect x="126.30" y="544.24" width="0.80" height="0.80" fill="#f2b27a"/>
<rect x="125.41" y="543.56" width="0.80" height="0.80" fill="#f2b27a"/>
<rect x="126.07" y="541.43" width="0.80" height="0.80" fill="#f2b27a"/>
<rect x="128.58" y="557.59" width="0.80" height="0.80" fill="#f2b27a"/>
<rect x="128.23" y="560.85" width="0.80" height="0.80" fill="#f2b27a"/>
<rect x="128.88" y="562.87" width="0.80" height="0.80" fill="#f2b27a"/>
<rect x="128.60" y="554.34" width="0.80" height="0.80" fill="#f2b27a"/>
<rect x="132.08" y="554.13" width="0.80" height="0.80" fill="#f2b27a"/>
<rect x="131.14" y="557.99" width="0.80" height="0.80" fill="#f2b27a"/>
<rect x="131.27" y="553.51" width="0.80" height="0.80" fill="#f2b27a"/>
<rect x="130.82" y="550.84" width="0.80" height="0.80" fill="#f2b27a"/>
<rect x="133.57" y="536.51" width="0.80" height="0.80" fill="#f2b27a"/>
<rect x="134.06" y="538.89" width="0.80" height="0.80" fill="#f2b27a"/>
<rect x="134.91" y="537.51" width="0.80" height="0.80" fill="#f2b27a"/>
<rect x="134.11" y="538.49" width="0.80" height="0.80" fill="#f2b27a"/>
<rect x="137.50" y="528.70" width="0.80" height="0.80" fill="#f2b27a"/>
<rect x="136.77" y="536.22" width="0.80" height="0.80" fill="#f2b27a"/>
<rect x="137.75" y="527.68" width="0.80" height="0.80" fill="#f2b27a"/>
<rect x="136.59" y="527.50" width="0.80" height="0.80" fill="#f2b27a"/>
<rect x="139.80" y="542.96" width="0.80" height="0.80" fill="#f2b27a"/>
<rect x="140.84" y="532.43" width="0.80" height="0.80" fill="#f2b27a"/>
<rect x="140.09" y="533.10" width="0.80" height="0.80" fill="#f2b27a"/>
<rect x="139.84" y="546.28" width="0.80" height="0.80" fill="#f2b27a"/>
<rect x="143.36" y="543.84" width="0.80" height="0.80" fill="#f2b27a"/>
<rect x="143.24" y="544.34" width="0.80" height="0.80" fill="#f2b27a"/>
<rect x="143.03" y="549.26" width="0.80" height="0.80" fill="#f2b27a"/>
<rect x="143.64" y="546.54" width="0.80" height="0.80" fill="#f2b27a"/>
<rect x="145.80" y="545.64" width="0.80" height="0.80" fill="#f2b27a"/>
<rect x="145.62" y="535.10" width="0.80" height="0.80" fill="#f2b27a"/>
<rect x="145.56" y="532.72" width="0.80" height="0.80" fill="#f2b27a"/>
<rect x="146.09" y="533.39" width="0.80" height="0.80" fill="#f2b27a"/>
<rect x="148.38" y="533.71" width="0.80" height="0.80" fill="#f2b27a"/>
<rect x="149.57" y="537.77" width="0.80" height="0.80" fill="#f2b27a"/>
<rect x="149.49" y="540.73" width="0.80" height="0.80" fill="#f2b27a"/>
<rect x="149.33" y="539.44" width="0.80" height="0.80" fill="#f2b27a"/>
<rect x="151.62" y="544.33" width="0.80" height="0.80" fill="#f2b27a"/>
<rect x="151.84" y="535.02" width="0.80" height="0.80" fill="#f2b27a"/>
<rect x="151.65" y="538.80" width="0.80" height="0.80" fill="#f2b27a"/>
<rect x="151.98" y="537.60" width="0.80" height="0.80" fill="#f2b27a"/>
<rect x="154.52" y="534.72" width="0.80" height="0.80" fill="#f2b27a"/>
<rect x="155.68" y="539.94" width="0.80" height="0.80" fill="#f2b27a"/>
<rect x="154.97" y="532.84" width="0.80" height="0.80" fill="#f2b27a"/>
<rect x="154.29" y="535.76" width="0.80" height="0.80" fill="#f2b27a"/>
<rect x="158.58" y="543.13" width="0.80" height="0.80" fill="#f2b27a"/>
<rect x="158.43" y="534.29" width="0.80" height="0.80" fill="#f2b27a"/>
<rect x="157.87" y="541.85" width="0.80" height="0.80" fill="#f2b27a"/>
<rect x="158.26" y="543.11" width="0.80" height="0.80" fill="#f2b27a"/>
<rect x="160.47" y="544.22" width="0.80" height="0.80" fill="#f2b27a"/>
<rect x="160.56" y="543.94" width="0.80" height="0.80" fill="#f2b27a"/>
<rect x="161.01" y="541.90" width="0.80" height="0.80" fill="#f2b27a"/>
<rect x="160.75" y="545.30" width="0.80" height="0.80" fill="#f2b27a"/>
<rect x="163.35" y="549.53" width="0.80" height="0.80" fill="#f2b27a"/>
<rect x="163.13" y="547.11" width="0.80" height="0.80" fill="#f2b27a"/>
<rect x="163.12" y="546.90" width="0.80" height="0.80" fill="#f2b27a"/>
<rect x="164.65" y="546.51" width="0.80" height="0.80" fill="#f2b27a"/>
<rect x="166.20" y="551.65" width="0.80" height="0.80" fill="#f2b27a"/>
<rect x="166.08" y="557.69" width="0.80" height="0.80" fill="#f2b27a"/>
<rect x="166.83" y="558.64" width="0.80" height="0.80" fill="#f2b27a"/>
<rect x="166.79" y="552.52" width="0.80" height="0.80" fill="#f2b27a"/>
<rect x="169.30" y="564.94" width="0.80" height="0.80" fill="#f2b27a"/>
<rect x="169.73" y="561.48" width="0.80" height="0.80" fill="#f2b27a"/>
<rect x="170.33" y="559.44" width="0.80" height="0.80" fill="#f2b27a"/>
<rect x="169.88" y="562.98" width="0.80" height="0.80" fill="#f2b27a"/>
<rect x="172.13" y="551.92" width="0.80" height="0.80" fill="#f2b27a"/>
<rect x="172.63" y="560.17" width="0.80" height="0.80" fill="#f2b27a"/>
<rect x="172.48" y="555.35" width="0.80" height="0.80" fill="#f2b27a"/>
<rect x="172.18" y="562.89" width="0.80" height="0.80" fill="#f2b27a"/>
<rect x="176.40" y="543.38" width="0.80" height="0.80" fill="#f2b27a"/>
<rect x="175.00" y="540.65" width="0.80" height="0.80" fill="#f2b27a"/>
<rect x="175.18" y="549.68" width="0.80" height="0.80" fill="#f2b27a"/>
<rect x="175.65" y="542.65" width="0.80" height="0.80" fill="#f2b27a"/>
<rect x="178.35" y="553.51" width="0.80" height="0.80" fill="#f2b27a"/>
<rect x="178.37" y="548.89" width="0.80" height="0.80" fill="#f2b27a"/>
<rect x="178.44" y="549.68" width="0.80" height="0.80" fill="#f2b27a"/>
<rect x="178.03" y="542.64" width="0.80" height="0.80" fill="#f2b27a"/>
<rect x="181.58" y="537.66" width="0.80" height="0.80" fill="#f2b27a"/>
<rect x="182.22" y="541.87" width="0.80" height="0.80" fill="#f2b27a"/>
<rect x="182.24" y="541.32" width="0.80" height="0.80" fill="#f2b27a"/>
<rect x="181.21" y="547.90" width="0.80" height="0.80" fill="#f2b27a"/>
<rect x="184.60" y="530.23" width="0.80" height="0.80" fill="#f2b27a"/>
<rect x="184.61" y="536.92" width="0.80" height="0.80" fill="#f2b27a"/>
<rect x="184.85" y="536.22" width="0.80" height="0.80" fill="#f2b27a"/>
<rect x="184.45" y="537.99" width="0.80" height="0.80" fill="#f2b27a"/>
<rect x="188.16" y="536.05" width="0.80" height="0.80" fill="#f2b27a"/>
<rect x="187.34" y="534.87" width="0.80" height="0.80" fill="#f2b27a"/>
<rect x="187.47" y="541.75" width="0.80" height="0.80" fill="#f2b27a"/>
<rect x="186.82" y="537.19" width="0.80" height="0.80" fill="#f2b27a"/>
<rect x="189.82" y="538.97" width="0.80" height="0.80" fill="#f2b27a"/>
<rect x="190.71" y="540.98" width="0.80" height="0.80" fill="#f2b27a"/>
<rect x="190.44" y="535.56" width="0.80" height="0.80" fill="#f2b27a"/>
<rect x="190.24" y="543.40" width="0.80" height="0.80" fill="#f2b27a"/>
<rect x="194.01" y="531.33" width="0.80" height="0.80" fill="#f2b27a"/>
<rect x="194.02" y="537.76" width="0.80" height="0.80" fill="#f2b27a"/>
<rect x="193.66" y="534.46" width="0.80" height="0.80" fill="#f2b27a"/>
<rect x="194.08" y="539.36" width="0.80" height="0.80" fill="#f2b27a"/>
<rect x="197.12" y="539.21" width="0.80" height="0.80" fill="#f2b27a"/>
<rect x="196.99" y="542.32" width="0.80" height="0.80" fill="#f2b27a"/>
<rect x="196.78" y="535.01" width="0.80" height="0.80" fill="#f2b27a"/>
<rect x="196.06" y="532.44" width="0.80" height="0.80" fill="#f2b27a"/>
<rect x="199.22" y="535.51" width="0.80" height="0.80" fill="#f2b27a"/>
<rect x="199.57" y="541.97" width="0.80" height="0.80" fill="#f2b27a"/>
<rect x="199.03" y="543.78" width="0.80" height="0.80" fill="#f2b27a"/>
<rect x="199.88" y="540.09" width="0.80" height="0.80" fill="#f2b27a"/>
<rect x="202.46" y="538.15" width="0.80" height="0.80" fill="#f2b27a"/>
<rect x="202.97" y="539.83" width="0.80" height="0.80" fill="#f2b27a"/>
<rect x="202.51" y="536.99" width="0.80" height="0.80" fill="#f2b27a"/>
<rect x="203.02" y="543.03" width="0.80" height="0.80" fill="#f2b27a"/>
<rect x="205.33" y="538.86" width="0.80" height="0.80" fill="#f2b27a"/>
<rect x="204.84" y="533.88" width="0.80" height="0.80" fill="#f2b27a"/>
<rect x="205.21" y="543.87" width="0.80" height="0.80" fill="#f2b27a"/>
<rect x="204.68" y="532.35" width="0.80" height="0.80" fill="#f2b27a"/>
<rect x="207.84" y="542.60" width="0.80" height="0.80" fill="#f2b27a"/>
<rect x="207.62" y="556.34" width="0.80" height="0.80" fill="#f2b27a"/>
<rect x="208.78" y="544.39" width="0.80" height="0.80" fill="#f2b27a"/>
<rect x="207.85" y="532.96" width="0.80" height="0.80" fill="#f2b27a"/>
<rect x="210.68" y="533.62" width="0.80" height="0.80" fill="#f2b27a"/>
<rect x="211.18" y="532.89" width="0.80" height="0.80" fill="#f2b27a"/>
<rect x="211.76" y="533.48" width="0.80" height="0.80" fill="#f2b27a"/>
<rect x="211.57" y="528.02" width="0.80" height="0.80" fill="#f2b27a"/>
<rect x="214.27" y="541.52" width="0.80" height="0.80" fill="#f2b27a"/>
<rect x="213.41" y="538.85" width="0.80" height="0.80" fill="#f2b27a"/>
<rect x="213.48" y="535.04" width="0.80" height="0.80" fill="#f2b27a"/>
<rect x="213.94" y="542.29" width="0.80" height="0.80" fill="#f2b27a"/>
<rect x="217.50" y="564.68" width="0.80" height="0.80" fill="#f2b27a"/>
<rect x="216.82" y="559.72" width="0.80" height="0.80" fill="#f2b27a"/>
<rect x="217.67" y="562.36" width="0.80" height="0.80" fill="#f2b27a"/>
<rect x="216.78" y="560.59" width="0.80" height="0.80" fill="#f2b27a"/>
<rect x="219.62" y="537.03" width="0.80" height="0.80" fill="#f2b27a"/>
<rect x="219.74" y="539.95" width="0.80" height="0.80" fill="#f2b27a"/>
<rect x="220.19" y="536.76" width="0.80" height="0.80" fill="#f2b27a"/>
<rect x="220.43" y="542.94" width="0.80" height="0.80" fill="#f2b27a"/>
<rect x="223.16" y="555.46" width="0.80" height="0.80" fill="#f2b27a"/>
<rect x="223.39" y="564.57" width="0.80" height="0.80" fill="#f2b27a"/>
<rect x="223.32" y="563.77" width="0.80" height="0.80" fill="#f2b27a"/>
<rect x="222.51" y="552.27" width="0.80" height="0.80" fill="#f2b27a"/>
<rect x="226.36" y="570.75" width="0.80" height="0.80" fill="#f2b27a"/>
<rect x="225.93" y="562.31" width="0.80" height="0.80" fill="#f2b27a"/>
<rect x="226.07" y="574.83" width="0.80" height="0.80" fill="#f2b27a"/>
<rect x="226.22" y="561.07" width="0.80" height="0.80" fill="#f2b27a"/>
<rect x="229.09" y="567.29" width="0.80" height="0.80" fill="#f2b27a"/>
<rect x="228.34" y="569.81" width="0.80" height="0.80" fill="#f2b27a"/>
<rect x="228.29" y="575.40" width="0.80" height="0.80" fill="#f2b27a"/>
<rect x="228.16" y="566.04" width="0.80" height="0.80" fill="#f2b27a"/>
<rect x="231.51" y="543.60" width="0.80" height="0.80" fill="#f2b27a"/>
<rect x="231.72" y="536.71" width="0.80" height="0.80" fill="#f2b27a"/>
<rect x="232.19" y="538.37" width="0.80" height="0.80" fill="#f2b27a"/>
<rect x="231.11" y="536.15" width="0.80" height="0.80" fill="#f2b27a"/>
<rect x="234.74" y="553.29" width="0.80" height="0.80" fill="#f2b27a"/>
<rect x="234.80" y="561.55" width="0.80" height="0.80" fill="#f2b27a"/>
<rect x="235.19" y="557.83" width="0.80" height="0.80" fill="#f2b27a"/>
<rect x="234.89" y="554.83" width="0.80" height="0.80" fill="#f2b27a"/>
<rect x="237.06" y="560.31" width="0.80" height="0.80" fill="#f2b27a"/>
<rect x="238.05" y="577.18" width="0.80" height="0.80" fill="#f2b27a"/>
<rect x="237.98" y="564.62" width="0.80" height="0.80" fill="#f2b27a"/>
<rect x="238.06" y="567.92" width="0.80" height="0.80" fill="#f2b27a"/>
<rect x="241.07" y="553.46" width="0.80" height="0.80" fill="#f2b27a"/>
<rect x="240.93" y="550.45" width="0.80" height="0.80" fill="#f2b27a"/>
<rect x="240.31" y="544.59" width="0.80" height="0.80" fill="#f2b27a"/>
<rect x="240.78" y="545.71" width="0.80" height="0.80" fill="#f2b27a"/>
<rect x="244.40" y="536.30" width="0.80" height="0.80" fill="#f2b27a"/>
<rect x="243.81" y="546.89" width="0.80" height="0.80" fill="#f2b27a"/>
<rect x="244.43" y="539.61" width="0.80" height="0.80" fill="#f2b27a"/>
<rect x="244.14" y="536.21" width="0.80" height="0.80" fill="#f2b27a"/>
<rect x="247.23" y="533.94" width="0.80" height="0.80" fill="#f2b27a"/>
<rect x="246.63" y="539.18" width="0.80" height="0.80" fill="#f2b27a"/>
<rect x="247.14" y="536.48" width="0.80" height="0.80" fill="#f2b27a"/>
<rect x="245.96" y="536.09" width="0.80" height="0.80" fill="#f2b27a"/>
<rect x="250.02" y="540.42" width="0.80" height="0.80" fill="#f2b27a"/>
<rect x="250.04" y="535.76" width="0.80" height="0.80" fill="#f2b27a"/>
<rect x="250.19" y="537.88" width="0.80" height="0.80" fill="#f2b27a"/>
<rect x="250.36" y="528.73" width="0.80" height="0.80" fill="#f2b27a"/>
<rect x="252.66" y="540.26" width="0.80" height="0.80" fill="#f2b27a"/>
<rect x="253.30" y="534.63" width="0.80" height="0.80" fill="#f2b27a"/>
<rect x="252.07" y="538.03" width="0.80" height="0.80" fill="#f2b27a"/>
<rect x="252.21" y="538.26" width="0.80" height="0.80" fill="#f2b27a"/>
<rect x="255.79" y="541.03" width="0.80" height="0.80" fill="#f2b27a"/>
<rect x="256.15" y="548.56" width="0.80" height="0.80" fill="#f2b27a"/>
<rect x="255.30" y="543.48" width="0.80" height="0.80" fill="#f2b27a"/>
<rect x="254.91" y="538.98" width="0.80" height="0.80" fill="#f2b27a"/>
<rect x="259.18" y="532.49" width="0.80" height="0.80" fill="#f2b27a"/>
<rect x="258.07" y="535.81" width="0.80" height="0.80" fill="#f2b27a"/>
<rect x="257.86" y="532.80" width="0.80" height="0.80" fill="#f2b27a"/>
<rect x="258.11" y="540.00" width="0.80" height="0.80" fill="#f2b27a"/>
<rect x="261.33" y="541.05" width="0.80" height="0.80" fill="#f2b27a"/>
<rect x="261.50" y="540.21" width="0.80" height="0.80" fill="#f2b27a"/>
<rect x="260.70" y="533.56" width="0.80" height="0.80" fill="#f2b27a"/>
<rect x="261.31" y="533.88" width="0.80" height="0.80" fill="#f2b27a"/>
<rect x="264.73" y="535.17" width="0.80" height="0.80" fill="#f2b27a"/>
<rect x="264.88" y="530.59" width="0.80" height="0.80" fill="#f2b27a"/>
<rect x="265.04" y="538.23" width="0.80" height="0.80" fill="#f2b27a"/>
<rect x="263.82" y="529.94" width="0.80" height="0.80" fill="#f2b27a"/>
<rect x="266.67" y="545.59" width="0.80" height="0.80" fill="#f2b27a"/>
<rect x="267.37" y="536.19" width="0.80" height="0.80" fill="#f2b27a"/>
<rect x="267.30" y="539.25" width="0.80" height="0.80" fill="#f2b27a"/>
<rect x="267.78" y="537.86" width="0.80" height="0.80" fill="#f2b27a"/>
<rect x="269.88" y="533.71" width="0.80" height="0.80" fill="#f2b27a"/>
<rect x="270.49" y="537.20" width="0.80" height="0.80" fill="#f2b27a"/>
<rect x="270.33" y="541.99" width="0.80" height="0.80" fill="#f2b27a"/>
<rect x="269.73" y="533.88" width="0.80" height="0.80" fill="#f2b27a"/>
<rect x="272.47" y="542.80" width="0.80" height="0.80" fill="#f2b27a"/>
<rect x="272.99" y="538.47" width="0.80" height="0.80" fill="#f2b27a"/>
<rect x="272.79" y="539.29" width="0.80" height="0.80" fill="#f2b27a"/>
<rect x="273.22" y="543.47" width="0.80" height="0.80" fill="#f2b27a"/>
<rect x="276.33" y="543.16" width="0.80" height="0.80" fill="#f2b27a"/>
<rect x="276.55" y="544.39" width="0.80" height="0.80" fill="#f2b27a"/>
<rect x="276.47" y="555.27" width="0.80" height="0.80" fill="#f2b27a"/>
<rect x="276.09" y="548.70" width="0.80" height="0.80" fill="#f2b27a"/>
<rect x="278.74" y="543.46" width="0.80" height="0.80" fill="#f2b27a"/>
<rect x="279.19" y="547.56" width="0.80" height="0.80" fill="#f2b27a"/>
<rect x="279.80" y="538.42" width="0.80" height="0.80" fill="#f2b27a"/>
<rect x="279.61" y="544.34" width="0.80" height="0.80" fill="#f2b27a"/>
<rect x="282.09" y="541.55" width="0.80" height="0.80" fill="#f2b27a"/>
<rect x="281.79" y="542.94" width="0.80" height="0.80" fill="#f2b27a"/>
<rect x="282.65" y="535.66" width="0.80" height="0.80" fill="#f2b27a"/>
<rect x="282.48" y="529.79" width="0.80" height="0.80" fill="#f2b27a"/>
<rect x="285.72" y="538.10" width="0.80" height="0.80" fill="#f2b27a"/>
<rect x="284.33" y="535.22" width="0.80" height="0.80" fill="#f2b27a"/>
<rect x="284.63" y="538.88" width="0.80" height="0.80" fill="#f2b27a"/>
<rect x="284.87" y="538.96" width="0.80" height="0.80" fill="#f2b27a"/>
<rect x="288.18" y="531.50" width="0.80" height="0.80" fill="#f2b27a"/>
<rect x="288.72" y="539.34" width="0.80" height="0.80" fill="#f2b27a"/>
<rect x="287.54" y="549.96" width="0.80" height="0.80" fill="#f2b27a"/>
<rect x="288.43" y="534.65" width="0.80" height="0.80" fill="#f2b27a"/>
<rect x="290.86" y="537.02" width="0.80" height="0.80" fill="#f2b27a"/>
<rect x="290.53" y="538.70" width="0.80" height="0.80" fill="#f2b27a"/>
<rect x="291.70" y="531.05" width="0.80" height="0.80" fill="#f2b27a"/>
<rect x="290.84" y="533.64" width="0.80" height="0.80" fill="#f2b27a"/>
<polyline points="69.75,586.20 72.71,529.65 75.66,527.90 78.62,527.90 81.58,529.65 84.53,547.14 87.48,531.98 90.44,530.23 93.39,528.48 96.35,531.40 99.31,530.23 102.26,533.73 105.22,536.64 108.17,561.13 111.12,533.15 114.08,528.48 117.03,531.40 119.99,535.48 122.94,537.81 125.90,537.81 128.85,535.48 131.81,543.06 134.76,529.65 137.72,528.48 140.68,530.23 143.63,536.64 146.58,529.65 149.54,528.48 152.50,528.48 155.45,528.48 158.41,528.48 161.36,531.40 164.31,535.48 167.27,536.06 170.22,536.64 173.18,537.23 176.13,536.64 179.09,534.90 182.05,531.98 185.00,528.48 187.95,528.48 190.91,529.65 193.87,529.65 196.82,530.23 199.77,530.23 202.73,530.81 205.69,530.81 208.64,530.81 211.60,531.98 214.55,531.98 217.50,533.73 220.46,528.48 223.42,530.81 226.37,555.30 229.32,555.30 232.28,528.48 235.24,562.30 238.19,562.30 241.14,540.73 244.10,533.15 247.06,529.65 250.01,528.48 252.96,530.23 255.92,531.40 258.88,528.48 261.83,527.90 264.79,527.90 267.74,527.90 270.69,527.90 273.65,527.90 276.61,527.90 279.56,527.90 282.51,528.48 285.47,543.06 288.43,551.22 291.38,561.13" fill="none" stroke="#6cbf55" stroke-width="1.3" stroke-linejoin="round"/>
<polyline points="69.75,575.71 72.71,529.65 75.66,534.90 78.62,530.81 81.58,537.81 84.53,557.05 87.48,543.06 90.44,531.98 93.39,533.15 96.35,536.64 99.31,530.81 102.26,537.81 105.22,546.56 108.17,559.38 111.12,533.73 114.08,530.81 117.03,533.73 119.99,537.81 122.94,539.56 125.90,539.56 128.85,550.64 131.81,551.22 134.76,531.40 137.72,529.65 140.68,533.73 143.63,545.39 146.58,533.73 149.54,531.98 152.50,531.98 155.45,531.40 158.41,532.56 161.36,536.06 164.31,541.31 167.27,551.22 170.22,557.05 173.18,551.22 176.13,541.89 179.09,543.06 182.05,536.64 185.00,531.40 187.95,533.15 190.91,531.98 193.87,530.81 196.82,533.15 199.77,534.90 202.73,536.06 205.69,530.23 208.64,534.90 211.60,529.65 214.55,533.73 217.50,558.80 220.46,537.81 223.42,550.05 226.37,560.55 229.32,565.80 232.28,536.06 235.24,555.30 238.19,559.38 241.14,544.81 244.10,534.90 247.06,530.81 250.01,528.48 252.96,533.15 255.92,536.64 258.88,530.81 261.83,531.98 264.79,532.56 267.74,536.06 270.69,532.56 273.65,539.56 276.61,543.06 279.56,537.81 282.51,531.98 285.47,534.31 288.43,533.73 291.38,532.56" fill="none" stroke="#ec9444" stroke-width="1.3" stroke-linejoin="round"/>
<line x1="227.20" y1="574.70" x2="233.80" y2="574.70" stroke="#6cbf55" stroke-width="1.3"/>
<line x1="227.20" y1="583.20" x2="233.80" y2="583.20" stroke="#ec9444" stroke-width="1.3"/>
<text x="238.20" y="576.60" font-size="5.4" text-anchor="start" fill="#444">DRAP3R</text>
<text x="238.20" y="585.10" font-size="5.6" text-anchor="start" fill="#444">nano-tRNA-Seq</text>
<text x="336.80" y="503.80" font-size="17.0" text-anchor="start" fill="#111">g</text>
<text x="380.20" y="508.30" font-size="8.3" text-anchor="start" fill="#111">Glu-TTC-1</text>
<text x="661.80" y="508.60" font-size="8.5" text-anchor="end" fill="#111">DRAP3R</text>
<text x="663.40" y="620.80" font-size="8.6" text-anchor="end" fill="#111">nano-tRNA-Seq</text>
<rect x="380.10" y="514.07" width="3.93" height="35.23" fill="#dcdcdc"/>
<rect x="380.10" y="512.97" width="3.93" height="1.10" fill="#4fb8d0"/>
<rect x="380.10" y="512.60" width="3.93" height="0.37" fill="#777777"/>
<line x1="380.10" y1="514.07" x2="384.03" y2="514.07" stroke="#555" stroke-width="0.45"/>
<rect x="380.35" y="512.60" width="3.43" height="36.70" fill="none" stroke="#8a8a8a" stroke-width="0.55"/>
<rect x="384.03" y="512.97" width="3.93" height="36.33" fill="#dcdcdc"/>
<rect x="384.03" y="512.60" width="3.93" height="0.37" fill="#777777"/>
<line x1="384.03" y1="512.97" x2="387.96" y2="512.97" stroke="#555" stroke-width="0.45"/>
<rect x="384.28" y="512.60" width="3.43" height="36.70" fill="none" stroke="#8a8a8a" stroke-width="0.55"/>
<rect x="387.96" y="512.97" width="3.93" height="36.33" fill="#dcdcdc"/>
<rect x="387.96" y="512.60" width="3.93" height="0.37" fill="#777777"/>
<line x1="387.96" y1="512.97" x2="391.89" y2="512.97" stroke="#555" stroke-width="0.45"/>
<rect x="388.21" y="512.60" width="3.43" height="36.70" fill="none" stroke="#8a8a8a" stroke-width="0.55"/>
<rect x="391.89" y="515.17" width="3.93" height="34.13" fill="#dcdcdc"/>
<rect x="391.89" y="513.33" width="3.93" height="1.83" fill="#dc5a62"/>
<rect x="391.89" y="512.60" width="3.93" height="0.73" fill="#777777"/>
<line x1="391.89" y1="515.17" x2="395.82" y2="515.17" stroke="#555" stroke-width="0.45"/>
<rect x="392.14" y="512.60" width="3.43" height="36.70" fill="none" stroke="#8a8a8a" stroke-width="0.55"/>
<rect x="395.82" y="515.54" width="3.93" height="33.76" fill="#dcdcdc"/>
<rect x="395.82" y="514.44" width="3.93" height="1.10" fill="#4fb8d0"/>
<rect x="395.82" y="512.60" width="3.93" height="1.83" fill="#62b84d"/>
<line x1="395.82" y1="515.54" x2="399.75" y2="515.54" stroke="#555" stroke-width="0.45"/>
<rect x="396.07" y="512.60" width="3.43" height="36.70" fill="none" stroke="#8a8a8a" stroke-width="0.55"/>
<rect x="399.75" y="518.11" width="3.93" height="31.19" fill="#dcdcdc"/>
<rect x="399.75" y="517.37" width="3.93" height="0.73" fill="#dc5a62"/>
<rect x="399.75" y="516.27" width="3.93" height="1.10" fill="#4fb8d0"/>
<rect x="399.75" y="514.07" width="3.93" height="2.20" fill="#d0d352"/>
<rect x="399.75" y="512.60" width="3.93" height="1.47" fill="#777777"/>
<line x1="399.75" y1="518.11" x2="403.68" y2="518.11" stroke="#555" stroke-width="0.45"/>
<rect x="400.00" y="512.60" width="3.43" height="36.70" fill="none" stroke="#8a8a8a" stroke-width="0.55"/>
<rect x="403.68" y="515.54" width="3.93" height="33.76" fill="#dcdcdc"/>
<rect x="403.68" y="513.70" width="3.93" height="1.83" fill="#62b84d"/>
<rect x="403.68" y="512.60" width="3.93" height="1.10" fill="#777777"/>
<line x1="403.68" y1="515.54" x2="407.61" y2="515.54" stroke="#555" stroke-width="0.45"/>
<rect x="403.93" y="512.60" width="3.43" height="36.70" fill="none" stroke="#8a8a8a" stroke-width="0.55"/>
<rect x="407.61" y="517.37" width="3.93" height="31.93" fill="#dcdcdc"/>
<rect x="407.61" y="516.64" width="3.93" height="0.73" fill="#4fb8d0"/>
<rect x="407.61" y="512.60" width="3.93" height="4.04" fill="#777777"/>
<line x1="407.61" y1="517.37" x2="411.54" y2="517.37" stroke="#555" stroke-width="0.45"/>
<rect x="407.86" y="512.60" width="3.43" height="36.70" fill="none" stroke="#8a8a8a" stroke-width="0.55"/>
<rect x="411.54" y="514.44" width="3.93" height="34.86" fill="#dcdcdc"/>
<rect x="411.54" y="512.97" width="3.93" height="1.47" fill="#dc5a62"/>
<rect x="411.54" y="512.60" width="3.93" height="0.37" fill="#777777"/>
<line x1="411.54" y1="514.44" x2="415.47" y2="514.44" stroke="#555" stroke-width="0.45"/>
<rect x="411.79" y="512.60" width="3.43" height="36.70" fill="none" stroke="#8a8a8a" stroke-width="0.55"/>
<rect x="415.47" y="514.44" width="3.93" height="34.86" fill="#dcdcdc"/>
<rect x="415.47" y="513.33" width="3.93" height="1.10" fill="#62b84d"/>
<rect x="415.47" y="512.60" width="3.93" height="0.73" fill="#777777"/>
<line x1="415.47" y1="514.44" x2="419.40" y2="514.44" stroke="#555" stroke-width="0.45"/>
<rect x="415.72" y="512.60" width="3.43" height="36.70" fill="none" stroke="#8a8a8a" stroke-width="0.55"/>
<rect x="419.40" y="516.27" width="3.93" height="33.03" fill="#dcdcdc"/>
<rect x="419.40" y="514.43" width="3.93" height="1.83" fill="#dc5a62"/>
<rect x="419.40" y="512.60" width="3.93" height="1.83" fill="#777777"/>
<line x1="419.40" y1="516.27" x2="423.33" y2="516.27" stroke="#555" stroke-width="0.45"/>
<rect x="419.65" y="512.60" width="3.43" height="36.70" fill="none" stroke="#8a8a8a" stroke-width="0.55"/>
<rect x="423.33" y="519.21" width="3.93" height="30.09" fill="#dcdcdc"/>
<rect x="423.33" y="518.84" width="3.93" height="0.37" fill="#dc5a62"/>
<rect x="423.33" y="515.54" width="3.93" height="3.30" fill="#62b84d"/>
<rect x="423.33" y="512.60" width="3.93" height="2.94" fill="#777777"/>
<line x1="423.33" y1="519.21" x2="427.26" y2="519.21" stroke="#555" stroke-width="0.45"/>
<rect x="423.58" y="512.60" width="3.43" height="36.70" fill="none" stroke="#8a8a8a" stroke-width="0.55"/>
<rect x="427.26" y="539.76" width="3.93" height="9.54" fill="#dcdcdc"/>
<rect x="427.26" y="525.81" width="3.93" height="13.95" fill="#4fb8d0"/>
<rect x="427.26" y="512.60" width="3.93" height="13.21" fill="#777777"/>
<line x1="427.26" y1="539.76" x2="431.19" y2="539.76" stroke="#555" stroke-width="0.45"/>
<rect x="427.51" y="512.60" width="3.43" height="36.70" fill="none" stroke="#8a8a8a" stroke-width="0.55"/>
<rect x="431.19" y="515.54" width="3.93" height="33.76" fill="#dcdcdc"/>
<rect x="431.19" y="513.70" width="3.93" height="1.83" fill="#d0d352"/>
<rect x="431.19" y="512.60" width="3.93" height="1.10" fill="#777777"/>
<line x1="431.19" y1="515.54" x2="435.12" y2="515.54" stroke="#555" stroke-width="0.45"/>
<rect x="431.44" y="512.60" width="3.43" height="36.70" fill="none" stroke="#8a8a8a" stroke-width="0.55"/>
<rect x="435.12" y="513.70" width="3.93" height="35.60" fill="#dcdcdc"/>
<rect x="435.12" y="512.97" width="3.93" height="0.73" fill="#dc5a62"/>
<rect x="435.12" y="512.60" width="3.93" height="0.37" fill="#777777"/>
<line x1="435.12" y1="513.70" x2="439.05" y2="513.70" stroke="#555" stroke-width="0.45"/>
<rect x="435.37" y="512.60" width="3.43" height="36.70" fill="none" stroke="#8a8a8a" stroke-width="0.55"/>
<rect x="439.05" y="517.37" width="3.93" height="31.93" fill="#dcdcdc"/>
<rect x="439.05" y="515.17" width="3.93" height="2.20" fill="#62b84d"/>
<rect x="439.05" y="512.60" width="3.93" height="2.57" fill="#777777"/>
<line x1="439.05" y1="517.37" x2="442.98" y2="517.37" stroke="#555" stroke-width="0.45"/>
<rect x="439.30" y="512.60" width="3.43" height="36.70" fill="none" stroke="#8a8a8a" stroke-width="0.55"/>
<rect x="442.98" y="526.18" width="3.93" height="23.12" fill="#dcdcdc"/>
<rect x="442.98" y="518.11" width="3.93" height="8.07" fill="#dc5a62"/>
<rect x="442.98" y="515.17" width="3.93" height="2.94" fill="#62b84d"/>
<rect x="442.98" y="512.60" width="3.93" height="2.57" fill="#777777"/>
<line x1="442.98" y1="526.18" x2="446.91" y2="526.18" stroke="#555" stroke-width="0.45"/>
<rect x="443.23" y="512.60" width="3.43" height="36.70" fill="none" stroke="#8a8a8a" stroke-width="0.55"/>
<rect x="446.91" y="521.04" width="3.93" height="28.26" fill="#dcdcdc"/>
<rect x="446.91" y="515.90" width="3.93" height="5.14" fill="#dc5a62"/>
<rect x="446.91" y="515.17" width="3.93" height="0.73" fill="#4fb8d0"/>
<rect x="446.91" y="513.33" width="3.93" height="1.83" fill="#62b84d"/>
<rect x="446.91" y="512.60" width="3.93" height="0.73" fill="#777777"/>
<line x1="446.91" y1="521.04" x2="450.84" y2="521.04" stroke="#555" stroke-width="0.45"/>
<rect x="447.16" y="512.60" width="3.43" height="36.70" fill="none" stroke="#8a8a8a" stroke-width="0.55"/>
<rect x="450.84" y="517.74" width="3.93" height="31.56" fill="#dcdcdc"/>
<rect x="450.84" y="513.70" width="3.93" height="4.04" fill="#4fb8d0"/>
<rect x="450.84" y="512.60" width="3.93" height="1.10" fill="#777777"/>
<line x1="450.84" y1="517.74" x2="454.77" y2="517.74" stroke="#555" stroke-width="0.45"/>
<rect x="451.09" y="512.60" width="3.43" height="36.70" fill="none" stroke="#8a8a8a" stroke-width="0.55"/>
<rect x="454.77" y="517.00" width="3.93" height="32.30" fill="#dcdcdc"/>
<rect x="454.77" y="515.90" width="3.93" height="1.10" fill="#dc5a62"/>
<rect x="454.77" y="512.97" width="3.93" height="2.94" fill="#4fb8d0"/>
<rect x="454.77" y="512.60" width="3.93" height="0.37" fill="#777777"/>
<line x1="454.77" y1="517.00" x2="458.70" y2="517.00" stroke="#555" stroke-width="0.45"/>
<rect x="455.02" y="512.60" width="3.43" height="36.70" fill="none" stroke="#8a8a8a" stroke-width="0.55"/>
<rect x="458.70" y="521.41" width="3.93" height="27.89" fill="#dcdcdc"/>
<rect x="458.70" y="520.67" width="3.93" height="0.73" fill="#4fb8d0"/>
<rect x="458.70" y="515.17" width="3.93" height="5.50" fill="#d0d352"/>
<rect x="458.70" y="513.33" width="3.93" height="1.83" fill="#62b84d"/>
<rect x="458.70" y="512.60" width="3.93" height="0.73" fill="#777777"/>
<line x1="458.70" y1="521.41" x2="462.63" y2="521.41" stroke="#555" stroke-width="0.45"/>
<rect x="458.95" y="512.60" width="3.43" height="36.70" fill="none" stroke="#8a8a8a" stroke-width="0.55"/>
<rect x="462.63" y="513.70" width="3.93" height="35.60" fill="#dcdcdc"/>
<rect x="462.63" y="512.97" width="3.93" height="0.73" fill="#62b84d"/>
<rect x="462.63" y="512.60" width="3.93" height="0.37" fill="#777777"/>
<line x1="462.63" y1="513.70" x2="466.56" y2="513.70" stroke="#555" stroke-width="0.45"/>
<rect x="462.88" y="512.60" width="3.43" height="36.70" fill="none" stroke="#8a8a8a" stroke-width="0.55"/>
<rect x="466.56" y="513.33" width="3.93" height="35.97" fill="#dcdcdc"/>
<rect x="466.56" y="512.97" width="3.93" height="0.37" fill="#dc5a62"/>
<rect x="466.56" y="512.60" width="3.93" height="0.37" fill="#777777"/>
<line x1="466.56" y1="513.33" x2="470.49" y2="513.33" stroke="#555" stroke-width="0.45"/>
<rect x="466.81" y="512.60" width="3.43" height="36.70" fill="none" stroke="#8a8a8a" stroke-width="0.55"/>
<rect x="470.49" y="513.70" width="3.93" height="35.60" fill="#dcdcdc"/>
<rect x="470.49" y="512.97" width="3.93" height="0.73" fill="#d0d352"/>
<rect x="470.49" y="512.60" width="3.93" height="0.37" fill="#777777"/>
<line x1="470.49" y1="513.70" x2="474.42" y2="513.70" stroke="#555" stroke-width="0.45"/>
<rect x="470.74" y="512.60" width="3.43" height="36.70" fill="none" stroke="#8a8a8a" stroke-width="0.55"/>
<rect x="474.42" y="517.74" width="3.93" height="31.56" fill="#dcdcdc"/>
<rect x="474.42" y="516.64" width="3.93" height="1.10" fill="#dc5a62"/>
<rect x="474.42" y="512.60" width="3.93" height="4.04" fill="#777777"/>
<line x1="474.42" y1="517.74" x2="478.35" y2="517.74" stroke="#555" stroke-width="0.45"/>
<rect x="474.67" y="512.60" width="3.43" height="36.70" fill="none" stroke="#8a8a8a" stroke-width="0.55"/>
<rect x="478.35" y="514.80" width="3.93" height="34.50" fill="#dcdcdc"/>
<rect x="478.35" y="514.44" width="3.93" height="0.37" fill="#dc5a62"/>
<rect x="478.35" y="513.70" width="3.93" height="0.73" fill="#4fb8d0"/>
<rect x="478.35" y="512.60" width="3.93" height="1.10" fill="#777777"/>
<line x1="478.35" y1="514.80" x2="482.28" y2="514.80" stroke="#555" stroke-width="0.45"/>
<rect x="478.60" y="512.60" width="3.43" height="36.70" fill="none" stroke="#8a8a8a" stroke-width="0.55"/>
<rect x="482.28" y="514.07" width="3.93" height="35.23" fill="#dcdcdc"/>
<rect x="482.28" y="512.60" width="3.93" height="1.47" fill="#777777"/>
<line x1="482.28" y1="514.07" x2="486.21" y2="514.07" stroke="#555" stroke-width="0.45"/>
<rect x="482.53" y="512.60" width="3.43" height="36.70" fill="none" stroke="#8a8a8a" stroke-width="0.55"/>
<rect x="486.21" y="512.97" width="3.93" height="36.33" fill="#dcdcdc"/>
<rect x="486.21" y="512.60" width="3.93" height="0.37" fill="#62b84d"/>
<line x1="486.21" y1="512.97" x2="490.14" y2="512.97" stroke="#555" stroke-width="0.45"/>
<rect x="486.46" y="512.60" width="3.43" height="36.70" fill="none" stroke="#8a8a8a" stroke-width="0.55"/>
<rect x="490.14" y="512.97" width="3.93" height="36.33" fill="#dcdcdc"/>
<rect x="490.14" y="512.60" width="3.93" height="0.37" fill="#777777"/>
<line x1="490.14" y1="512.97" x2="494.07" y2="512.97" stroke="#555" stroke-width="0.45"/>
<rect x="490.39" y="512.60" width="3.43" height="36.70" fill="none" stroke="#8a8a8a" stroke-width="0.55"/>
<rect x="494.07" y="514.07" width="3.93" height="35.23" fill="#dcdcdc"/>
<rect x="494.07" y="512.60" width="3.93" height="1.47" fill="#777777"/>
<line x1="494.07" y1="514.07" x2="498.00" y2="514.07" stroke="#555" stroke-width="0.45"/>
<rect x="494.32" y="512.60" width="3.43" height="36.70" fill="none" stroke="#8a8a8a" stroke-width="0.55"/>
<rect x="498.00" y="516.27" width="3.93" height="33.03" fill="#dcdcdc"/>
<rect x="498.00" y="515.54" width="3.93" height="0.73" fill="#4fb8d0"/>
<rect x="498.00" y="512.60" width="3.93" height="2.94" fill="#777777"/>
<line x1="498.00" y1="516.27" x2="501.93" y2="516.27" stroke="#555" stroke-width="0.45"/>
<rect x="498.25" y="512.60" width="3.43" height="36.70" fill="none" stroke="#8a8a8a" stroke-width="0.55"/>
<rect x="501.93" y="528.75" width="3.93" height="20.55" fill="#dcdcdc"/>
<rect x="501.93" y="528.38" width="3.93" height="0.37" fill="#dc5a62"/>
<rect x="501.93" y="525.81" width="3.93" height="2.57" fill="#4fb8d0"/>
<rect x="501.93" y="524.71" width="3.93" height="1.10" fill="#d0d352"/>
<rect x="501.93" y="512.60" width="3.93" height="12.11" fill="#777777"/>
<line x1="501.93" y1="528.75" x2="505.86" y2="528.75" stroke="#555" stroke-width="0.45"/>
<rect x="502.18" y="512.60" width="3.43" height="36.70" fill="none" stroke="#8a8a8a" stroke-width="0.55"/>
<rect x="505.86" y="517.74" width="3.93" height="31.56" fill="#dcdcdc"/>
<rect x="505.86" y="517.00" width="3.93" height="0.73" fill="#dc5a62"/>
<rect x="505.86" y="513.70" width="3.93" height="3.30" fill="#4fb8d0"/>
<rect x="505.86" y="512.60" width="3.93" height="1.10" fill="#777777"/>
<line x1="505.86" y1="517.74" x2="509.79" y2="517.74" stroke="#555" stroke-width="0.45"/>
<rect x="506.11" y="512.60" width="3.43" height="36.70" fill="none" stroke="#8a8a8a" stroke-width="0.55"/>
<rect x="509.79" y="517.00" width="3.93" height="32.30" fill="#dcdcdc"/>
<rect x="509.79" y="514.44" width="3.93" height="2.57" fill="#4fb8d0"/>
<rect x="509.79" y="512.60" width="3.93" height="1.83" fill="#777777"/>
<line x1="509.79" y1="517.00" x2="513.72" y2="517.00" stroke="#555" stroke-width="0.45"/>
<rect x="510.04" y="512.60" width="3.43" height="36.70" fill="none" stroke="#8a8a8a" stroke-width="0.55"/>
<rect x="513.72" y="518.47" width="3.93" height="30.83" fill="#dcdcdc"/>
<rect x="513.72" y="517.37" width="3.93" height="1.10" fill="#dc5a62"/>
<rect x="513.72" y="515.90" width="3.93" height="1.47" fill="#4fb8d0"/>
<rect x="513.72" y="512.60" width="3.93" height="3.30" fill="#777777"/>
<line x1="513.72" y1="518.47" x2="517.65" y2="518.47" stroke="#555" stroke-width="0.45"/>
<rect x="513.97" y="512.60" width="3.43" height="36.70" fill="none" stroke="#8a8a8a" stroke-width="0.55"/>
<rect x="517.65" y="521.41" width="3.93" height="27.89" fill="#dcdcdc"/>
<rect x="517.65" y="518.84" width="3.93" height="2.57" fill="#62b84d"/>
<rect x="517.65" y="512.60" width="3.93" height="6.24" fill="#777777"/>
<line x1="517.65" y1="521.41" x2="521.58" y2="521.41" stroke="#555" stroke-width="0.45"/>
<rect x="517.90" y="512.60" width="3.43" height="36.70" fill="none" stroke="#8a8a8a" stroke-width="0.55"/>
<rect x="521.58" y="522.14" width="3.93" height="27.16" fill="#dcdcdc"/>
<rect x="521.58" y="520.31" width="3.93" height="1.83" fill="#4fb8d0"/>
<rect x="521.58" y="516.64" width="3.93" height="3.67" fill="#62b84d"/>
<rect x="521.58" y="512.60" width="3.93" height="4.04" fill="#777777"/>
<line x1="521.58" y1="522.14" x2="525.51" y2="522.14" stroke="#555" stroke-width="0.45"/>
<rect x="521.83" y="512.60" width="3.43" height="36.70" fill="none" stroke="#8a8a8a" stroke-width="0.55"/>
<rect x="525.51" y="516.27" width="3.93" height="33.03" fill="#dcdcdc"/>
<rect x="525.51" y="514.07" width="3.93" height="2.20" fill="#62b84d"/>
<rect x="525.51" y="512.60" width="3.93" height="1.47" fill="#777777"/>
<line x1="525.51" y1="516.27" x2="529.44" y2="516.27" stroke="#555" stroke-width="0.45"/>
<rect x="525.76" y="512.60" width="3.43" height="36.70" fill="none" stroke="#8a8a8a" stroke-width="0.55"/>
<rect x="529.44" y="513.70" width="3.93" height="35.60" fill="#dcdcdc"/>
<rect x="529.44" y="512.97" width="3.93" height="0.73" fill="#62b84d"/>
<rect x="529.44" y="512.60" width="3.93" height="0.37" fill="#777777"/>
<line x1="529.44" y1="513.70" x2="533.37" y2="513.70" stroke="#555" stroke-width="0.45"/>
<rect x="529.69" y="512.60" width="3.43" height="36.70" fill="none" stroke="#8a8a8a" stroke-width="0.55"/>
<rect x="533.37" y="513.70" width="3.93" height="35.60" fill="#dcdcdc"/>
<rect x="533.37" y="513.33" width="3.93" height="0.37" fill="#dc5a62"/>
<rect x="533.37" y="512.60" width="3.93" height="0.73" fill="#777777"/>
<line x1="533.37" y1="513.70" x2="537.30" y2="513.70" stroke="#555" stroke-width="0.45"/>
<rect x="533.62" y="512.60" width="3.43" height="36.70" fill="none" stroke="#8a8a8a" stroke-width="0.55"/>
<rect x="537.30" y="513.70" width="3.93" height="35.60" fill="#dcdcdc"/>
<rect x="537.30" y="512.97" width="3.93" height="0.73" fill="#d0d352"/>
<rect x="537.30" y="512.60" width="3.93" height="0.37" fill="#777777"/>
<line x1="537.30" y1="513.70" x2="541.23" y2="513.70" stroke="#555" stroke-width="0.45"/>
<rect x="537.55" y="512.60" width="3.43" height="36.70" fill="none" stroke="#8a8a8a" stroke-width="0.55"/>
<rect x="541.23" y="513.70" width="3.93" height="35.60" fill="#dcdcdc"/>
<rect x="541.23" y="513.33" width="3.93" height="0.37" fill="#dc5a62"/>
<rect x="541.23" y="512.60" width="3.93" height="0.73" fill="#777777"/>
<line x1="541.23" y1="513.70" x2="545.16" y2="513.70" stroke="#555" stroke-width="0.45"/>
<rect x="541.48" y="512.60" width="3.43" height="36.70" fill="none" stroke="#8a8a8a" stroke-width="0.55"/>
<rect x="545.16" y="513.33" width="3.93" height="35.97" fill="#dcdcdc"/>
<rect x="545.16" y="512.60" width="3.93" height="0.73" fill="#777777"/>
<line x1="545.16" y1="513.33" x2="549.09" y2="513.33" stroke="#555" stroke-width="0.45"/>
<rect x="545.41" y="512.60" width="3.43" height="36.70" fill="none" stroke="#8a8a8a" stroke-width="0.55"/>
<rect x="549.09" y="515.54" width="3.93" height="33.76" fill="#dcdcdc"/>
<rect x="549.09" y="514.80" width="3.93" height="0.73" fill="#dc5a62"/>
<rect x="549.09" y="512.60" width="3.93" height="2.20" fill="#777777"/>
<line x1="549.09" y1="515.54" x2="553.02" y2="515.54" stroke="#555" stroke-width="0.45"/>
<rect x="549.34" y="512.60" width="3.43" height="36.70" fill="none" stroke="#8a8a8a" stroke-width="0.55"/>
<rect x="553.02" y="515.90" width="3.93" height="33.40" fill="#dcdcdc"/>
<rect x="553.02" y="514.07" width="3.93" height="1.83" fill="#dc5a62"/>
<rect x="553.02" y="512.60" width="3.93" height="1.47" fill="#777777"/>
<line x1="553.02" y1="515.90" x2="556.95" y2="515.90" stroke="#555" stroke-width="0.45"/>
<rect x="553.27" y="512.60" width="3.43" height="36.70" fill="none" stroke="#8a8a8a" stroke-width="0.55"/>
<rect x="556.95" y="514.07" width="3.93" height="35.23" fill="#dcdcdc"/>
<rect x="556.95" y="513.33" width="3.93" height="0.73" fill="#dc5a62"/>
<rect x="556.95" y="512.60" width="3.93" height="0.73" fill="#777777"/>
<line x1="556.95" y1="514.07" x2="560.88" y2="514.07" stroke="#555" stroke-width="0.45"/>
<rect x="557.20" y="512.60" width="3.43" height="36.70" fill="none" stroke="#8a8a8a" stroke-width="0.55"/>
<rect x="560.88" y="517.00" width="3.93" height="32.30" fill="#dcdcdc"/>
<rect x="560.88" y="516.64" width="3.93" height="0.37" fill="#dc5a62"/>
<rect x="560.88" y="515.17" width="3.93" height="1.47" fill="#62b84d"/>
<rect x="560.88" y="512.60" width="3.93" height="2.57" fill="#777777"/>
<line x1="560.88" y1="517.00" x2="564.81" y2="517.00" stroke="#555" stroke-width="0.45"/>
<rect x="561.13" y="512.60" width="3.43" height="36.70" fill="none" stroke="#8a8a8a" stroke-width="0.55"/>
<rect x="564.81" y="515.54" width="3.93" height="33.76" fill="#dcdcdc"/>
<rect x="564.81" y="515.17" width="3.93" height="0.37" fill="#dc5a62"/>
<rect x="564.81" y="513.70" width="3.93" height="1.47" fill="#62b84d"/>
<rect x="564.81" y="512.60" width="3.93" height="1.10" fill="#777777"/>
<line x1="564.81" y1="515.54" x2="568.74" y2="515.54" stroke="#555" stroke-width="0.45"/>
<rect x="565.06" y="512.60" width="3.43" height="36.70" fill="none" stroke="#8a8a8a" stroke-width="0.55"/>
<rect x="568.74" y="517.37" width="3.93" height="31.93" fill="#dcdcdc"/>
<rect x="568.74" y="515.90" width="3.93" height="1.47" fill="#dc5a62"/>
<rect x="568.74" y="513.70" width="3.93" height="2.20" fill="#62b84d"/>
<rect x="568.74" y="512.60" width="3.93" height="1.10" fill="#777777"/>
<line x1="568.74" y1="517.37" x2="572.67" y2="517.37" stroke="#555" stroke-width="0.45"/>
<rect x="568.99" y="512.60" width="3.43" height="36.70" fill="none" stroke="#8a8a8a" stroke-width="0.55"/>
<rect x="572.67" y="522.88" width="3.93" height="26.42" fill="#dcdcdc"/>
<rect x="572.67" y="514.07" width="3.93" height="8.81" fill="#dc5a62"/>
<rect x="572.67" y="512.60" width="3.93" height="1.47" fill="#777777"/>
<line x1="572.67" y1="522.88" x2="576.60" y2="522.88" stroke="#555" stroke-width="0.45"/>
<rect x="572.92" y="512.60" width="3.43" height="36.70" fill="none" stroke="#8a8a8a" stroke-width="0.55"/>
<rect x="576.60" y="513.33" width="3.93" height="35.97" fill="#dcdcdc"/>
<rect x="576.60" y="512.97" width="3.93" height="0.37" fill="#dc5a62"/>
<rect x="576.60" y="512.60" width="3.93" height="0.37" fill="#777777"/>
<line x1="576.60" y1="513.33" x2="580.53" y2="513.33" stroke="#555" stroke-width="0.45"/>
<rect x="576.85" y="512.60" width="3.43" height="36.70" fill="none" stroke="#8a8a8a" stroke-width="0.55"/>
<rect x="580.53" y="515.54" width="3.93" height="33.76" fill="#dcdcdc"/>
<rect x="580.53" y="514.80" width="3.93" height="0.73" fill="#dc5a62"/>
<rect x="580.53" y="512.60" width="3.93" height="2.20" fill="#777777"/>
<line x1="580.53" y1="515.54" x2="584.46" y2="515.54" stroke="#555" stroke-width="0.45"/>
<rect x="580.78" y="512.60" width="3.43" height="36.70" fill="none" stroke="#8a8a8a" stroke-width="0.55"/>
<rect x="584.46" y="519.94" width="3.93" height="29.36" fill="#dcdcdc"/>
<rect x="584.46" y="518.84" width="3.93" height="1.10" fill="#dc5a62"/>
<rect x="584.46" y="517.74" width="3.93" height="1.10" fill="#4fb8d0"/>
<rect x="584.46" y="512.60" width="3.93" height="5.14" fill="#777777"/>
<line x1="584.46" y1="519.94" x2="588.39" y2="519.94" stroke="#555" stroke-width="0.45"/>
<rect x="584.71" y="512.60" width="3.43" height="36.70" fill="none" stroke="#8a8a8a" stroke-width="0.55"/>
<rect x="588.39" y="529.85" width="3.93" height="19.45" fill="#dcdcdc"/>
<rect x="588.39" y="528.75" width="3.93" height="1.10" fill="#dc5a62"/>
<rect x="588.39" y="514.07" width="3.93" height="14.68" fill="#4fb8d0"/>
<rect x="588.39" y="512.60" width="3.93" height="1.47" fill="#777777"/>
<line x1="588.39" y1="529.85" x2="592.32" y2="529.85" stroke="#555" stroke-width="0.45"/>
<rect x="588.64" y="512.60" width="3.43" height="36.70" fill="none" stroke="#8a8a8a" stroke-width="0.55"/>
<rect x="592.32" y="515.17" width="3.93" height="34.13" fill="#dcdcdc"/>
<rect x="592.32" y="514.07" width="3.93" height="1.10" fill="#62b84d"/>
<rect x="592.32" y="512.60" width="3.93" height="1.47" fill="#777777"/>
<line x1="592.32" y1="515.17" x2="596.25" y2="515.17" stroke="#555" stroke-width="0.45"/>
<rect x="592.57" y="512.60" width="3.43" height="36.70" fill="none" stroke="#8a8a8a" stroke-width="0.55"/>
<rect x="596.25" y="521.41" width="3.93" height="27.89" fill="#dcdcdc"/>
<rect x="596.25" y="520.67" width="3.93" height="0.73" fill="#dc5a62"/>
<rect x="596.25" y="515.54" width="3.93" height="5.14" fill="#4fb8d0"/>
<rect x="596.25" y="512.60" width="3.93" height="2.94" fill="#777777"/>
<line x1="596.25" y1="521.41" x2="600.18" y2="521.41" stroke="#555" stroke-width="0.45"/>
<rect x="596.50" y="512.60" width="3.43" height="36.70" fill="none" stroke="#8a8a8a" stroke-width="0.55"/>
<rect x="600.18" y="523.61" width="3.93" height="25.69" fill="#dcdcdc"/>
<rect x="600.18" y="519.94" width="3.93" height="3.67" fill="#4fb8d0"/>
<rect x="600.18" y="514.07" width="3.93" height="5.87" fill="#62b84d"/>
<rect x="600.18" y="512.60" width="3.93" height="1.47" fill="#777777"/>
<line x1="600.18" y1="523.61" x2="604.11" y2="523.61" stroke="#555" stroke-width="0.45"/>
<rect x="600.43" y="512.60" width="3.43" height="36.70" fill="none" stroke="#8a8a8a" stroke-width="0.55"/>
<rect x="604.11" y="519.21" width="3.93" height="30.09" fill="#dcdcdc"/>
<rect x="604.11" y="518.84" width="3.93" height="0.37" fill="#dc5a62"/>
<rect x="604.11" y="517.74" width="3.93" height="1.10" fill="#d0d352"/>
<rect x="604.11" y="516.27" width="3.93" height="1.47" fill="#62b84d"/>
<rect x="604.11" y="512.60" width="3.93" height="3.67" fill="#777777"/>
<line x1="604.11" y1="519.21" x2="608.04" y2="519.21" stroke="#555" stroke-width="0.45"/>
<rect x="604.36" y="512.60" width="3.43" height="36.70" fill="none" stroke="#8a8a8a" stroke-width="0.55"/>
<rect x="608.04" y="515.54" width="3.93" height="33.76" fill="#dcdcdc"/>
<rect x="608.04" y="513.70" width="3.93" height="1.83" fill="#dc5a62"/>
<rect x="608.04" y="512.60" width="3.93" height="1.10" fill="#777777"/>
<line x1="608.04" y1="515.54" x2="611.97" y2="515.54" stroke="#555" stroke-width="0.45"/>
<rect x="608.29" y="512.60" width="3.43" height="36.70" fill="none" stroke="#8a8a8a" stroke-width="0.55"/>
<rect x="611.97" y="518.11" width="3.93" height="31.19" fill="#dcdcdc"/>
<rect x="611.97" y="515.90" width="3.93" height="2.20" fill="#62b84d"/>
<rect x="611.97" y="512.60" width="3.93" height="3.30" fill="#777777"/>
<line x1="611.97" y1="518.11" x2="615.90" y2="518.11" stroke="#555" stroke-width="0.45"/>
<rect x="612.22" y="512.60" width="3.43" height="36.70" fill="none" stroke="#8a8a8a" stroke-width="0.55"/>
<rect x="615.90" y="513.33" width="3.93" height="35.97" fill="#dcdcdc"/>
<rect x="615.90" y="512.97" width="3.93" height="0.37" fill="#62b84d"/>
<rect x="615.90" y="512.60" width="3.93" height="0.37" fill="#777777"/>
<line x1="615.90" y1="513.33" x2="619.83" y2="513.33" stroke="#555" stroke-width="0.45"/>
<rect x="616.15" y="512.60" width="3.43" height="36.70" fill="none" stroke="#8a8a8a" stroke-width="0.55"/>
<rect x="619.83" y="516.64" width="3.93" height="32.66" fill="#dcdcdc"/>
<rect x="619.83" y="515.90" width="3.93" height="0.73" fill="#dc5a62"/>
<rect x="619.83" y="513.70" width="3.93" height="2.20" fill="#62b84d"/>
<rect x="619.83" y="512.60" width="3.93" height="1.10" fill="#777777"/>
<line x1="619.83" y1="516.64" x2="623.76" y2="516.64" stroke="#555" stroke-width="0.45"/>
<rect x="620.08" y="512.60" width="3.43" height="36.70" fill="none" stroke="#8a8a8a" stroke-width="0.55"/>
<rect x="623.76" y="517.00" width="3.93" height="32.30" fill="#dcdcdc"/>
<rect x="623.76" y="513.33" width="3.93" height="3.67" fill="#dc5a62"/>
<rect x="623.76" y="512.60" width="3.93" height="0.73" fill="#777777"/>
<line x1="623.76" y1="517.00" x2="627.69" y2="517.00" stroke="#555" stroke-width="0.45"/>
<rect x="624.01" y="512.60" width="3.43" height="36.70" fill="none" stroke="#8a8a8a" stroke-width="0.55"/>
<rect x="627.69" y="513.70" width="3.93" height="35.60" fill="#dcdcdc"/>
<rect x="627.69" y="512.97" width="3.93" height="0.73" fill="#62b84d"/>
<rect x="627.69" y="512.60" width="3.93" height="0.37" fill="#777777"/>
<line x1="627.69" y1="513.70" x2="631.62" y2="513.70" stroke="#555" stroke-width="0.45"/>
<rect x="627.94" y="512.60" width="3.43" height="36.70" fill="none" stroke="#8a8a8a" stroke-width="0.55"/>
<rect x="631.62" y="512.97" width="3.93" height="36.33" fill="#dcdcdc"/>
<rect x="631.62" y="512.60" width="3.93" height="0.37" fill="#777777"/>
<line x1="631.62" y1="512.97" x2="635.55" y2="512.97" stroke="#555" stroke-width="0.45"/>
<rect x="631.87" y="512.60" width="3.43" height="36.70" fill="none" stroke="#8a8a8a" stroke-width="0.55"/>
<rect x="635.55" y="515.17" width="3.93" height="34.13" fill="#dcdcdc"/>
<rect x="635.55" y="512.60" width="3.93" height="2.57" fill="#777777"/>
<line x1="635.55" y1="515.17" x2="639.48" y2="515.17" stroke="#555" stroke-width="0.45"/>
<rect x="635.80" y="512.60" width="3.43" height="36.70" fill="none" stroke="#8a8a8a" stroke-width="0.55"/>
<rect x="639.48" y="513.33" width="3.93" height="35.97" fill="#dcdcdc"/>
<rect x="639.48" y="512.60" width="3.93" height="0.73" fill="#777777"/>
<line x1="639.48" y1="513.33" x2="643.41" y2="513.33" stroke="#555" stroke-width="0.45"/>
<rect x="639.73" y="512.60" width="3.43" height="36.70" fill="none" stroke="#8a8a8a" stroke-width="0.55"/>
<rect x="643.41" y="513.33" width="3.93" height="35.97" fill="#dcdcdc"/>
<rect x="643.41" y="512.60" width="3.93" height="0.73" fill="#777777"/>
<line x1="643.41" y1="513.33" x2="647.34" y2="513.33" stroke="#555" stroke-width="0.45"/>
<rect x="643.66" y="512.60" width="3.43" height="36.70" fill="none" stroke="#8a8a8a" stroke-width="0.55"/>
<rect x="647.34" y="512.97" width="3.93" height="36.33" fill="#dcdcdc"/>
<rect x="647.34" y="512.60" width="3.93" height="0.37" fill="#777777"/>
<line x1="647.34" y1="512.97" x2="651.27" y2="512.97" stroke="#555" stroke-width="0.45"/>
<rect x="647.59" y="512.60" width="3.43" height="36.70" fill="none" stroke="#8a8a8a" stroke-width="0.55"/>
<rect x="651.27" y="512.97" width="3.93" height="36.33" fill="#dcdcdc"/>
<rect x="651.27" y="512.60" width="3.93" height="0.37" fill="#777777"/>
<line x1="651.27" y1="512.97" x2="655.20" y2="512.97" stroke="#555" stroke-width="0.45"/>
<rect x="651.52" y="512.60" width="3.43" height="36.70" fill="none" stroke="#8a8a8a" stroke-width="0.55"/>
<rect x="655.20" y="512.97" width="3.93" height="36.33" fill="#dcdcdc"/>
<rect x="655.20" y="512.60" width="3.93" height="0.37" fill="#777777"/>
<line x1="655.20" y1="512.97" x2="659.13" y2="512.97" stroke="#555" stroke-width="0.45"/>
<rect x="655.45" y="512.60" width="3.43" height="36.70" fill="none" stroke="#8a8a8a" stroke-width="0.55"/>
<rect x="659.13" y="512.97" width="3.93" height="36.33" fill="#dcdcdc"/>
<rect x="659.13" y="512.60" width="3.93" height="0.37" fill="#777777"/>
<line x1="659.13" y1="512.97" x2="663.06" y2="512.97" stroke="#555" stroke-width="0.45"/>
<rect x="659.38" y="512.60" width="3.43" height="36.70" fill="none" stroke="#8a8a8a" stroke-width="0.55"/>
<rect x="380.10" y="577.07" width="3.93" height="35.23" fill="#dcdcdc"/>
<rect x="380.10" y="576.33" width="3.93" height="0.73" fill="#dc5a62"/>
<rect x="380.10" y="575.60" width="3.93" height="0.73" fill="#777777"/>
<line x1="380.10" y1="577.07" x2="384.03" y2="577.07" stroke="#555" stroke-width="0.45"/>
<rect x="380.35" y="575.60" width="3.43" height="36.70" fill="none" stroke="#8a8a8a" stroke-width="0.55"/>
<rect x="384.03" y="579.27" width="3.93" height="33.03" fill="#dcdcdc"/>
<rect x="384.03" y="577.43" width="3.93" height="1.83" fill="#62b84d"/>
<rect x="384.03" y="575.60" width="3.93" height="1.83" fill="#777777"/>
<line x1="384.03" y1="579.27" x2="387.96" y2="579.27" stroke="#555" stroke-width="0.45"/>
<rect x="384.28" y="575.60" width="3.43" height="36.70" fill="none" stroke="#8a8a8a" stroke-width="0.55"/>
<rect x="387.96" y="577.07" width="3.93" height="35.23" fill="#dcdcdc"/>
<rect x="387.96" y="576.33" width="3.93" height="0.73" fill="#62b84d"/>
<rect x="387.96" y="575.60" width="3.93" height="0.73" fill="#777777"/>
<line x1="387.96" y1="577.07" x2="391.89" y2="577.07" stroke="#555" stroke-width="0.45"/>
<rect x="388.21" y="575.60" width="3.43" height="36.70" fill="none" stroke="#8a8a8a" stroke-width="0.55"/>
<rect x="391.89" y="577.44" width="3.93" height="34.86" fill="#dcdcdc"/>
<rect x="391.89" y="577.07" width="3.93" height="0.37" fill="#62b84d"/>
<rect x="391.89" y="575.60" width="3.93" height="1.47" fill="#777777"/>
<line x1="391.89" y1="577.44" x2="395.82" y2="577.44" stroke="#555" stroke-width="0.45"/>
<rect x="392.14" y="575.60" width="3.43" height="36.70" fill="none" stroke="#8a8a8a" stroke-width="0.55"/>
<rect x="395.82" y="585.51" width="3.93" height="26.79" fill="#dcdcdc"/>
<rect x="395.82" y="584.04" width="3.93" height="1.47" fill="#4fb8d0"/>
<rect x="395.82" y="583.67" width="3.93" height="0.37" fill="#62b84d"/>
<rect x="395.82" y="575.60" width="3.93" height="8.07" fill="#777777"/>
<line x1="395.82" y1="585.51" x2="399.75" y2="585.51" stroke="#555" stroke-width="0.45"/>
<rect x="396.07" y="575.60" width="3.43" height="36.70" fill="none" stroke="#8a8a8a" stroke-width="0.55"/>
<rect x="399.75" y="580.74" width="3.93" height="31.56" fill="#dcdcdc"/>
<rect x="399.75" y="580.37" width="3.93" height="0.37" fill="#dc5a62"/>
<rect x="399.75" y="578.90" width="3.93" height="1.47" fill="#4fb8d0"/>
<rect x="399.75" y="578.17" width="3.93" height="0.73" fill="#d0d352"/>
<rect x="399.75" y="575.60" width="3.93" height="2.57" fill="#777777"/>
<line x1="399.75" y1="580.74" x2="403.68" y2="580.74" stroke="#555" stroke-width="0.45"/>
<rect x="400.00" y="575.60" width="3.43" height="36.70" fill="none" stroke="#8a8a8a" stroke-width="0.55"/>
<rect x="403.68" y="585.14" width="3.93" height="27.16" fill="#dcdcdc"/>
<rect x="403.68" y="583.67" width="3.93" height="1.47" fill="#4fb8d0"/>
<rect x="403.68" y="582.57" width="3.93" height="1.10" fill="#d0d352"/>
<rect x="403.68" y="581.47" width="3.93" height="1.10" fill="#62b84d"/>
<rect x="403.68" y="575.60" width="3.93" height="5.87" fill="#777777"/>
<line x1="403.68" y1="585.14" x2="407.61" y2="585.14" stroke="#555" stroke-width="0.45"/>
<rect x="403.93" y="575.60" width="3.43" height="36.70" fill="none" stroke="#8a8a8a" stroke-width="0.55"/>
<rect x="407.61" y="585.14" width="3.93" height="27.16" fill="#dcdcdc"/>
<rect x="407.61" y="584.41" width="3.93" height="0.73" fill="#dc5a62"/>
<rect x="407.61" y="581.11" width="3.93" height="3.30" fill="#4fb8d0"/>
<rect x="407.61" y="580.00" width="3.93" height="1.10" fill="#d0d352"/>
<rect x="407.61" y="575.60" width="3.93" height="4.40" fill="#777777"/>
<line x1="407.61" y1="585.14" x2="411.54" y2="585.14" stroke="#555" stroke-width="0.45"/>
<rect x="407.86" y="575.60" width="3.43" height="36.70" fill="none" stroke="#8a8a8a" stroke-width="0.55"/>
<rect x="411.54" y="585.51" width="3.93" height="26.79" fill="#dcdcdc"/>
<rect x="411.54" y="577.07" width="3.93" height="8.44" fill="#dc5a62"/>
<rect x="411.54" y="575.60" width="3.93" height="1.47" fill="#777777"/>
<line x1="411.54" y1="585.51" x2="415.47" y2="585.51" stroke="#555" stroke-width="0.45"/>
<rect x="411.79" y="575.60" width="3.43" height="36.70" fill="none" stroke="#8a8a8a" stroke-width="0.55"/>
<rect x="415.47" y="579.27" width="3.93" height="33.03" fill="#dcdcdc"/>
<rect x="415.47" y="578.90" width="3.93" height="0.37" fill="#dc5a62"/>
<rect x="415.47" y="577.07" width="3.93" height="1.83" fill="#62b84d"/>
<rect x="415.47" y="575.60" width="3.93" height="1.47" fill="#777777"/>
<line x1="415.47" y1="579.27" x2="419.40" y2="579.27" stroke="#555" stroke-width="0.45"/>
<rect x="415.72" y="575.60" width="3.43" height="36.70" fill="none" stroke="#8a8a8a" stroke-width="0.55"/>
<rect x="419.40" y="588.45" width="3.93" height="23.85" fill="#dcdcdc"/>
<rect x="419.40" y="579.64" width="3.93" height="8.81" fill="#dc5a62"/>
<rect x="419.40" y="578.54" width="3.93" height="1.10" fill="#4fb8d0"/>
<rect x="419.40" y="575.60" width="3.93" height="2.94" fill="#777777"/>
<line x1="419.40" y1="588.45" x2="423.33" y2="588.45" stroke="#555" stroke-width="0.45"/>
<rect x="419.65" y="575.60" width="3.43" height="36.70" fill="none" stroke="#8a8a8a" stroke-width="0.55"/>
<rect x="423.33" y="585.14" width="3.93" height="27.16" fill="#dcdcdc"/>
<rect x="423.33" y="584.41" width="3.93" height="0.73" fill="#dc5a62"/>
<rect x="423.33" y="578.54" width="3.93" height="5.87" fill="#62b84d"/>
<rect x="423.33" y="575.60" width="3.93" height="2.94" fill="#777777"/>
<line x1="423.33" y1="585.14" x2="427.26" y2="585.14" stroke="#555" stroke-width="0.45"/>
<rect x="423.58" y="575.60" width="3.43" height="36.70" fill="none" stroke="#8a8a8a" stroke-width="0.55"/>
<rect x="427.26" y="604.23" width="3.93" height="8.07" fill="#dcdcdc"/>
<rect x="427.26" y="603.49" width="3.93" height="0.73" fill="#dc5a62"/>
<rect x="427.26" y="585.51" width="3.93" height="17.98" fill="#4fb8d0"/>
<rect x="427.26" y="575.60" width="3.93" height="9.91" fill="#777777"/>
<line x1="427.26" y1="604.23" x2="431.19" y2="604.23" stroke="#555" stroke-width="0.45"/>
<rect x="427.51" y="575.60" width="3.43" height="36.70" fill="none" stroke="#8a8a8a" stroke-width="0.55"/>
<rect x="431.19" y="580.00" width="3.93" height="32.30" fill="#dcdcdc"/>
<rect x="431.19" y="579.64" width="3.93" height="0.37" fill="#4fb8d0"/>
<rect x="431.19" y="577.80" width="3.93" height="1.83" fill="#d0d352"/>
<rect x="431.19" y="577.44" width="3.93" height="0.37" fill="#62b84d"/>
<rect x="431.19" y="575.60" width="3.93" height="1.83" fill="#777777"/>
<line x1="431.19" y1="580.00" x2="435.12" y2="580.00" stroke="#555" stroke-width="0.45"/>
<rect x="431.44" y="575.60" width="3.43" height="36.70" fill="none" stroke="#8a8a8a" stroke-width="0.55"/>
<rect x="435.12" y="580.37" width="3.93" height="31.93" fill="#dcdcdc"/>
<rect x="435.12" y="579.27" width="3.93" height="1.10" fill="#dc5a62"/>
<rect x="435.12" y="578.17" width="3.93" height="1.10" fill="#62b84d"/>
<rect x="435.12" y="575.60" width="3.93" height="2.57" fill="#777777"/>
<line x1="435.12" y1="580.37" x2="439.05" y2="580.37" stroke="#555" stroke-width="0.45"/>
<rect x="435.37" y="575.60" width="3.43" height="36.70" fill="none" stroke="#8a8a8a" stroke-width="0.55"/>
<rect x="439.05" y="582.94" width="3.93" height="29.36" fill="#dcdcdc"/>
<rect x="439.05" y="581.47" width="3.93" height="1.47" fill="#dc5a62"/>
<rect x="439.05" y="579.64" width="3.93" height="1.83" fill="#62b84d"/>
<rect x="439.05" y="575.60" width="3.93" height="4.04" fill="#777777"/>
<line x1="439.05" y1="582.94" x2="442.98" y2="582.94" stroke="#555" stroke-width="0.45"/>
<rect x="439.30" y="575.60" width="3.43" height="36.70" fill="none" stroke="#8a8a8a" stroke-width="0.55"/>
<rect x="442.98" y="596.15" width="3.93" height="16.15" fill="#dcdcdc"/>
<rect x="442.98" y="585.88" width="3.93" height="10.28" fill="#dc5a62"/>
<rect x="442.98" y="584.77" width="3.93" height="1.10" fill="#4fb8d0"/>
<rect x="442.98" y="580.37" width="3.93" height="4.40" fill="#62b84d"/>
<rect x="442.98" y="575.60" width="3.93" height="4.77" fill="#777777"/>
<line x1="442.98" y1="596.15" x2="446.91" y2="596.15" stroke="#555" stroke-width="0.45"/>
<rect x="443.23" y="575.60" width="3.43" height="36.70" fill="none" stroke="#8a8a8a" stroke-width="0.55"/>
<rect x="446.91" y="589.18" width="3.93" height="23.12" fill="#dcdcdc"/>
<rect x="446.91" y="580.00" width="3.93" height="9.17" fill="#dc5a62"/>
<rect x="446.91" y="578.54" width="3.93" height="1.47" fill="#4fb8d0"/>
<rect x="446.91" y="577.07" width="3.93" height="1.47" fill="#62b84d"/>
<rect x="446.91" y="575.60" width="3.93" height="1.47" fill="#777777"/>
<line x1="446.91" y1="589.18" x2="450.84" y2="589.18" stroke="#555" stroke-width="0.45"/>
<rect x="447.16" y="575.60" width="3.43" height="36.70" fill="none" stroke="#8a8a8a" stroke-width="0.55"/>
<rect x="450.84" y="585.14" width="3.93" height="27.16" fill="#dcdcdc"/>
<rect x="450.84" y="582.21" width="3.93" height="2.94" fill="#dc5a62"/>
<rect x="450.84" y="578.17" width="3.93" height="4.04" fill="#4fb8d0"/>
<rect x="450.84" y="575.60" width="3.93" height="2.57" fill="#777777"/>
<line x1="450.84" y1="585.14" x2="454.77" y2="585.14" stroke="#555" stroke-width="0.45"/>
<rect x="451.09" y="575.60" width="3.43" height="36.70" fill="none" stroke="#8a8a8a" stroke-width="0.55"/>
<rect x="454.77" y="588.08" width="3.93" height="24.22" fill="#dcdcdc"/>
<rect x="454.77" y="586.98" width="3.93" height="1.10" fill="#dc5a62"/>
<rect x="454.77" y="577.80" width="3.93" height="9.17" fill="#4fb8d0"/>
<rect x="454.77" y="575.97" width="3.93" height="1.83" fill="#d0d352"/>
<rect x="454.77" y="575.60" width="3.93" height="0.37" fill="#777777"/>
<line x1="454.77" y1="588.08" x2="458.70" y2="588.08" stroke="#555" stroke-width="0.45"/>
<rect x="455.02" y="575.60" width="3.43" height="36.70" fill="none" stroke="#8a8a8a" stroke-width="0.55"/>
<rect x="458.70" y="588.08" width="3.93" height="24.22" fill="#dcdcdc"/>
<rect x="458.70" y="586.98" width="3.93" height="1.10" fill="#4fb8d0"/>
<rect x="458.70" y="580.74" width="3.93" height="6.24" fill="#d0d352"/>
<rect x="458.70" y="577.80" width="3.93" height="2.94" fill="#62b84d"/>
<rect x="458.70" y="575.60" width="3.93" height="2.20" fill="#777777"/>
<line x1="458.70" y1="588.08" x2="462.63" y2="588.08" stroke="#555" stroke-width="0.45"/>
<rect x="458.95" y="575.60" width="3.43" height="36.70" fill="none" stroke="#8a8a8a" stroke-width="0.55"/>
<rect x="462.63" y="578.90" width="3.93" height="33.40" fill="#dcdcdc"/>
<rect x="462.63" y="578.17" width="3.93" height="0.73" fill="#dc5a62"/>
<rect x="462.63" y="576.70" width="3.93" height="1.47" fill="#62b84d"/>
<rect x="462.63" y="575.60" width="3.93" height="1.10" fill="#777777"/>
<line x1="462.63" y1="578.90" x2="466.56" y2="578.90" stroke="#555" stroke-width="0.45"/>
<rect x="462.88" y="575.60" width="3.43" height="36.70" fill="none" stroke="#8a8a8a" stroke-width="0.55"/>
<rect x="466.56" y="577.80" width="3.93" height="34.50" fill="#dcdcdc"/>
<rect x="466.56" y="577.44" width="3.93" height="0.37" fill="#dc5a62"/>
<rect x="466.56" y="576.70" width="3.93" height="0.73" fill="#4fb8d0"/>
<rect x="466.56" y="575.60" width="3.93" height="1.10" fill="#777777"/>
<line x1="466.56" y1="577.80" x2="470.49" y2="577.80" stroke="#555" stroke-width="0.45"/>
<rect x="466.81" y="575.60" width="3.43" height="36.70" fill="none" stroke="#8a8a8a" stroke-width="0.55"/>
<rect x="470.49" y="578.17" width="3.93" height="34.13" fill="#dcdcdc"/>
<rect x="470.49" y="576.70" width="3.93" height="1.47" fill="#d0d352"/>
<rect x="470.49" y="575.60" width="3.93" height="1.10" fill="#777777"/>
<line x1="470.49" y1="578.17" x2="474.42" y2="578.17" stroke="#555" stroke-width="0.45"/>
<rect x="470.74" y="575.60" width="3.43" height="36.70" fill="none" stroke="#8a8a8a" stroke-width="0.55"/>
<rect x="474.42" y="582.21" width="3.93" height="30.09" fill="#dcdcdc"/>
<rect x="474.42" y="581.11" width="3.93" height="1.10" fill="#dc5a62"/>
<rect x="474.42" y="580.37" width="3.93" height="0.73" fill="#4fb8d0"/>
<rect x="474.42" y="580.00" width="3.93" height="0.37" fill="#d0d352"/>
<rect x="474.42" y="575.60" width="3.93" height="4.40" fill="#777777"/>
<line x1="474.42" y1="582.21" x2="478.35" y2="582.21" stroke="#555" stroke-width="0.45"/>
<rect x="474.67" y="575.60" width="3.43" height="36.70" fill="none" stroke="#8a8a8a" stroke-width="0.55"/>
<rect x="478.35" y="579.27" width="3.93" height="33.03" fill="#dcdcdc"/>
<rect x="478.35" y="578.17" width="3.93" height="1.10" fill="#dc5a62"/>
<rect x="478.35" y="577.43" width="3.93" height="0.73" fill="#4fb8d0"/>
<rect x="478.35" y="575.60" width="3.93" height="1.83" fill="#777777"/>
<line x1="478.35" y1="579.27" x2="482.28" y2="579.27" stroke="#555" stroke-width="0.45"/>
<rect x="478.60" y="575.60" width="3.43" height="36.70" fill="none" stroke="#8a8a8a" stroke-width="0.55"/>
<rect x="482.28" y="581.47" width="3.93" height="30.83" fill="#dcdcdc"/>
<rect x="482.28" y="581.11" width="3.93" height="0.37" fill="#dc5a62"/>
<rect x="482.28" y="580.74" width="3.93" height="0.37" fill="#62b84d"/>
<rect x="482.28" y="575.60" width="3.93" height="5.14" fill="#777777"/>
<line x1="482.28" y1="581.47" x2="486.21" y2="581.47" stroke="#555" stroke-width="0.45"/>
<rect x="482.53" y="575.60" width="3.43" height="36.70" fill="none" stroke="#8a8a8a" stroke-width="0.55"/>
<rect x="486.21" y="577.80" width="3.93" height="34.50" fill="#dcdcdc"/>
<rect x="486.21" y="576.33" width="3.93" height="1.47" fill="#62b84d"/>
<rect x="486.21" y="575.60" width="3.93" height="0.73" fill="#777777"/>
<line x1="486.21" y1="577.80" x2="490.14" y2="577.80" stroke="#555" stroke-width="0.45"/>
<rect x="486.46" y="575.60" width="3.43" height="36.70" fill="none" stroke="#8a8a8a" stroke-width="0.55"/>
<rect x="490.14" y="577.07" width="3.93" height="35.23" fill="#dcdcdc"/>
<rect x="490.14" y="576.33" width="3.93" height="0.73" fill="#dc5a62"/>
<rect x="490.14" y="575.60" width="3.93" height="0.73" fill="#777777"/>
<line x1="490.14" y1="577.07" x2="494.07" y2="577.07" stroke="#555" stroke-width="0.45"/>
<rect x="490.39" y="575.60" width="3.43" height="36.70" fill="none" stroke="#8a8a8a" stroke-width="0.55"/>
<rect x="494.07" y="577.80" width="3.93" height="34.50" fill="#dcdcdc"/>
<rect x="494.07" y="577.44" width="3.93" height="0.37" fill="#dc5a62"/>
<rect x="494.07" y="576.70" width="3.93" height="0.73" fill="#62b84d"/>
<rect x="494.07" y="575.60" width="3.93" height="1.10" fill="#777777"/>
<line x1="494.07" y1="577.80" x2="498.00" y2="577.80" stroke="#555" stroke-width="0.45"/>
<rect x="494.32" y="575.60" width="3.43" height="36.70" fill="none" stroke="#8a8a8a" stroke-width="0.55"/>
<rect x="498.00" y="581.11" width="3.93" height="31.19" fill="#dcdcdc"/>
<rect x="498.00" y="580.74" width="3.93" height="0.37" fill="#dc5a62"/>
<rect x="498.00" y="579.64" width="3.93" height="1.10" fill="#4fb8d0"/>
<rect x="498.00" y="575.60" width="3.93" height="4.04" fill="#777777"/>
<line x1="498.00" y1="581.11" x2="501.93" y2="581.11" stroke="#555" stroke-width="0.45"/>
<rect x="498.25" y="575.60" width="3.43" height="36.70" fill="none" stroke="#8a8a8a" stroke-width="0.55"/>
<rect x="501.93" y="602.39" width="3.93" height="9.91" fill="#dcdcdc"/>
<rect x="501.93" y="601.29" width="3.93" height="1.10" fill="#dc5a62"/>
<rect x="501.93" y="595.42" width="3.93" height="5.87" fill="#4fb8d0"/>
<rect x="501.93" y="592.48" width="3.93" height="2.94" fill="#d0d352"/>
<rect x="501.93" y="575.60" width="3.93" height="16.88" fill="#777777"/>
<line x1="501.93" y1="602.39" x2="505.86" y2="602.39" stroke="#555" stroke-width="0.45"/>
<rect x="502.18" y="575.60" width="3.43" height="36.70" fill="none" stroke="#8a8a8a" stroke-width="0.55"/>
<rect x="505.86" y="594.32" width="3.93" height="17.98" fill="#dcdcdc"/>
<rect x="505.86" y="592.85" width="3.93" height="1.47" fill="#dc5a62"/>
<rect x="505.86" y="578.54" width="3.93" height="14.31" fill="#4fb8d0"/>
<rect x="505.86" y="577.80" width="3.93" height="0.73" fill="#d0d352"/>
<rect x="505.86" y="575.60" width="3.93" height="2.20" fill="#777777"/>
<line x1="505.86" y1="594.32" x2="509.79" y2="594.32" stroke="#555" stroke-width="0.45"/>
<rect x="506.11" y="575.60" width="3.43" height="36.70" fill="none" stroke="#8a8a8a" stroke-width="0.55"/>
<rect x="509.79" y="594.32" width="3.93" height="17.98" fill="#dcdcdc"/>
<rect x="509.79" y="592.85" width="3.93" height="1.47" fill="#dc5a62"/>
<rect x="509.79" y="581.84" width="3.93" height="11.01" fill="#4fb8d0"/>
<rect x="509.79" y="581.47" width="3.93" height="0.37" fill="#d0d352"/>
<rect x="509.79" y="581.11" width="3.93" height="0.37" fill="#62b84d"/>
<rect x="509.79" y="575.60" width="3.93" height="5.50" fill="#777777"/>
<line x1="509.79" y1="594.32" x2="513.72" y2="594.32" stroke="#555" stroke-width="0.45"/>
<rect x="510.04" y="575.60" width="3.43" height="36.70" fill="none" stroke="#8a8a8a" stroke-width="0.55"/>
<rect x="513.72" y="603.12" width="3.93" height="9.17" fill="#dcdcdc"/>
<rect x="513.72" y="601.29" width="3.93" height="1.83" fill="#dc5a62"/>
<rect x="513.72" y="577.80" width="3.93" height="23.49" fill="#4fb8d0"/>
<rect x="513.72" y="576.70" width="3.93" height="1.10" fill="#d0d352"/>
<rect x="513.72" y="575.60" width="3.93" height="1.10" fill="#777777"/>
<line x1="513.72" y1="603.12" x2="517.65" y2="603.12" stroke="#555" stroke-width="0.45"/>
<rect x="513.97" y="575.60" width="3.43" height="36.70" fill="none" stroke="#8a8a8a" stroke-width="0.55"/>
<rect x="517.65" y="580.00" width="3.93" height="32.30" fill="#dcdcdc"/>
<rect x="517.65" y="579.64" width="3.93" height="0.37" fill="#d0d352"/>
<rect x="517.65" y="577.80" width="3.93" height="1.83" fill="#62b84d"/>
<rect x="517.65" y="575.60" width="3.93" height="2.20" fill="#777777"/>
<line x1="517.65" y1="580.00" x2="521.58" y2="580.00" stroke="#555" stroke-width="0.45"/>
<rect x="517.90" y="575.60" width="3.43" height="36.70" fill="none" stroke="#8a8a8a" stroke-width="0.55"/>
<rect x="521.58" y="585.14" width="3.93" height="27.16" fill="#dcdcdc"/>
<rect x="521.58" y="584.41" width="3.93" height="0.73" fill="#4fb8d0"/>
<rect x="521.58" y="577.80" width="3.93" height="6.61" fill="#62b84d"/>
<rect x="521.58" y="575.60" width="3.93" height="2.20" fill="#777777"/>
<line x1="521.58" y1="585.14" x2="525.51" y2="585.14" stroke="#555" stroke-width="0.45"/>
<rect x="521.83" y="575.60" width="3.43" height="36.70" fill="none" stroke="#8a8a8a" stroke-width="0.55"/>
<rect x="525.51" y="580.74" width="3.93" height="31.56" fill="#dcdcdc"/>
<rect x="525.51" y="580.00" width="3.93" height="0.73" fill="#dc5a62"/>
<rect x="525.51" y="577.80" width="3.93" height="2.20" fill="#62b84d"/>
<rect x="525.51" y="575.60" width="3.93" height="2.20" fill="#777777"/>
<line x1="525.51" y1="580.74" x2="529.44" y2="580.74" stroke="#555" stroke-width="0.45"/>
<rect x="525.76" y="575.60" width="3.43" height="36.70" fill="none" stroke="#8a8a8a" stroke-width="0.55"/>
<rect x="529.44" y="577.44" width="3.93" height="34.86" fill="#dcdcdc"/>
<rect x="529.44" y="576.33" width="3.93" height="1.10" fill="#62b84d"/>
<rect x="529.44" y="575.60" width="3.93" height="0.73" fill="#777777"/>
<line x1="529.44" y1="577.44" x2="533.37" y2="577.44" stroke="#555" stroke-width="0.45"/>
<rect x="529.69" y="575.60" width="3.43" height="36.70" fill="none" stroke="#8a8a8a" stroke-width="0.55"/>
<rect x="533.37" y="577.07" width="3.93" height="35.23" fill="#dcdcdc"/>
<rect x="533.37" y="576.70" width="3.93" height="0.37" fill="#dc5a62"/>
<rect x="533.37" y="575.60" width="3.93" height="1.10" fill="#777777"/>
<line x1="533.37" y1="577.07" x2="537.30" y2="577.07" stroke="#555" stroke-width="0.45"/>
<rect x="533.62" y="575.60" width="3.43" height="36.70" fill="none" stroke="#8a8a8a" stroke-width="0.55"/>
<rect x="537.30" y="577.07" width="3.93" height="35.23" fill="#dcdcdc"/>
<rect x="537.30" y="576.33" width="3.93" height="0.73" fill="#d0d352"/>
<rect x="537.30" y="575.60" width="3.93" height="0.73" fill="#777777"/>
<line x1="537.30" y1="577.07" x2="541.23" y2="577.07" stroke="#555" stroke-width="0.45"/>
<rect x="537.55" y="575.60" width="3.43" height="36.70" fill="none" stroke="#8a8a8a" stroke-width="0.55"/>
<rect x="541.23" y="578.54" width="3.93" height="33.76" fill="#dcdcdc"/>
<rect x="541.23" y="577.80" width="3.93" height="0.73" fill="#dc5a62"/>
<rect x="541.23" y="575.60" width="3.93" height="2.20" fill="#777777"/>
<line x1="541.23" y1="578.54" x2="545.16" y2="578.54" stroke="#555" stroke-width="0.45"/>
<rect x="541.48" y="575.60" width="3.43" height="36.70" fill="none" stroke="#8a8a8a" stroke-width="0.55"/>
<rect x="545.16" y="580.37" width="3.93" height="31.93" fill="#dcdcdc"/>
<rect x="545.16" y="575.60" width="3.93" height="4.77" fill="#777777"/>
<line x1="545.16" y1="580.37" x2="549.09" y2="580.37" stroke="#555" stroke-width="0.45"/>
<rect x="545.41" y="575.60" width="3.43" height="36.70" fill="none" stroke="#8a8a8a" stroke-width="0.55"/>
<rect x="549.09" y="580.00" width="3.93" height="32.30" fill="#dcdcdc"/>
<rect x="549.09" y="578.54" width="3.93" height="1.47" fill="#dc5a62"/>
<rect x="549.09" y="575.60" width="3.93" height="2.94" fill="#777777"/>
<line x1="549.09" y1="580.00" x2="553.02" y2="580.00" stroke="#555" stroke-width="0.45"/>
<rect x="549.34" y="575.60" width="3.43" height="36.70" fill="none" stroke="#8a8a8a" stroke-width="0.55"/>
<rect x="553.02" y="578.17" width="3.93" height="34.13" fill="#dcdcdc"/>
<rect x="553.02" y="577.07" width="3.93" height="1.10" fill="#dc5a62"/>
<rect x="553.02" y="575.60" width="3.93" height="1.47" fill="#777777"/>
<line x1="553.02" y1="578.17" x2="556.95" y2="578.17" stroke="#555" stroke-width="0.45"/>
<rect x="553.27" y="575.60" width="3.43" height="36.70" fill="none" stroke="#8a8a8a" stroke-width="0.55"/>
<rect x="556.95" y="577.80" width="3.93" height="34.50" fill="#dcdcdc"/>
<rect x="556.95" y="576.70" width="3.93" height="1.10" fill="#4fb8d0"/>
<rect x="556.95" y="575.60" width="3.93" height="1.10" fill="#777777"/>
<line x1="556.95" y1="577.80" x2="560.88" y2="577.80" stroke="#555" stroke-width="0.45"/>
<rect x="557.20" y="575.60" width="3.43" height="36.70" fill="none" stroke="#8a8a8a" stroke-width="0.55"/>
<rect x="560.88" y="581.11" width="3.93" height="31.19" fill="#dcdcdc"/>
<rect x="560.88" y="580.74" width="3.93" height="0.37" fill="#dc5a62"/>
<rect x="560.88" y="579.64" width="3.93" height="1.10" fill="#62b84d"/>
<rect x="560.88" y="575.60" width="3.93" height="4.04" fill="#777777"/>
<line x1="560.88" y1="581.11" x2="564.81" y2="581.11" stroke="#555" stroke-width="0.45"/>
<rect x="561.13" y="575.60" width="3.43" height="36.70" fill="none" stroke="#8a8a8a" stroke-width="0.55"/>
<rect x="564.81" y="577.44" width="3.93" height="34.86" fill="#dcdcdc"/>
<rect x="564.81" y="576.33" width="3.93" height="1.10" fill="#62b84d"/>
<rect x="564.81" y="575.60" width="3.93" height="0.73" fill="#777777"/>
<line x1="564.81" y1="577.44" x2="568.74" y2="577.44" stroke="#555" stroke-width="0.45"/>
<rect x="565.06" y="575.60" width="3.43" height="36.70" fill="none" stroke="#8a8a8a" stroke-width="0.55"/>
<rect x="568.74" y="584.77" width="3.93" height="27.52" fill="#dcdcdc"/>
<rect x="568.74" y="580.74" width="3.93" height="4.04" fill="#dc5a62"/>
<rect x="568.74" y="580.00" width="3.93" height="0.73" fill="#d0d352"/>
<rect x="568.74" y="577.80" width="3.93" height="2.20" fill="#62b84d"/>
<rect x="568.74" y="575.60" width="3.93" height="2.20" fill="#777777"/>
<line x1="568.74" y1="584.77" x2="572.67" y2="584.77" stroke="#555" stroke-width="0.45"/>
<rect x="568.99" y="575.60" width="3.43" height="36.70" fill="none" stroke="#8a8a8a" stroke-width="0.55"/>
<rect x="572.67" y="596.52" width="3.93" height="15.78" fill="#dcdcdc"/>
<rect x="572.67" y="579.27" width="3.93" height="17.25" fill="#dc5a62"/>
<rect x="572.67" y="577.80" width="3.93" height="1.47" fill="#62b84d"/>
<rect x="572.67" y="575.60" width="3.93" height="2.20" fill="#777777"/>
<line x1="572.67" y1="596.52" x2="576.60" y2="596.52" stroke="#555" stroke-width="0.45"/>
<rect x="572.92" y="575.60" width="3.43" height="36.70" fill="none" stroke="#8a8a8a" stroke-width="0.55"/>
<rect x="576.60" y="579.27" width="3.93" height="33.03" fill="#dcdcdc"/>
<rect x="576.60" y="577.43" width="3.93" height="1.83" fill="#dc5a62"/>
<rect x="576.60" y="575.60" width="3.93" height="1.83" fill="#777777"/>
<line x1="576.60" y1="579.27" x2="580.53" y2="579.27" stroke="#555" stroke-width="0.45"/>
<rect x="576.85" y="575.60" width="3.43" height="36.70" fill="none" stroke="#8a8a8a" stroke-width="0.55"/>
<rect x="580.53" y="586.61" width="3.93" height="25.69" fill="#dcdcdc"/>
<rect x="580.53" y="584.41" width="3.93" height="2.20" fill="#dc5a62"/>
<rect x="580.53" y="582.94" width="3.93" height="1.47" fill="#4fb8d0"/>
<rect x="580.53" y="582.57" width="3.93" height="0.37" fill="#62b84d"/>
<rect x="580.53" y="575.60" width="3.93" height="6.97" fill="#777777"/>
<line x1="580.53" y1="586.61" x2="584.46" y2="586.61" stroke="#555" stroke-width="0.45"/>
<rect x="580.78" y="575.60" width="3.43" height="36.70" fill="none" stroke="#8a8a8a" stroke-width="0.55"/>
<rect x="584.46" y="600.19" width="3.93" height="12.11" fill="#dcdcdc"/>
<rect x="584.46" y="595.05" width="3.93" height="5.14" fill="#dc5a62"/>
<rect x="584.46" y="589.18" width="3.93" height="5.87" fill="#4fb8d0"/>
<rect x="584.46" y="588.08" width="3.93" height="1.10" fill="#d0d352"/>
<rect x="584.46" y="575.60" width="3.93" height="12.48" fill="#777777"/>
<line x1="584.46" y1="600.19" x2="588.39" y2="600.19" stroke="#555" stroke-width="0.45"/>
<rect x="584.71" y="575.60" width="3.43" height="36.70" fill="none" stroke="#8a8a8a" stroke-width="0.55"/>
<rect x="588.39" y="599.82" width="3.93" height="12.48" fill="#dcdcdc"/>
<rect x="588.39" y="592.48" width="3.93" height="7.34" fill="#dc5a62"/>
<rect x="588.39" y="577.07" width="3.93" height="15.41" fill="#4fb8d0"/>
<rect x="588.39" y="576.33" width="3.93" height="0.73" fill="#d0d352"/>
<rect x="588.39" y="575.60" width="3.93" height="0.73" fill="#777777"/>
<line x1="588.39" y1="599.82" x2="592.32" y2="599.82" stroke="#555" stroke-width="0.45"/>
<rect x="588.64" y="575.60" width="3.43" height="36.70" fill="none" stroke="#8a8a8a" stroke-width="0.55"/>
<rect x="592.32" y="580.37" width="3.93" height="31.93" fill="#dcdcdc"/>
<rect x="592.32" y="579.64" width="3.93" height="0.73" fill="#d0d352"/>
<rect x="592.32" y="577.80" width="3.93" height="1.83" fill="#62b84d"/>
<rect x="592.32" y="575.60" width="3.93" height="2.20" fill="#777777"/>
<line x1="592.32" y1="580.37" x2="596.25" y2="580.37" stroke="#555" stroke-width="0.45"/>
<rect x="592.57" y="575.60" width="3.43" height="36.70" fill="none" stroke="#8a8a8a" stroke-width="0.55"/>
<rect x="596.25" y="591.38" width="3.93" height="20.92" fill="#dcdcdc"/>
<rect x="596.25" y="590.65" width="3.93" height="0.73" fill="#dc5a62"/>
<rect x="596.25" y="582.57" width="3.93" height="8.07" fill="#4fb8d0"/>
<rect x="596.25" y="581.11" width="3.93" height="1.47" fill="#62b84d"/>
<rect x="596.25" y="575.60" width="3.93" height="5.50" fill="#777777"/>
<line x1="596.25" y1="591.38" x2="600.18" y2="591.38" stroke="#555" stroke-width="0.45"/>
<rect x="596.50" y="575.60" width="3.43" height="36.70" fill="none" stroke="#8a8a8a" stroke-width="0.55"/>
<rect x="600.18" y="596.15" width="3.93" height="16.15" fill="#dcdcdc"/>
<rect x="600.18" y="584.04" width="3.93" height="12.11" fill="#4fb8d0"/>
<rect x="600.18" y="582.94" width="3.93" height="1.10" fill="#d0d352"/>
<rect x="600.18" y="577.80" width="3.93" height="5.14" fill="#62b84d"/>
<rect x="600.18" y="575.60" width="3.93" height="2.20" fill="#777777"/>
<line x1="600.18" y1="596.15" x2="604.11" y2="596.15" stroke="#555" stroke-width="0.45"/>
<rect x="600.43" y="575.60" width="3.43" height="36.70" fill="none" stroke="#8a8a8a" stroke-width="0.55"/>
<rect x="604.11" y="582.94" width="3.93" height="29.36" fill="#dcdcdc"/>
<rect x="604.11" y="581.84" width="3.93" height="1.10" fill="#d0d352"/>
<rect x="604.11" y="580.37" width="3.93" height="1.47" fill="#62b84d"/>
<rect x="604.11" y="575.60" width="3.93" height="4.77" fill="#777777"/>
<line x1="604.11" y1="582.94" x2="608.04" y2="582.94" stroke="#555" stroke-width="0.45"/>
<rect x="604.36" y="575.60" width="3.43" height="36.70" fill="none" stroke="#8a8a8a" stroke-width="0.55"/>
<rect x="608.04" y="580.37" width="3.93" height="31.93" fill="#dcdcdc"/>
<rect x="608.04" y="579.27" width="3.93" height="1.10" fill="#dc5a62"/>
<rect x="608.04" y="578.54" width="3.93" height="0.73" fill="#4fb8d0"/>
<rect x="608.04" y="578.17" width="3.93" height="0.37" fill="#d0d352"/>
<rect x="608.04" y="575.60" width="3.93" height="2.57" fill="#777777"/>
<line x1="608.04" y1="580.37" x2="611.97" y2="580.37" stroke="#555" stroke-width="0.45"/>
<rect x="608.29" y="575.60" width="3.43" height="36.70" fill="none" stroke="#8a8a8a" stroke-width="0.55"/>
<rect x="611.97" y="579.27" width="3.93" height="33.03" fill="#dcdcdc"/>
<rect x="611.97" y="578.54" width="3.93" height="0.73" fill="#dc5a62"/>
<rect x="611.97" y="578.17" width="3.93" height="0.37" fill="#62b84d"/>
<rect x="611.97" y="575.60" width="3.93" height="2.57" fill="#777777"/>
<line x1="611.97" y1="579.27" x2="615.90" y2="579.27" stroke="#555" stroke-width="0.45"/>
<rect x="612.22" y="575.60" width="3.43" height="36.70" fill="none" stroke="#8a8a8a" stroke-width="0.55"/>
<rect x="615.90" y="575.97" width="3.93" height="36.33" fill="#dcdcdc"/>
<rect x="615.90" y="575.60" width="3.93" height="0.37" fill="#777777"/>
<line x1="615.90" y1="575.97" x2="619.83" y2="575.97" stroke="#555" stroke-width="0.45"/>
<rect x="616.15" y="575.60" width="3.43" height="36.70" fill="none" stroke="#8a8a8a" stroke-width="0.55"/>
<rect x="619.83" y="579.27" width="3.93" height="33.03" fill="#dcdcdc"/>
<rect x="619.83" y="577.80" width="3.93" height="1.47" fill="#dc5a62"/>
<rect x="619.83" y="576.33" width="3.93" height="1.47" fill="#62b84d"/>
<rect x="619.83" y="575.60" width="3.93" height="0.73" fill="#777777"/>
<line x1="619.83" y1="579.27" x2="623.76" y2="579.27" stroke="#555" stroke-width="0.45"/>
<rect x="620.08" y="575.60" width="3.43" height="36.70" fill="none" stroke="#8a8a8a" stroke-width="0.55"/>
<rect x="623.76" y="581.84" width="3.93" height="30.46" fill="#dcdcdc"/>
<rect x="623.76" y="576.70" width="3.93" height="5.14" fill="#dc5a62"/>
<rect x="623.76" y="575.60" width="3.93" height="1.10" fill="#777777"/>
<line x1="623.76" y1="581.84" x2="627.69" y2="581.84" stroke="#555" stroke-width="0.45"/>
<rect x="624.01" y="575.60" width="3.43" height="36.70" fill="none" stroke="#8a8a8a" stroke-width="0.55"/>
<rect x="627.69" y="577.44" width="3.93" height="34.86" fill="#dcdcdc"/>
<rect x="627.69" y="575.97" width="3.93" height="1.47" fill="#62b84d"/>
<rect x="627.69" y="575.60" width="3.93" height="0.37" fill="#777777"/>
<line x1="627.69" y1="577.44" x2="631.62" y2="577.44" stroke="#555" stroke-width="0.45"/>
<rect x="627.94" y="575.60" width="3.43" height="36.70" fill="none" stroke="#8a8a8a" stroke-width="0.55"/>
<rect x="631.62" y="578.90" width="3.93" height="33.40" fill="#dcdcdc"/>
<rect x="631.62" y="578.17" width="3.93" height="0.73" fill="#4fb8d0"/>
<rect x="631.62" y="577.80" width="3.93" height="0.37" fill="#62b84d"/>
<rect x="631.62" y="575.60" width="3.93" height="2.20" fill="#777777"/>
<line x1="631.62" y1="578.90" x2="635.55" y2="578.90" stroke="#555" stroke-width="0.45"/>
<rect x="631.87" y="575.60" width="3.43" height="36.70" fill="none" stroke="#8a8a8a" stroke-width="0.55"/>
<rect x="635.55" y="581.11" width="3.93" height="31.19" fill="#dcdcdc"/>
<rect x="635.55" y="579.27" width="3.93" height="1.83" fill="#4fb8d0"/>
<rect x="635.55" y="578.54" width="3.93" height="0.73" fill="#62b84d"/>
<rect x="635.55" y="575.60" width="3.93" height="2.94" fill="#777777"/>
<line x1="635.55" y1="581.11" x2="639.48" y2="581.11" stroke="#555" stroke-width="0.45"/>
<rect x="635.80" y="575.60" width="3.43" height="36.70" fill="none" stroke="#8a8a8a" stroke-width="0.55"/>
<rect x="639.48" y="580.00" width="3.93" height="32.30" fill="#dcdcdc"/>
<rect x="639.48" y="579.27" width="3.93" height="0.73" fill="#dc5a62"/>
<rect x="639.48" y="578.54" width="3.93" height="0.73" fill="#4fb8d0"/>
<rect x="639.48" y="577.43" width="3.93" height="1.10" fill="#d0d352"/>
<rect x="639.48" y="575.60" width="3.93" height="1.83" fill="#777777"/>
<line x1="639.48" y1="580.00" x2="643.41" y2="580.00" stroke="#555" stroke-width="0.45"/>
<rect x="639.73" y="575.60" width="3.43" height="36.70" fill="none" stroke="#8a8a8a" stroke-width="0.55"/>
<rect x="643.41" y="579.27" width="3.93" height="33.03" fill="#dcdcdc"/>
<rect x="643.41" y="578.54" width="3.93" height="0.73" fill="#dc5a62"/>
<rect x="643.41" y="577.07" width="3.93" height="1.47" fill="#4fb8d0"/>
<rect x="643.41" y="575.60" width="3.93" height="1.47" fill="#777777"/>
<line x1="643.41" y1="579.27" x2="647.34" y2="579.27" stroke="#555" stroke-width="0.45"/>
<rect x="643.66" y="575.60" width="3.43" height="36.70" fill="none" stroke="#8a8a8a" stroke-width="0.55"/>
<rect x="647.34" y="578.90" width="3.93" height="33.40" fill="#dcdcdc"/>
<rect x="647.34" y="576.70" width="3.93" height="2.20" fill="#dc5a62"/>
<rect x="647.34" y="576.33" width="3.93" height="0.37" fill="#4fb8d0"/>
<rect x="647.34" y="575.60" width="3.93" height="0.73" fill="#777777"/>
<line x1="647.34" y1="578.90" x2="651.27" y2="578.90" stroke="#555" stroke-width="0.45"/>
<rect x="647.59" y="575.60" width="3.43" height="36.70" fill="none" stroke="#8a8a8a" stroke-width="0.55"/>
<rect x="651.27" y="584.41" width="3.93" height="27.89" fill="#dcdcdc"/>
<rect x="651.27" y="582.57" width="3.93" height="1.83" fill="#dc5a62"/>
<rect x="651.27" y="579.27" width="3.93" height="3.30" fill="#4fb8d0"/>
<rect x="651.27" y="578.54" width="3.93" height="0.73" fill="#62b84d"/>
<rect x="651.27" y="575.60" width="3.93" height="2.94" fill="#777777"/>
<line x1="651.27" y1="584.41" x2="655.20" y2="584.41" stroke="#555" stroke-width="0.45"/>
<rect x="651.52" y="575.60" width="3.43" height="36.70" fill="none" stroke="#8a8a8a" stroke-width="0.55"/>
<rect x="655.20" y="583.67" width="3.93" height="28.63" fill="#dcdcdc"/>
<rect x="655.20" y="575.97" width="3.93" height="7.71" fill="#4fb8d0"/>
<rect x="655.20" y="575.60" width="3.93" height="0.37" fill="#62b84d"/>
<line x1="655.20" y1="583.67" x2="659.13" y2="583.67" stroke="#555" stroke-width="0.45"/>
<rect x="655.45" y="575.60" width="3.43" height="36.70" fill="none" stroke="#8a8a8a" stroke-width="0.55"/>
<rect x="659.13" y="577.07" width="3.93" height="35.23" fill="#dcdcdc"/>
<rect x="659.13" y="575.60" width="3.93" height="1.47" fill="#777777"/>
<line x1="659.13" y1="577.07" x2="663.06" y2="577.07" stroke="#555" stroke-width="0.45"/>
<rect x="659.38" y="575.60" width="3.43" height="36.70" fill="none" stroke="#8a8a8a" stroke-width="0.55"/>
<text x="377.80" y="514.80" font-size="6.3" text-anchor="end" fill="#333">1.00</text>
<text x="377.80" y="523.98" font-size="6.3" text-anchor="end" fill="#333">0.75</text>
<text x="377.80" y="533.15" font-size="6.3" text-anchor="end" fill="#333">0.50</text>
<text x="377.80" y="542.33" font-size="6.3" text-anchor="end" fill="#333">0.25</text>
<text x="377.80" y="551.50" font-size="6.3" text-anchor="end" fill="#333">0.00</text>
<text x="361.00" y="530.00" font-size="6.6" text-anchor="middle" fill="#333" transform="rotate(-90 361.00 530.00)">Fraction</text>
<text x="377.80" y="577.80" font-size="6.3" text-anchor="end" fill="#333">1.00</text>
<text x="377.80" y="586.98" font-size="6.3" text-anchor="end" fill="#333">0.75</text>
<text x="377.80" y="596.15" font-size="6.3" text-anchor="end" fill="#333">0.50</text>
<text x="377.80" y="605.33" font-size="6.3" text-anchor="end" fill="#333">0.25</text>
<text x="377.80" y="614.50" font-size="6.3" text-anchor="end" fill="#333">0.00</text>
<text x="361.00" y="594.00" font-size="6.6" text-anchor="middle" fill="#333" transform="rotate(-90 361.00 594.00)">Fraction</text>
<rect x="665.6" y="513.70" width="5.6" height="4.7" fill="#dcdcdc" stroke="#888" stroke-width="0.4"/>
<text x="672.20" y="518.60" font-size="7.0" text-anchor="start" fill="#333">Ref</text>
<rect x="665.6" y="519.55" width="5.6" height="4.7" fill="#dc5a62" stroke="#888" stroke-width="0.4"/>
<text x="672.20" y="524.45" font-size="7.0" text-anchor="start" fill="#333">A</text>
<rect x="665.6" y="525.40" width="5.6" height="4.7" fill="#4fb8d0" stroke="#888" stroke-width="0.4"/>
<text x="672.20" y="530.30" font-size="7.0" text-anchor="start" fill="#333">C</text>
<rect x="665.6" y="531.25" width="5.6" height="4.7" fill="#d0d352" stroke="#888" stroke-width="0.4"/>
<text x="672.20" y="536.15" font-size="7.0" text-anchor="start" fill="#333">G</text>
<rect x="665.6" y="537.10" width="5.6" height="4.7" fill="#62b84d" stroke="#888" stroke-width="0.4"/>
<text x="672.20" y="542.00" font-size="7.0" text-anchor="start" fill="#333">U</text>
<rect x="665.6" y="542.95" width="5.6" height="4.7" fill="#777777" stroke="#888" stroke-width="0.4"/>
<text x="672.20" y="547.85" font-size="7.0" text-anchor="start" fill="#333">N</text>
<line x1="413.20" y1="552.00" x2="413.20" y2="556.80" stroke="#777" stroke-width="0.7"/>
<line x1="413.20" y1="565.30" x2="413.20" y2="570.40" stroke="#777" stroke-width="0.7"/>
<text x="413.20" y="563.00" font-size="6.1" text-anchor="middle" fill="#333">m1G9</text>
<line x1="428.40" y1="552.00" x2="428.40" y2="556.80" stroke="#777" stroke-width="0.7"/>
<line x1="428.40" y1="565.30" x2="428.40" y2="570.40" stroke="#777" stroke-width="0.7"/>
<text x="428.40" y="563.00" font-size="6.1" text-anchor="middle" fill="#333">Ψ13</text>
<line x1="456.90" y1="552.00" x2="456.90" y2="556.80" stroke="#777" stroke-width="0.7"/>
<line x1="456.90" y1="565.30" x2="456.90" y2="570.40" stroke="#777" stroke-width="0.7"/>
<text x="457.50" y="563.00" font-size="6.1" text-anchor="middle" fill="#333">D20</text>
<line x1="503.30" y1="552.00" x2="503.30" y2="556.80" stroke="#777" stroke-width="0.7"/>
<line x1="503.30" y1="565.30" x2="503.30" y2="570.40" stroke="#777" stroke-width="0.7"/>
<text x="503.30" y="563.00" font-size="6.1" text-anchor="middle" fill="#333">Ψ32</text>
<line x1="573.70" y1="552.00" x2="573.70" y2="556.80" stroke="#777" stroke-width="0.7"/>
<line x1="573.70" y1="565.30" x2="573.70" y2="570.40" stroke="#777" stroke-width="0.7"/>
<text x="573.60" y="563.0" font-size="5.9" text-anchor="middle" fill="#333">m<tspan font-size="4.0" dy="-1.8">7</tspan><tspan dy="1.8">G50</tspan></text>
<line x1="589.90" y1="552.00" x2="589.90" y2="556.80" stroke="#777" stroke-width="0.7"/>
<line x1="589.90" y1="565.30" x2="589.90" y2="570.40" stroke="#777" stroke-width="0.7"/>
<text x="589.70" y="563.00" font-size="6.1" text-anchor="middle" fill="#333">Ψ54</text>
<line x1="613.40" y1="552.00" x2="613.40" y2="556.80" stroke="#777" stroke-width="0.7"/>
<line x1="613.40" y1="565.30" x2="613.40" y2="570.40" stroke="#777" stroke-width="0.7"/>
<text x="613.40" y="563.00" font-size="6.1" text-anchor="middle" fill="#333">Ψ59</text>
<line x1="516.20" y1="552.00" x2="517.40" y2="556.40" stroke="#777" stroke-width="0.7"/>
<line x1="517.40" y1="565.60" x2="516.20" y2="570.40" stroke="#777" stroke-width="0.7"/>
<text x="516.20" y="563.00" font-size="5.7" text-anchor="start" fill="#333">mcm5s2U35</text></svg></body></html>
